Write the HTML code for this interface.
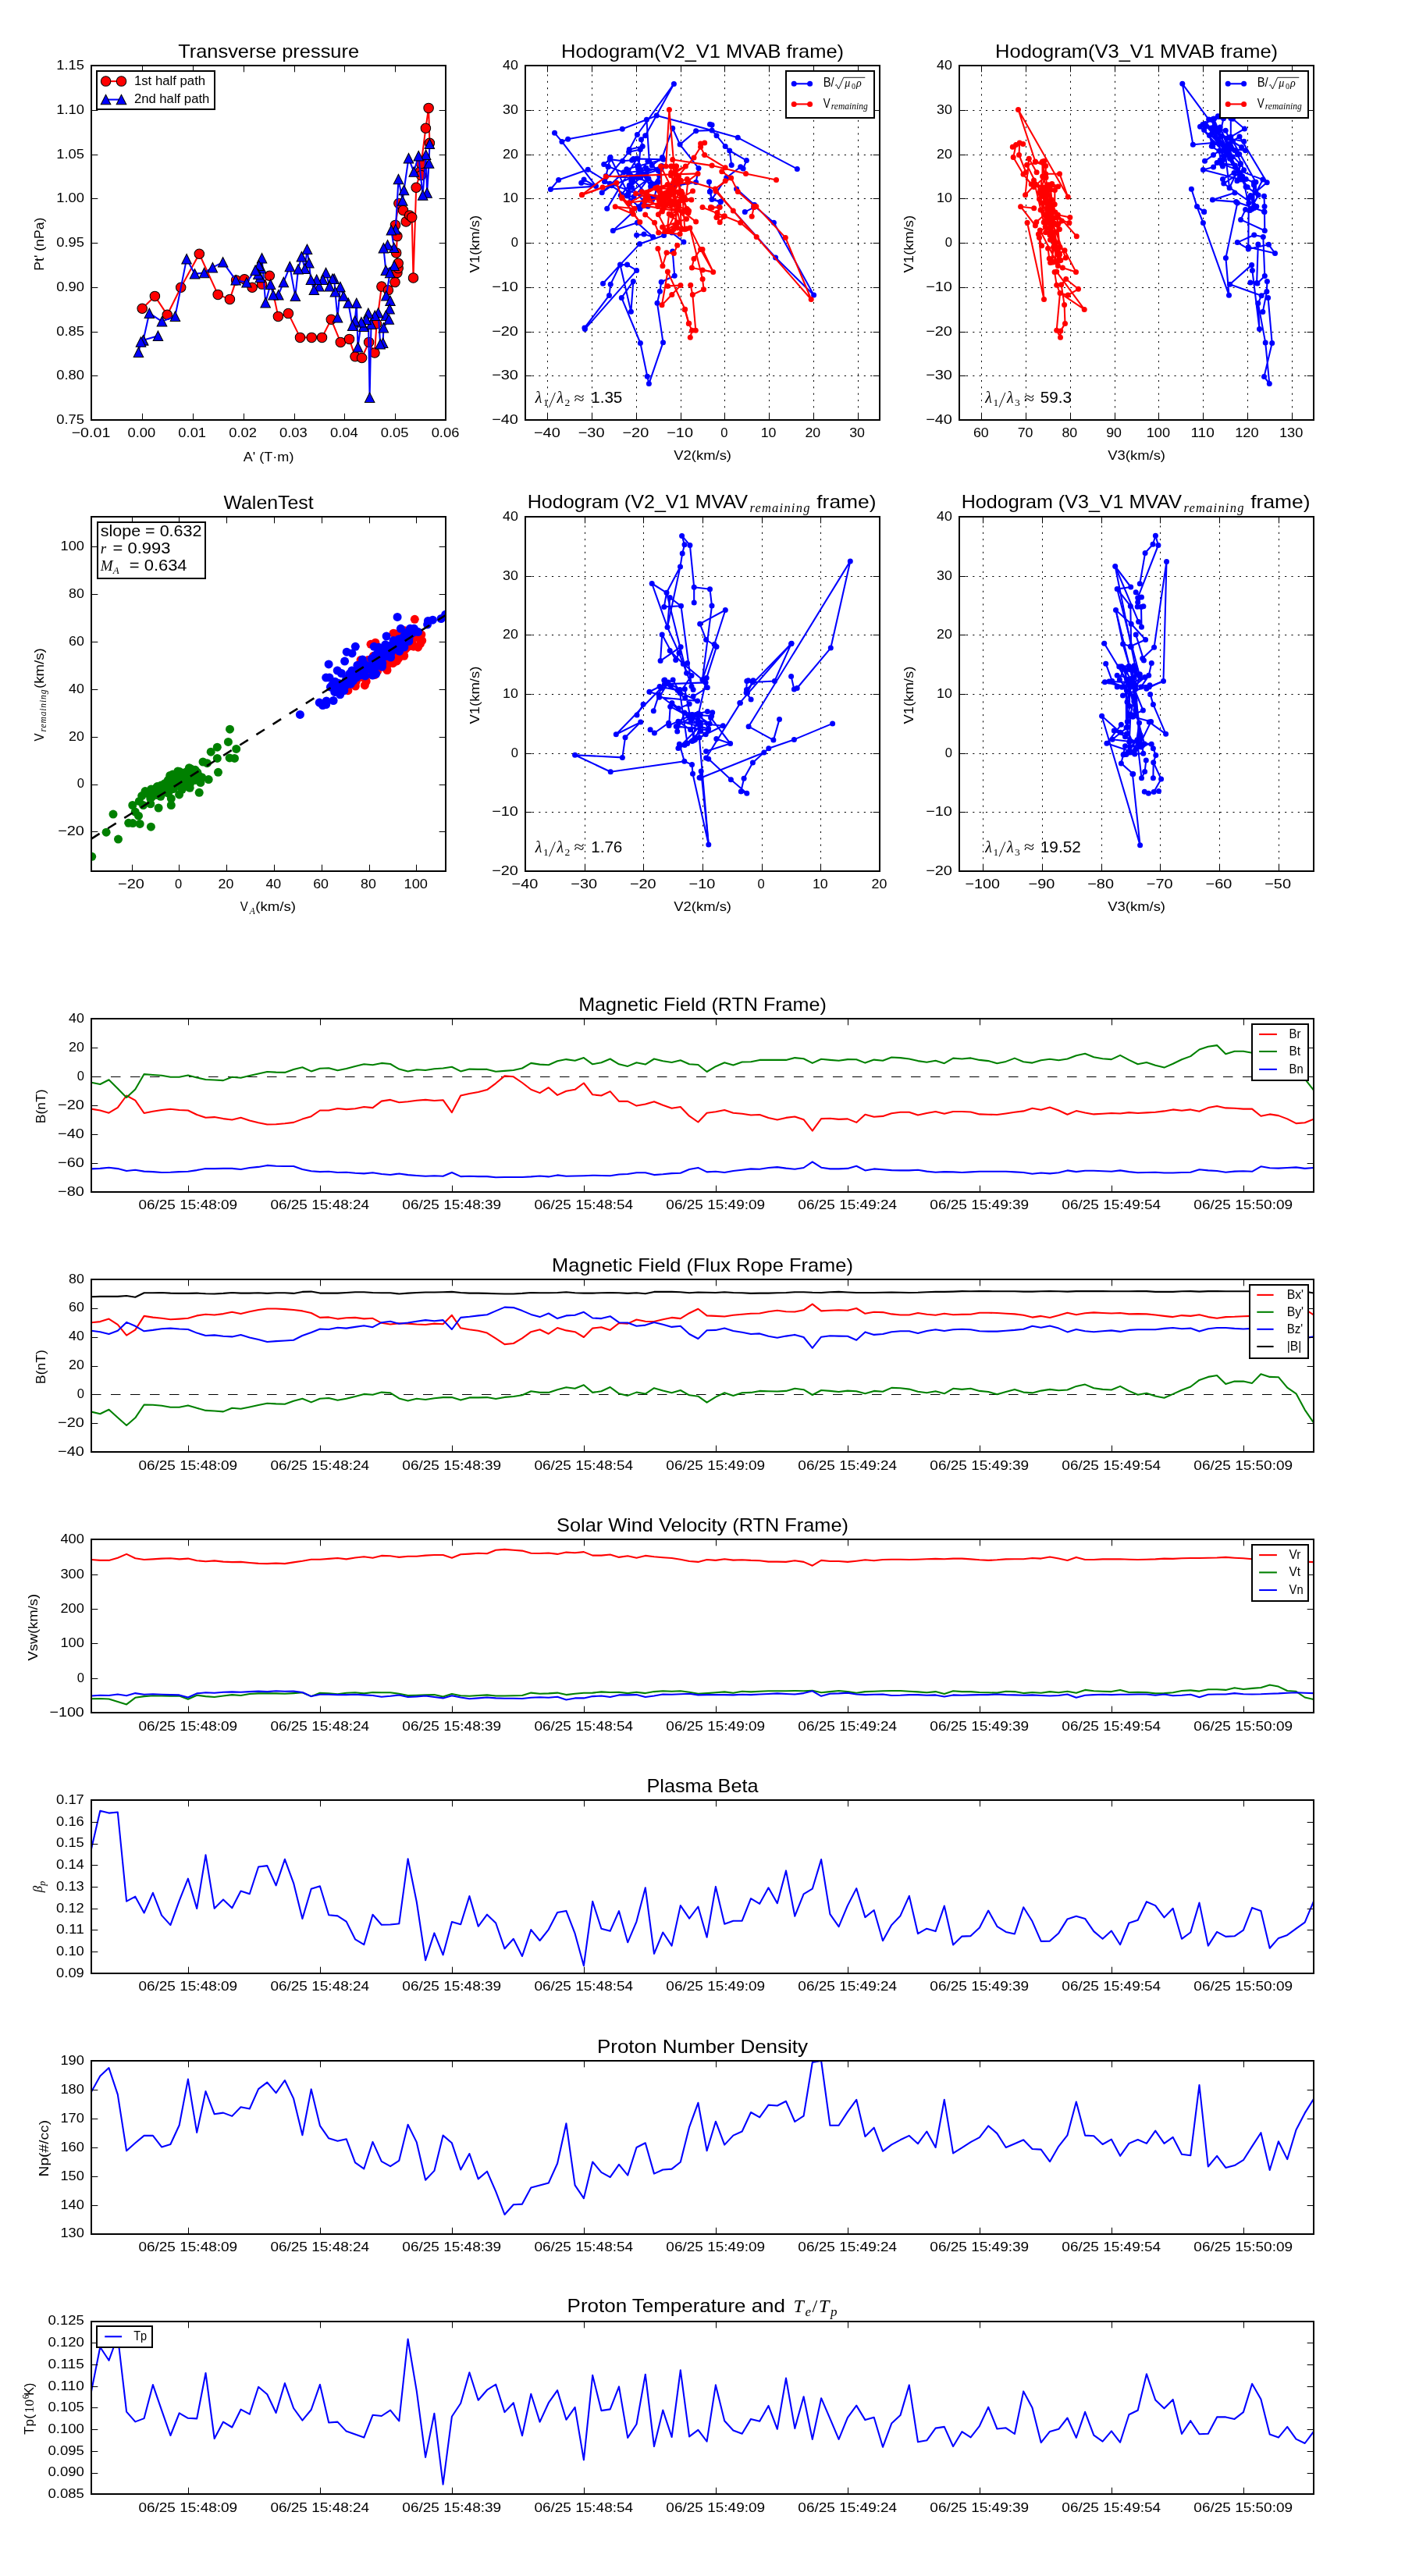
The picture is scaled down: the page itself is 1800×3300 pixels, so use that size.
<!DOCTYPE html><html><head><meta charset="utf-8"><title>Flux rope analysis</title>
<style>html,body{margin:0;padding:0;background:#fff}svg{display:block;will-change:transform}text{font-family:"Liberation Sans",sans-serif}text.m{font-family:"Liberation Serif",serif;font-style:italic}text.mr{font-family:"Liberation Serif",serif}</style></head><body>
<svg width="1800" height="3300" viewBox="0 0 1800 3300">
<rect x="0" y="0" width="1800" height="3300" fill="#fff"/>
<clipPath id="cpt"><rect x="117.10" y="84.10" width="454.00" height="454.10"/></clipPath>
<g clip-path="url(#cpt)">
<polyline fill="none" stroke="#ff0000" stroke-width="2.08" stroke-linejoin="round" points="182.2,395.3 198.4,379.4 214.3,403.3 231.7,368.3 255.3,325.3 279.2,377.4 294.4,383.4 302.6,358.9 313.2,357.7 323.1,368.3 335.6,364.1 345.3,353.3 356.4,405.4 369.4,401.6 384.5,432.4 399.2,432.4 412.5,432.4 424.3,409.3 436.3,438.4 447.5,434.4 455.0,456.8 463.6,458.5 472.6,438.4 480.0,452.0 482.5,414.8 488.9,367.1 497.4,371.7 506.0,361.5 508.9,349.5 510.2,343.6 510.2,337.2 507.7,323.9 508.9,302.6 506.5,288.4 510.9,260.5 516.5,269.4 520.2,283.9 524.7,275.9 527.7,278.4 529.5,356.0 533.2,240.3 538.6,219.6 539.6,224.6 539.6,209.6 545.4,164.3 549.1,138.4 550.4,183.2"/>
<circle cx="182.2" cy="395.3" r="6.25" fill="#ff0000" stroke="#000" stroke-width="1.04"/>
<circle cx="198.4" cy="379.4" r="6.25" fill="#ff0000" stroke="#000" stroke-width="1.04"/>
<circle cx="214.3" cy="403.3" r="6.25" fill="#ff0000" stroke="#000" stroke-width="1.04"/>
<circle cx="231.7" cy="368.3" r="6.25" fill="#ff0000" stroke="#000" stroke-width="1.04"/>
<circle cx="255.3" cy="325.3" r="6.25" fill="#ff0000" stroke="#000" stroke-width="1.04"/>
<circle cx="279.2" cy="377.4" r="6.25" fill="#ff0000" stroke="#000" stroke-width="1.04"/>
<circle cx="294.4" cy="383.4" r="6.25" fill="#ff0000" stroke="#000" stroke-width="1.04"/>
<circle cx="302.6" cy="358.9" r="6.25" fill="#ff0000" stroke="#000" stroke-width="1.04"/>
<circle cx="313.2" cy="357.7" r="6.25" fill="#ff0000" stroke="#000" stroke-width="1.04"/>
<circle cx="323.1" cy="368.3" r="6.25" fill="#ff0000" stroke="#000" stroke-width="1.04"/>
<circle cx="335.6" cy="364.1" r="6.25" fill="#ff0000" stroke="#000" stroke-width="1.04"/>
<circle cx="345.3" cy="353.3" r="6.25" fill="#ff0000" stroke="#000" stroke-width="1.04"/>
<circle cx="356.4" cy="405.4" r="6.25" fill="#ff0000" stroke="#000" stroke-width="1.04"/>
<circle cx="369.4" cy="401.6" r="6.25" fill="#ff0000" stroke="#000" stroke-width="1.04"/>
<circle cx="384.5" cy="432.4" r="6.25" fill="#ff0000" stroke="#000" stroke-width="1.04"/>
<circle cx="399.2" cy="432.4" r="6.25" fill="#ff0000" stroke="#000" stroke-width="1.04"/>
<circle cx="412.5" cy="432.4" r="6.25" fill="#ff0000" stroke="#000" stroke-width="1.04"/>
<circle cx="424.3" cy="409.3" r="6.25" fill="#ff0000" stroke="#000" stroke-width="1.04"/>
<circle cx="436.3" cy="438.4" r="6.25" fill="#ff0000" stroke="#000" stroke-width="1.04"/>
<circle cx="447.5" cy="434.4" r="6.25" fill="#ff0000" stroke="#000" stroke-width="1.04"/>
<circle cx="455.0" cy="456.8" r="6.25" fill="#ff0000" stroke="#000" stroke-width="1.04"/>
<circle cx="463.6" cy="458.5" r="6.25" fill="#ff0000" stroke="#000" stroke-width="1.04"/>
<circle cx="472.6" cy="438.4" r="6.25" fill="#ff0000" stroke="#000" stroke-width="1.04"/>
<circle cx="480.0" cy="452.0" r="6.25" fill="#ff0000" stroke="#000" stroke-width="1.04"/>
<circle cx="482.5" cy="414.8" r="6.25" fill="#ff0000" stroke="#000" stroke-width="1.04"/>
<circle cx="488.9" cy="367.1" r="6.25" fill="#ff0000" stroke="#000" stroke-width="1.04"/>
<circle cx="497.4" cy="371.7" r="6.25" fill="#ff0000" stroke="#000" stroke-width="1.04"/>
<circle cx="506.0" cy="361.5" r="6.25" fill="#ff0000" stroke="#000" stroke-width="1.04"/>
<circle cx="508.9" cy="349.5" r="6.25" fill="#ff0000" stroke="#000" stroke-width="1.04"/>
<circle cx="510.2" cy="343.6" r="6.25" fill="#ff0000" stroke="#000" stroke-width="1.04"/>
<circle cx="510.2" cy="337.2" r="6.25" fill="#ff0000" stroke="#000" stroke-width="1.04"/>
<circle cx="507.7" cy="323.9" r="6.25" fill="#ff0000" stroke="#000" stroke-width="1.04"/>
<circle cx="508.9" cy="302.6" r="6.25" fill="#ff0000" stroke="#000" stroke-width="1.04"/>
<circle cx="506.5" cy="288.4" r="6.25" fill="#ff0000" stroke="#000" stroke-width="1.04"/>
<circle cx="510.9" cy="260.5" r="6.25" fill="#ff0000" stroke="#000" stroke-width="1.04"/>
<circle cx="516.5" cy="269.4" r="6.25" fill="#ff0000" stroke="#000" stroke-width="1.04"/>
<circle cx="520.2" cy="283.9" r="6.25" fill="#ff0000" stroke="#000" stroke-width="1.04"/>
<circle cx="524.7" cy="275.9" r="6.25" fill="#ff0000" stroke="#000" stroke-width="1.04"/>
<circle cx="527.7" cy="278.4" r="6.25" fill="#ff0000" stroke="#000" stroke-width="1.04"/>
<circle cx="529.5" cy="356.0" r="6.25" fill="#ff0000" stroke="#000" stroke-width="1.04"/>
<circle cx="533.2" cy="240.3" r="6.25" fill="#ff0000" stroke="#000" stroke-width="1.04"/>
<circle cx="538.6" cy="219.6" r="6.25" fill="#ff0000" stroke="#000" stroke-width="1.04"/>
<circle cx="539.6" cy="224.6" r="6.25" fill="#ff0000" stroke="#000" stroke-width="1.04"/>
<circle cx="539.6" cy="209.6" r="6.25" fill="#ff0000" stroke="#000" stroke-width="1.04"/>
<circle cx="545.4" cy="164.3" r="6.25" fill="#ff0000" stroke="#000" stroke-width="1.04"/>
<circle cx="549.1" cy="138.4" r="6.25" fill="#ff0000" stroke="#000" stroke-width="1.04"/>
<circle cx="550.4" cy="183.2" r="6.25" fill="#ff0000" stroke="#000" stroke-width="1.04"/>
<polyline fill="none" stroke="#0000ff" stroke-width="2.08" stroke-linejoin="round" points="550.4,184.2 549.6,209.1 547.1,247.0 545.6,198.2 541.6,250.0 536.2,199.7 530.2,220.1 523.5,202.7 517.5,243.5 515.7,257.0 510.5,229.6 506.8,293.8 501.3,294.8 504.8,317.3 496.6,313.8 491.4,317.6 494.3,346.1 505.1,340.1 499.6,349.5 494.8,378.9 500.0,385.4 499.1,395.7 494.3,404.2 498.3,409.0 491.4,419.9 490.6,439.2 487.2,440.9 484.6,400.8 480.3,404.2 475.5,415.3 473.6,509.3 471.8,401.1 469.2,409.3 465.8,418.2 462.9,412.7 458.5,444.7 456.8,388.3 454.7,411.0 451.6,417.4 446.2,388.0 440.2,379.4 435.9,367.5 432.5,406.8 429.4,373.8 428.2,357.2 426.0,357.2 422.2,366.6 417.5,349.5 413.7,358.1 408.9,366.6 405.7,358.1 402.3,371.4 398.3,358.4 395.8,336.7 393.5,319.3 390.6,344.1 386.4,328.7 382.1,344.8 378.3,379.4 371.3,341.5 363.3,361.5 356.8,377.7 350.0,377.7 346.6,364.1 340.2,387.6 335.5,330.7 334.6,343.6 331.7,340.1 333.4,355.5 330.8,351.2 327.1,346.1 316.0,361.8 302.1,358.9 285.6,335.9 272.4,342.7 261.6,349.5 249.5,350.9 239.1,331.6 224.4,405.1 207.5,411.9 191.3,401.1 183.6,435.8 202.4,430.2 183.6,435.8 180.5,438.0 177.4,451.2"/>
<path d="M550.4 177.9L544.1 190.4L556.6 190.4Z" fill="#0000ff" stroke="#000" stroke-width="1.04" stroke-linejoin="miter"/>
<path d="M549.6 202.8L543.4 215.3L555.9 215.3Z" fill="#0000ff" stroke="#000" stroke-width="1.04" stroke-linejoin="miter"/>
<path d="M547.1 240.8L540.9 253.2L553.4 253.2Z" fill="#0000ff" stroke="#000" stroke-width="1.04" stroke-linejoin="miter"/>
<path d="M545.6 191.9L539.4 204.4L551.9 204.4Z" fill="#0000ff" stroke="#000" stroke-width="1.04" stroke-linejoin="miter"/>
<path d="M541.6 243.8L535.4 256.2L547.9 256.2Z" fill="#0000ff" stroke="#000" stroke-width="1.04" stroke-linejoin="miter"/>
<path d="M536.2 193.4L530.0 205.9L542.5 205.9Z" fill="#0000ff" stroke="#000" stroke-width="1.04" stroke-linejoin="miter"/>
<path d="M530.2 213.8L524.0 226.3L536.5 226.3Z" fill="#0000ff" stroke="#000" stroke-width="1.04" stroke-linejoin="miter"/>
<path d="M523.5 196.4L517.2 208.9L529.8 208.9Z" fill="#0000ff" stroke="#000" stroke-width="1.04" stroke-linejoin="miter"/>
<path d="M517.5 237.2L511.2 249.8L523.8 249.8Z" fill="#0000ff" stroke="#000" stroke-width="1.04" stroke-linejoin="miter"/>
<path d="M515.7 250.8L509.5 263.2L522.0 263.2Z" fill="#0000ff" stroke="#000" stroke-width="1.04" stroke-linejoin="miter"/>
<path d="M510.5 223.3L504.2 235.8L516.8 235.8Z" fill="#0000ff" stroke="#000" stroke-width="1.04" stroke-linejoin="miter"/>
<path d="M506.8 287.6L500.6 300.1L513.0 300.1Z" fill="#0000ff" stroke="#000" stroke-width="1.04" stroke-linejoin="miter"/>
<path d="M501.3 288.6L495.1 301.1L507.6 301.1Z" fill="#0000ff" stroke="#000" stroke-width="1.04" stroke-linejoin="miter"/>
<path d="M504.8 311.1L498.6 323.6L511.1 323.6Z" fill="#0000ff" stroke="#000" stroke-width="1.04" stroke-linejoin="miter"/>
<path d="M496.6 307.6L490.4 320.1L502.9 320.1Z" fill="#0000ff" stroke="#000" stroke-width="1.04" stroke-linejoin="miter"/>
<path d="M491.4 311.4L485.1 323.9L497.6 323.9Z" fill="#0000ff" stroke="#000" stroke-width="1.04" stroke-linejoin="miter"/>
<path d="M494.3 339.9L488.1 352.4L500.6 352.4Z" fill="#0000ff" stroke="#000" stroke-width="1.04" stroke-linejoin="miter"/>
<path d="M505.1 333.9L498.9 346.4L511.4 346.4Z" fill="#0000ff" stroke="#000" stroke-width="1.04" stroke-linejoin="miter"/>
<path d="M499.6 343.2L493.4 355.8L505.9 355.8Z" fill="#0000ff" stroke="#000" stroke-width="1.04" stroke-linejoin="miter"/>
<path d="M494.8 372.6L488.6 385.1L501.1 385.1Z" fill="#0000ff" stroke="#000" stroke-width="1.04" stroke-linejoin="miter"/>
<path d="M500.0 379.1L493.8 391.6L506.2 391.6Z" fill="#0000ff" stroke="#000" stroke-width="1.04" stroke-linejoin="miter"/>
<path d="M499.1 389.4L492.9 401.9L505.4 401.9Z" fill="#0000ff" stroke="#000" stroke-width="1.04" stroke-linejoin="miter"/>
<path d="M494.3 397.9L488.1 410.4L500.6 410.4Z" fill="#0000ff" stroke="#000" stroke-width="1.04" stroke-linejoin="miter"/>
<path d="M498.3 402.8L492.1 415.2L504.6 415.2Z" fill="#0000ff" stroke="#000" stroke-width="1.04" stroke-linejoin="miter"/>
<path d="M491.4 413.6L485.1 426.1L497.6 426.1Z" fill="#0000ff" stroke="#000" stroke-width="1.04" stroke-linejoin="miter"/>
<path d="M490.6 432.9L484.4 445.4L496.9 445.4Z" fill="#0000ff" stroke="#000" stroke-width="1.04" stroke-linejoin="miter"/>
<path d="M487.2 434.6L480.9 447.1L493.4 447.1Z" fill="#0000ff" stroke="#000" stroke-width="1.04" stroke-linejoin="miter"/>
<path d="M484.6 394.6L478.4 407.1L490.9 407.1Z" fill="#0000ff" stroke="#000" stroke-width="1.04" stroke-linejoin="miter"/>
<path d="M480.3 397.9L474.1 410.4L486.6 410.4Z" fill="#0000ff" stroke="#000" stroke-width="1.04" stroke-linejoin="miter"/>
<path d="M475.5 409.1L469.2 421.6L481.8 421.6Z" fill="#0000ff" stroke="#000" stroke-width="1.04" stroke-linejoin="miter"/>
<path d="M473.6 503.1L467.4 515.5L479.9 515.5Z" fill="#0000ff" stroke="#000" stroke-width="1.04" stroke-linejoin="miter"/>
<path d="M471.8 394.9L465.6 407.4L478.1 407.4Z" fill="#0000ff" stroke="#000" stroke-width="1.04" stroke-linejoin="miter"/>
<path d="M469.2 403.1L462.9 415.6L475.4 415.6Z" fill="#0000ff" stroke="#000" stroke-width="1.04" stroke-linejoin="miter"/>
<path d="M465.8 411.9L459.6 424.4L472.1 424.4Z" fill="#0000ff" stroke="#000" stroke-width="1.04" stroke-linejoin="miter"/>
<path d="M462.9 406.4L456.6 418.9L469.1 418.9Z" fill="#0000ff" stroke="#000" stroke-width="1.04" stroke-linejoin="miter"/>
<path d="M458.5 438.4L452.2 450.9L464.8 450.9Z" fill="#0000ff" stroke="#000" stroke-width="1.04" stroke-linejoin="miter"/>
<path d="M456.8 382.1L450.6 394.6L463.1 394.6Z" fill="#0000ff" stroke="#000" stroke-width="1.04" stroke-linejoin="miter"/>
<path d="M454.7 404.8L448.4 417.2L460.9 417.2Z" fill="#0000ff" stroke="#000" stroke-width="1.04" stroke-linejoin="miter"/>
<path d="M451.6 411.1L445.4 423.6L457.9 423.6Z" fill="#0000ff" stroke="#000" stroke-width="1.04" stroke-linejoin="miter"/>
<path d="M446.2 381.8L439.9 394.2L452.4 394.2Z" fill="#0000ff" stroke="#000" stroke-width="1.04" stroke-linejoin="miter"/>
<path d="M440.2 373.1L433.9 385.6L446.4 385.6Z" fill="#0000ff" stroke="#000" stroke-width="1.04" stroke-linejoin="miter"/>
<path d="M435.9 361.2L429.6 373.8L442.1 373.8Z" fill="#0000ff" stroke="#000" stroke-width="1.04" stroke-linejoin="miter"/>
<path d="M432.5 400.6L426.2 413.1L438.8 413.1Z" fill="#0000ff" stroke="#000" stroke-width="1.04" stroke-linejoin="miter"/>
<path d="M429.4 367.6L423.1 380.1L435.6 380.1Z" fill="#0000ff" stroke="#000" stroke-width="1.04" stroke-linejoin="miter"/>
<path d="M428.2 350.9L421.9 363.4L434.4 363.4Z" fill="#0000ff" stroke="#000" stroke-width="1.04" stroke-linejoin="miter"/>
<path d="M426.0 350.9L419.8 363.4L432.2 363.4Z" fill="#0000ff" stroke="#000" stroke-width="1.04" stroke-linejoin="miter"/>
<path d="M422.2 360.4L415.9 372.9L428.4 372.9Z" fill="#0000ff" stroke="#000" stroke-width="1.04" stroke-linejoin="miter"/>
<path d="M417.5 343.2L411.2 355.8L423.8 355.8Z" fill="#0000ff" stroke="#000" stroke-width="1.04" stroke-linejoin="miter"/>
<path d="M413.7 351.9L407.4 364.4L419.9 364.4Z" fill="#0000ff" stroke="#000" stroke-width="1.04" stroke-linejoin="miter"/>
<path d="M408.9 360.4L402.6 372.9L415.1 372.9Z" fill="#0000ff" stroke="#000" stroke-width="1.04" stroke-linejoin="miter"/>
<path d="M405.7 351.9L399.4 364.4L411.9 364.4Z" fill="#0000ff" stroke="#000" stroke-width="1.04" stroke-linejoin="miter"/>
<path d="M402.3 365.1L396.1 377.6L408.6 377.6Z" fill="#0000ff" stroke="#000" stroke-width="1.04" stroke-linejoin="miter"/>
<path d="M398.3 352.1L392.1 364.6L404.6 364.6Z" fill="#0000ff" stroke="#000" stroke-width="1.04" stroke-linejoin="miter"/>
<path d="M395.8 330.4L389.6 342.9L402.1 342.9Z" fill="#0000ff" stroke="#000" stroke-width="1.04" stroke-linejoin="miter"/>
<path d="M393.5 313.1L387.2 325.6L399.8 325.6Z" fill="#0000ff" stroke="#000" stroke-width="1.04" stroke-linejoin="miter"/>
<path d="M390.6 337.9L384.4 350.4L396.9 350.4Z" fill="#0000ff" stroke="#000" stroke-width="1.04" stroke-linejoin="miter"/>
<path d="M386.4 322.4L380.1 334.9L392.6 334.9Z" fill="#0000ff" stroke="#000" stroke-width="1.04" stroke-linejoin="miter"/>
<path d="M382.1 338.6L375.9 351.1L388.4 351.1Z" fill="#0000ff" stroke="#000" stroke-width="1.04" stroke-linejoin="miter"/>
<path d="M378.3 373.1L372.1 385.6L384.6 385.6Z" fill="#0000ff" stroke="#000" stroke-width="1.04" stroke-linejoin="miter"/>
<path d="M371.3 335.2L365.1 347.8L377.6 347.8Z" fill="#0000ff" stroke="#000" stroke-width="1.04" stroke-linejoin="miter"/>
<path d="M363.3 355.2L357.1 367.8L369.6 367.8Z" fill="#0000ff" stroke="#000" stroke-width="1.04" stroke-linejoin="miter"/>
<path d="M356.8 371.4L350.6 383.9L363.1 383.9Z" fill="#0000ff" stroke="#000" stroke-width="1.04" stroke-linejoin="miter"/>
<path d="M350.0 371.4L343.8 383.9L356.2 383.9Z" fill="#0000ff" stroke="#000" stroke-width="1.04" stroke-linejoin="miter"/>
<path d="M346.6 357.9L340.4 370.4L352.9 370.4Z" fill="#0000ff" stroke="#000" stroke-width="1.04" stroke-linejoin="miter"/>
<path d="M340.2 381.4L333.9 393.9L346.4 393.9Z" fill="#0000ff" stroke="#000" stroke-width="1.04" stroke-linejoin="miter"/>
<path d="M335.5 324.4L329.2 336.9L341.8 336.9Z" fill="#0000ff" stroke="#000" stroke-width="1.04" stroke-linejoin="miter"/>
<path d="M334.6 337.4L328.4 349.9L340.9 349.9Z" fill="#0000ff" stroke="#000" stroke-width="1.04" stroke-linejoin="miter"/>
<path d="M331.7 333.9L325.4 346.4L337.9 346.4Z" fill="#0000ff" stroke="#000" stroke-width="1.04" stroke-linejoin="miter"/>
<path d="M333.4 349.2L327.1 361.8L339.6 361.8Z" fill="#0000ff" stroke="#000" stroke-width="1.04" stroke-linejoin="miter"/>
<path d="M330.8 344.9L324.6 357.4L337.1 357.4Z" fill="#0000ff" stroke="#000" stroke-width="1.04" stroke-linejoin="miter"/>
<path d="M327.1 339.9L320.9 352.4L333.4 352.4Z" fill="#0000ff" stroke="#000" stroke-width="1.04" stroke-linejoin="miter"/>
<path d="M316.0 355.6L309.8 368.1L322.2 368.1Z" fill="#0000ff" stroke="#000" stroke-width="1.04" stroke-linejoin="miter"/>
<path d="M302.1 352.6L295.9 365.1L308.4 365.1Z" fill="#0000ff" stroke="#000" stroke-width="1.04" stroke-linejoin="miter"/>
<path d="M285.6 329.6L279.4 342.1L291.9 342.1Z" fill="#0000ff" stroke="#000" stroke-width="1.04" stroke-linejoin="miter"/>
<path d="M272.4 336.4L266.1 348.9L278.6 348.9Z" fill="#0000ff" stroke="#000" stroke-width="1.04" stroke-linejoin="miter"/>
<path d="M261.6 343.2L255.4 355.8L267.9 355.8Z" fill="#0000ff" stroke="#000" stroke-width="1.04" stroke-linejoin="miter"/>
<path d="M249.5 344.6L243.2 357.1L255.8 357.1Z" fill="#0000ff" stroke="#000" stroke-width="1.04" stroke-linejoin="miter"/>
<path d="M239.1 325.4L232.8 337.9L245.3 337.9Z" fill="#0000ff" stroke="#000" stroke-width="1.04" stroke-linejoin="miter"/>
<path d="M224.4 398.9L218.2 411.4L230.7 411.4Z" fill="#0000ff" stroke="#000" stroke-width="1.04" stroke-linejoin="miter"/>
<path d="M207.5 405.6L201.2 418.1L213.8 418.1Z" fill="#0000ff" stroke="#000" stroke-width="1.04" stroke-linejoin="miter"/>
<path d="M191.3 394.9L185.1 407.4L197.6 407.4Z" fill="#0000ff" stroke="#000" stroke-width="1.04" stroke-linejoin="miter"/>
<path d="M183.6 429.6L177.3 442.1L189.8 442.1Z" fill="#0000ff" stroke="#000" stroke-width="1.04" stroke-linejoin="miter"/>
<path d="M202.4 423.9L196.2 436.4L208.7 436.4Z" fill="#0000ff" stroke="#000" stroke-width="1.04" stroke-linejoin="miter"/>
<path d="M183.6 429.6L177.3 442.1L189.8 442.1Z" fill="#0000ff" stroke="#000" stroke-width="1.04" stroke-linejoin="miter"/>
<path d="M180.5 431.8L174.2 444.2L186.8 444.2Z" fill="#0000ff" stroke="#000" stroke-width="1.04" stroke-linejoin="miter"/>
<path d="M177.4 444.9L171.2 457.4L183.7 457.4Z" fill="#0000ff" stroke="#000" stroke-width="1.04" stroke-linejoin="miter"/>
</g>
<rect x="117" y="84" width="454" height="454" fill="none" stroke="#000" stroke-width="2"/>
<line x1="117.50" y1="538.00" x2="117.50" y2="529.67" stroke="#000" stroke-width="1.00" stroke-linecap="butt"/>
<line x1="117.50" y1="84.00" x2="117.50" y2="92.33" stroke="#000" stroke-width="1.00" stroke-linecap="butt"/>
<text x="116.50" y="559.60" font-size="17.17" text-anchor="middle" textLength="49.67" lengthAdjust="spacingAndGlyphs" fill="#000">−0.01</text>
<line x1="182.50" y1="538.00" x2="182.50" y2="529.67" stroke="#000" stroke-width="1.00" stroke-linecap="butt"/>
<line x1="182.50" y1="84.00" x2="182.50" y2="92.33" stroke="#000" stroke-width="1.00" stroke-linecap="butt"/>
<text x="181.36" y="559.60" font-size="17.17" text-anchor="middle" textLength="35.70" lengthAdjust="spacingAndGlyphs" fill="#000">0.00</text>
<line x1="247.50" y1="538.00" x2="247.50" y2="529.67" stroke="#000" stroke-width="1.00" stroke-linecap="butt"/>
<line x1="247.50" y1="84.00" x2="247.50" y2="92.33" stroke="#000" stroke-width="1.00" stroke-linecap="butt"/>
<text x="246.21" y="559.60" font-size="17.17" text-anchor="middle" textLength="35.70" lengthAdjust="spacingAndGlyphs" fill="#000">0.01</text>
<line x1="312.50" y1="538.00" x2="312.50" y2="529.67" stroke="#000" stroke-width="1.00" stroke-linecap="butt"/>
<line x1="312.50" y1="84.00" x2="312.50" y2="92.33" stroke="#000" stroke-width="1.00" stroke-linecap="butt"/>
<text x="311.07" y="559.60" font-size="17.17" text-anchor="middle" textLength="35.70" lengthAdjust="spacingAndGlyphs" fill="#000">0.02</text>
<line x1="377.50" y1="538.00" x2="377.50" y2="529.67" stroke="#000" stroke-width="1.00" stroke-linecap="butt"/>
<line x1="377.50" y1="84.00" x2="377.50" y2="92.33" stroke="#000" stroke-width="1.00" stroke-linecap="butt"/>
<text x="375.93" y="559.60" font-size="17.17" text-anchor="middle" textLength="35.70" lengthAdjust="spacingAndGlyphs" fill="#000">0.03</text>
<line x1="441.50" y1="538.00" x2="441.50" y2="529.67" stroke="#000" stroke-width="1.00" stroke-linecap="butt"/>
<line x1="441.50" y1="84.00" x2="441.50" y2="92.33" stroke="#000" stroke-width="1.00" stroke-linecap="butt"/>
<text x="440.79" y="559.60" font-size="17.17" text-anchor="middle" textLength="35.70" lengthAdjust="spacingAndGlyphs" fill="#000">0.04</text>
<line x1="506.50" y1="538.00" x2="506.50" y2="529.67" stroke="#000" stroke-width="1.00" stroke-linecap="butt"/>
<line x1="506.50" y1="84.00" x2="506.50" y2="92.33" stroke="#000" stroke-width="1.00" stroke-linecap="butt"/>
<text x="505.64" y="559.60" font-size="17.17" text-anchor="middle" textLength="35.70" lengthAdjust="spacingAndGlyphs" fill="#000">0.05</text>
<line x1="571.50" y1="538.00" x2="571.50" y2="529.67" stroke="#000" stroke-width="1.00" stroke-linecap="butt"/>
<line x1="571.50" y1="84.00" x2="571.50" y2="92.33" stroke="#000" stroke-width="1.00" stroke-linecap="butt"/>
<text x="570.50" y="559.60" font-size="17.17" text-anchor="middle" textLength="35.70" lengthAdjust="spacingAndGlyphs" fill="#000">0.06</text>
<line x1="117.00" y1="538.50" x2="125.33" y2="538.50" stroke="#000" stroke-width="1.00" stroke-linecap="butt"/>
<line x1="571.00" y1="538.50" x2="562.67" y2="538.50" stroke="#000" stroke-width="1.00" stroke-linecap="butt"/>
<text x="107.94" y="543.10" font-size="17.17" text-anchor="end" textLength="35.70" lengthAdjust="spacingAndGlyphs" fill="#000">0.75</text>
<line x1="117.00" y1="481.50" x2="125.33" y2="481.50" stroke="#000" stroke-width="1.00" stroke-linecap="butt"/>
<line x1="571.00" y1="481.50" x2="562.67" y2="481.50" stroke="#000" stroke-width="1.00" stroke-linecap="butt"/>
<text x="107.94" y="486.34" font-size="17.17" text-anchor="end" textLength="35.70" lengthAdjust="spacingAndGlyphs" fill="#000">0.80</text>
<line x1="117.00" y1="425.50" x2="125.33" y2="425.50" stroke="#000" stroke-width="1.00" stroke-linecap="butt"/>
<line x1="571.00" y1="425.50" x2="562.67" y2="425.50" stroke="#000" stroke-width="1.00" stroke-linecap="butt"/>
<text x="107.94" y="429.58" font-size="17.17" text-anchor="end" textLength="35.70" lengthAdjust="spacingAndGlyphs" fill="#000">0.85</text>
<line x1="117.00" y1="368.50" x2="125.33" y2="368.50" stroke="#000" stroke-width="1.00" stroke-linecap="butt"/>
<line x1="571.00" y1="368.50" x2="562.67" y2="368.50" stroke="#000" stroke-width="1.00" stroke-linecap="butt"/>
<text x="107.94" y="372.81" font-size="17.17" text-anchor="end" textLength="35.70" lengthAdjust="spacingAndGlyphs" fill="#000">0.90</text>
<line x1="117.00" y1="311.50" x2="125.33" y2="311.50" stroke="#000" stroke-width="1.00" stroke-linecap="butt"/>
<line x1="571.00" y1="311.50" x2="562.67" y2="311.50" stroke="#000" stroke-width="1.00" stroke-linecap="butt"/>
<text x="107.94" y="316.05" font-size="17.17" text-anchor="end" textLength="35.70" lengthAdjust="spacingAndGlyphs" fill="#000">0.95</text>
<line x1="117.00" y1="254.50" x2="125.33" y2="254.50" stroke="#000" stroke-width="1.00" stroke-linecap="butt"/>
<line x1="571.00" y1="254.50" x2="562.67" y2="254.50" stroke="#000" stroke-width="1.00" stroke-linecap="butt"/>
<text x="107.94" y="259.29" font-size="17.17" text-anchor="end" textLength="35.70" lengthAdjust="spacingAndGlyphs" fill="#000">1.00</text>
<line x1="117.00" y1="198.50" x2="125.33" y2="198.50" stroke="#000" stroke-width="1.00" stroke-linecap="butt"/>
<line x1="571.00" y1="198.50" x2="562.67" y2="198.50" stroke="#000" stroke-width="1.00" stroke-linecap="butt"/>
<text x="107.94" y="202.52" font-size="17.17" text-anchor="end" textLength="35.70" lengthAdjust="spacingAndGlyphs" fill="#000">1.05</text>
<line x1="117.00" y1="141.50" x2="125.33" y2="141.50" stroke="#000" stroke-width="1.00" stroke-linecap="butt"/>
<line x1="571.00" y1="141.50" x2="562.67" y2="141.50" stroke="#000" stroke-width="1.00" stroke-linecap="butt"/>
<text x="107.94" y="145.76" font-size="17.17" text-anchor="end" textLength="35.70" lengthAdjust="spacingAndGlyphs" fill="#000">1.10</text>
<line x1="117.00" y1="84.50" x2="125.33" y2="84.50" stroke="#000" stroke-width="1.00" stroke-linecap="butt"/>
<line x1="571.00" y1="84.50" x2="562.67" y2="84.50" stroke="#000" stroke-width="1.00" stroke-linecap="butt"/>
<text x="107.94" y="89.00" font-size="17.17" text-anchor="end" textLength="35.70" lengthAdjust="spacingAndGlyphs" fill="#000">1.15</text>
<text x="344.10" y="74.10" font-size="24.00" text-anchor="middle" textLength="231.82" lengthAdjust="spacingAndGlyphs" fill="#000">Transverse pressure</text>
<text x="344.10" y="591.20" font-size="17.17" text-anchor="middle" textLength="64.60" lengthAdjust="spacingAndGlyphs" fill="#000">A' (T·m)</text>
<text x="56.30" y="312.65" font-size="17.17" text-anchor="middle" textLength="68.15" lengthAdjust="spacingAndGlyphs" fill="#000" transform="rotate(-90 56.30 312.65)">Pt' (nPa)</text>
<rect x="124" y="91" width="151" height="49" fill="#fff" stroke="#000" stroke-width="2"/>
<line x1="135.60" y1="104.10" x2="155.50" y2="104.10" stroke="#ff0000" stroke-width="2.08" stroke-linecap="butt"/>
<circle cx="135.6" cy="104.1" r="6.25" fill="#ff0000" stroke="#000" stroke-width="1.04"/>
<circle cx="155.5" cy="104.1" r="6.25" fill="#ff0000" stroke="#000" stroke-width="1.04"/>
<line x1="135.60" y1="127.60" x2="155.50" y2="127.60" stroke="#0000ff" stroke-width="2.08" stroke-linecap="butt"/>
<path d="M135.6 121.3L129.3 133.8L141.8 133.8Z" fill="#0000ff" stroke="#000" stroke-width="1.04" stroke-linejoin="miter"/>
<path d="M155.5 121.3L149.2 133.8L161.8 133.8Z" fill="#0000ff" stroke="#000" stroke-width="1.04" stroke-linejoin="miter"/>
<text x="171.90" y="108.80" font-size="15.80" text-anchor="start" textLength="91.25" lengthAdjust="spacingAndGlyphs" fill="#000">1st half path</text>
<text x="171.90" y="132.10" font-size="15.80" text-anchor="start" textLength="96.44" lengthAdjust="spacingAndGlyphs" fill="#000">2nd half path</text>
<clipPath id="cwal"><rect x="117.10" y="662.10" width="454.00" height="454.00"/></clipPath>
<g clip-path="url(#cwal)">
<circle cx="531.3" cy="793.3" r="5.50" fill="#ff0000"/>
<circle cx="475.0" cy="825.3" r="5.50" fill="#ff0000"/>
<circle cx="480.9" cy="823.2" r="5.50" fill="#ff0000"/>
<circle cx="506.6" cy="812.1" r="5.50" fill="#ff0000"/>
<circle cx="539.9" cy="813.0" r="5.50" fill="#ff0000"/>
<circle cx="540.7" cy="820.6" r="5.50" fill="#ff0000"/>
<circle cx="535.6" cy="829.2" r="5.50" fill="#ff0000"/>
<circle cx="527.9" cy="824.1" r="5.50" fill="#ff0000"/>
<circle cx="517.7" cy="840.3" r="5.50" fill="#ff0000"/>
<circle cx="510.5" cy="843.7" r="5.50" fill="#ff0000"/>
<circle cx="496.3" cy="852.2" r="5.50" fill="#ff0000"/>
<circle cx="445.9" cy="884.7" r="5.50" fill="#ff0000"/>
<circle cx="467.3" cy="862.5" r="5.50" fill="#ff0000"/>
<circle cx="462.1" cy="845.4" r="5.50" fill="#ff0000"/>
<circle cx="471.5" cy="845.4" r="5.50" fill="#ff0000"/>
<circle cx="478.4" cy="840.3" r="5.50" fill="#ff0000"/>
<circle cx="488.6" cy="840.3" r="5.50" fill="#ff0000"/>
<circle cx="519.4" cy="831.7" r="5.50" fill="#ff0000"/>
<circle cx="512.5" cy="811.2" r="5.50" fill="#ff0000"/>
<circle cx="518.5" cy="807.8" r="5.50" fill="#ff0000"/>
<circle cx="504.0" cy="811.2" r="5.50" fill="#ff0000"/>
<circle cx="533.0" cy="816.4" r="5.50" fill="#ff0000"/>
<circle cx="503.8" cy="845.7" r="5.50" fill="#ff0000"/>
<circle cx="517.1" cy="838.4" r="5.50" fill="#ff0000"/>
<circle cx="491.1" cy="848.4" r="5.50" fill="#ff0000"/>
<circle cx="480.9" cy="855.4" r="5.50" fill="#ff0000"/>
<circle cx="503.5" cy="849.7" r="5.50" fill="#ff0000"/>
<circle cx="488.2" cy="849.3" r="5.50" fill="#ff0000"/>
<circle cx="524.1" cy="827.9" r="5.50" fill="#ff0000"/>
<circle cx="482.4" cy="856.9" r="5.50" fill="#ff0000"/>
<circle cx="483.6" cy="859.6" r="5.50" fill="#ff0000"/>
<circle cx="497.8" cy="849.7" r="5.50" fill="#ff0000"/>
<circle cx="508.9" cy="839.8" r="5.50" fill="#ff0000"/>
<circle cx="529.8" cy="828.2" r="5.50" fill="#ff0000"/>
<circle cx="466.1" cy="864.6" r="5.50" fill="#ff0000"/>
<circle cx="469.2" cy="873.0" r="5.50" fill="#ff0000"/>
<circle cx="503.8" cy="839.0" r="5.50" fill="#ff0000"/>
<circle cx="466.5" cy="865.2" r="5.50" fill="#ff0000"/>
<circle cx="461.9" cy="867.6" r="5.50" fill="#ff0000"/>
<circle cx="501.7" cy="842.8" r="5.50" fill="#ff0000"/>
<circle cx="498.6" cy="845.0" r="5.50" fill="#ff0000"/>
<circle cx="495.9" cy="841.8" r="5.50" fill="#ff0000"/>
<circle cx="469.3" cy="856.2" r="5.50" fill="#ff0000"/>
<circle cx="514.6" cy="838.5" r="5.50" fill="#ff0000"/>
<circle cx="487.6" cy="852.3" r="5.50" fill="#ff0000"/>
<circle cx="508.3" cy="832.7" r="5.50" fill="#ff0000"/>
<circle cx="482.2" cy="846.6" r="5.50" fill="#ff0000"/>
<circle cx="451.6" cy="876.2" r="5.50" fill="#ff0000"/>
<circle cx="458.3" cy="856.6" r="5.50" fill="#ff0000"/>
<circle cx="501.3" cy="846.0" r="5.50" fill="#ff0000"/>
<circle cx="522.9" cy="828.0" r="5.50" fill="#ff0000"/>
<circle cx="507.4" cy="840.3" r="5.50" fill="#ff0000"/>
<circle cx="473.3" cy="862.2" r="5.50" fill="#ff0000"/>
<circle cx="498.5" cy="844.0" r="5.50" fill="#ff0000"/>
<circle cx="455.4" cy="879.0" r="5.50" fill="#ff0000"/>
<circle cx="492.4" cy="852.6" r="5.50" fill="#ff0000"/>
<circle cx="491.1" cy="849.3" r="5.50" fill="#ff0000"/>
<circle cx="510.9" cy="837.4" r="5.50" fill="#ff0000"/>
<circle cx="488.5" cy="850.5" r="5.50" fill="#ff0000"/>
<circle cx="467.3" cy="877.9" r="5.50" fill="#ff0000"/>
<circle cx="506.5" cy="830.3" r="5.50" fill="#ff0000"/>
<circle cx="518.1" cy="826.6" r="5.50" fill="#ff0000"/>
<circle cx="497.4" cy="841.3" r="5.50" fill="#ff0000"/>
<circle cx="515.7" cy="839.4" r="5.50" fill="#ff0000"/>
<circle cx="508.4" cy="846.9" r="5.50" fill="#ff0000"/>
<circle cx="475.1" cy="864.0" r="5.50" fill="#ff0000"/>
<circle cx="470.0" cy="865.1" r="5.50" fill="#ff0000"/>
<circle cx="480.1" cy="864.6" r="5.50" fill="#ff0000"/>
<circle cx="473.3" cy="861.9" r="5.50" fill="#ff0000"/>
<circle cx="501.4" cy="843.3" r="5.50" fill="#ff0000"/>
<circle cx="538.5" cy="824.5" r="5.50" fill="#ff0000"/>
<circle cx="515.7" cy="835.4" r="5.50" fill="#ff0000"/>
<circle cx="476.6" cy="854.8" r="5.50" fill="#ff0000"/>
<circle cx="473.9" cy="858.3" r="5.50" fill="#ff0000"/>
<circle cx="496.0" cy="858.5" r="5.50" fill="#ff0000"/>
<circle cx="523.3" cy="827.9" r="5.50" fill="#ff0000"/>
<circle cx="451.1" cy="875.1" r="5.50" fill="#ff0000"/>
<circle cx="493.3" cy="855.3" r="5.50" fill="#ff0000"/>
<circle cx="527.4" cy="826.1" r="5.50" fill="#ff0000"/>
<circle cx="506.1" cy="829.3" r="5.50" fill="#ff0000"/>
<circle cx="456.2" cy="873.3" r="5.50" fill="#ff0000"/>
<circle cx="477.0" cy="864.7" r="5.50" fill="#ff0000"/>
<circle cx="384.4" cy="915.4" r="5.50" fill="#0000ff"/>
<circle cx="409.2" cy="900.1" r="5.50" fill="#0000ff"/>
<circle cx="413.5" cy="903.5" r="5.50" fill="#0000ff"/>
<circle cx="418.2" cy="898.0" r="5.50" fill="#0000ff"/>
<circle cx="417.7" cy="902.6" r="5.50" fill="#0000ff"/>
<circle cx="427.1" cy="897.5" r="5.50" fill="#0000ff"/>
<circle cx="509.1" cy="790.4" r="5.50" fill="#0000ff"/>
<circle cx="513.4" cy="805.3" r="5.50" fill="#0000ff"/>
<circle cx="495.1" cy="815.0" r="5.50" fill="#0000ff"/>
<circle cx="455.3" cy="828.3" r="5.50" fill="#0000ff"/>
<circle cx="444.2" cy="835.2" r="5.50" fill="#0000ff"/>
<circle cx="451.0" cy="836.9" r="5.50" fill="#0000ff"/>
<circle cx="441.6" cy="847.1" r="5.50" fill="#0000ff"/>
<circle cx="421.1" cy="850.9" r="5.50" fill="#0000ff"/>
<circle cx="432.2" cy="859.1" r="5.50" fill="#0000ff"/>
<circle cx="417.7" cy="868.1" r="5.50" fill="#0000ff"/>
<circle cx="422.0" cy="868.1" r="5.50" fill="#0000ff"/>
<circle cx="548.4" cy="795.4" r="5.50" fill="#0000ff"/>
<circle cx="547.6" cy="800.1" r="5.50" fill="#0000ff"/>
<circle cx="554.4" cy="794.2" r="5.50" fill="#0000ff"/>
<circle cx="565.1" cy="792.5" r="5.50" fill="#0000ff"/>
<circle cx="570.6" cy="787.3" r="5.50" fill="#0000ff"/>
<circle cx="525.3" cy="805.3" r="5.50" fill="#0000ff"/>
<circle cx="530.5" cy="805.3" r="5.50" fill="#0000ff"/>
<circle cx="535.6" cy="809.5" r="5.50" fill="#0000ff"/>
<circle cx="523.6" cy="821.5" r="5.50" fill="#0000ff"/>
<circle cx="511.7" cy="834.3" r="5.50" fill="#0000ff"/>
<circle cx="479.2" cy="828.3" r="5.50" fill="#0000ff"/>
<circle cx="485.2" cy="829.2" r="5.50" fill="#0000ff"/>
<circle cx="493.7" cy="825.8" r="5.50" fill="#0000ff"/>
<circle cx="480.9" cy="839.4" r="5.50" fill="#0000ff"/>
<circle cx="464.4" cy="844.9" r="5.50" fill="#0000ff"/>
<circle cx="457.9" cy="852.2" r="5.50" fill="#0000ff"/>
<circle cx="477.5" cy="865.1" r="5.50" fill="#0000ff"/>
<circle cx="481.8" cy="863.3" r="5.50" fill="#0000ff"/>
<circle cx="489.5" cy="854.0" r="5.50" fill="#0000ff"/>
<circle cx="500.6" cy="842.0" r="5.50" fill="#0000ff"/>
<circle cx="504.0" cy="820.6" r="5.50" fill="#0000ff"/>
<circle cx="510.8" cy="818.9" r="5.50" fill="#0000ff"/>
<circle cx="425.4" cy="877.9" r="5.50" fill="#0000ff"/>
<circle cx="428.8" cy="886.4" r="5.50" fill="#0000ff"/>
<circle cx="435.7" cy="889.8" r="5.50" fill="#0000ff"/>
<circle cx="440.8" cy="884.7" r="5.50" fill="#0000ff"/>
<circle cx="449.3" cy="876.2" r="5.50" fill="#0000ff"/>
<circle cx="449.3" cy="864.2" r="5.50" fill="#0000ff"/>
<circle cx="437.4" cy="862.5" r="5.50" fill="#0000ff"/>
<circle cx="459.6" cy="862.5" r="5.50" fill="#0000ff"/>
<circle cx="469.8" cy="857.4" r="5.50" fill="#0000ff"/>
<circle cx="492.7" cy="835.3" r="5.50" fill="#0000ff"/>
<circle cx="509.1" cy="824.0" r="5.50" fill="#0000ff"/>
<circle cx="429.3" cy="873.2" r="5.50" fill="#0000ff"/>
<circle cx="489.9" cy="833.1" r="5.50" fill="#0000ff"/>
<circle cx="523.8" cy="818.2" r="5.50" fill="#0000ff"/>
<circle cx="456.4" cy="860.9" r="5.50" fill="#0000ff"/>
<circle cx="507.5" cy="827.6" r="5.50" fill="#0000ff"/>
<circle cx="443.0" cy="872.3" r="5.50" fill="#0000ff"/>
<circle cx="494.3" cy="834.9" r="5.50" fill="#0000ff"/>
<circle cx="449.5" cy="867.9" r="5.50" fill="#0000ff"/>
<circle cx="450.9" cy="858.9" r="5.50" fill="#0000ff"/>
<circle cx="524.6" cy="814.6" r="5.50" fill="#0000ff"/>
<circle cx="499.5" cy="829.8" r="5.50" fill="#0000ff"/>
<circle cx="523.8" cy="821.1" r="5.50" fill="#0000ff"/>
<circle cx="517.9" cy="829.1" r="5.50" fill="#0000ff"/>
<circle cx="443.1" cy="877.9" r="5.50" fill="#0000ff"/>
<circle cx="512.3" cy="818.8" r="5.50" fill="#0000ff"/>
<circle cx="495.9" cy="832.4" r="5.50" fill="#0000ff"/>
<circle cx="482.9" cy="845.8" r="5.50" fill="#0000ff"/>
<circle cx="427.9" cy="874.1" r="5.50" fill="#0000ff"/>
<circle cx="524.5" cy="813.7" r="5.50" fill="#0000ff"/>
<circle cx="461.6" cy="857.3" r="5.50" fill="#0000ff"/>
<circle cx="512.6" cy="821.3" r="5.50" fill="#0000ff"/>
<circle cx="500.2" cy="838.1" r="5.50" fill="#0000ff"/>
<circle cx="521.9" cy="810.1" r="5.50" fill="#0000ff"/>
<circle cx="475.7" cy="857.3" r="5.50" fill="#0000ff"/>
<circle cx="507.7" cy="823.6" r="5.50" fill="#0000ff"/>
<circle cx="516.8" cy="826.3" r="5.50" fill="#0000ff"/>
<circle cx="455.1" cy="865.4" r="5.50" fill="#0000ff"/>
<circle cx="512.2" cy="825.0" r="5.50" fill="#0000ff"/>
<circle cx="423.4" cy="880.2" r="5.50" fill="#0000ff"/>
<circle cx="512.7" cy="823.2" r="5.50" fill="#0000ff"/>
<circle cx="454.2" cy="866.9" r="5.50" fill="#0000ff"/>
<circle cx="491.1" cy="840.2" r="5.50" fill="#0000ff"/>
<circle cx="476.0" cy="843.8" r="5.50" fill="#0000ff"/>
<circle cx="479.7" cy="850.2" r="5.50" fill="#0000ff"/>
<circle cx="449.6" cy="865.8" r="5.50" fill="#0000ff"/>
<circle cx="491.0" cy="835.7" r="5.50" fill="#0000ff"/>
<circle cx="464.5" cy="848.8" r="5.50" fill="#0000ff"/>
<circle cx="498.4" cy="834.1" r="5.50" fill="#0000ff"/>
<circle cx="454.3" cy="866.3" r="5.50" fill="#0000ff"/>
<circle cx="480.9" cy="852.2" r="5.50" fill="#0000ff"/>
<circle cx="447.7" cy="872.9" r="5.50" fill="#0000ff"/>
<circle cx="430.1" cy="885.6" r="5.50" fill="#0000ff"/>
<circle cx="499.2" cy="835.0" r="5.50" fill="#0000ff"/>
<circle cx="501.9" cy="834.6" r="5.50" fill="#0000ff"/>
<circle cx="471.7" cy="853.3" r="5.50" fill="#0000ff"/>
<circle cx="434.4" cy="875.5" r="5.50" fill="#0000ff"/>
<circle cx="464.0" cy="864.8" r="5.50" fill="#0000ff"/>
<circle cx="429.2" cy="886.0" r="5.50" fill="#0000ff"/>
<circle cx="488.2" cy="846.1" r="5.50" fill="#0000ff"/>
<circle cx="452.6" cy="872.1" r="5.50" fill="#0000ff"/>
<circle cx="438.1" cy="881.7" r="5.50" fill="#0000ff"/>
<circle cx="495.1" cy="837.4" r="5.50" fill="#0000ff"/>
<circle cx="462.9" cy="857.9" r="5.50" fill="#0000ff"/>
<circle cx="456.4" cy="864.1" r="5.50" fill="#0000ff"/>
<circle cx="493.3" cy="830.0" r="5.50" fill="#0000ff"/>
<circle cx="512.8" cy="823.9" r="5.50" fill="#0000ff"/>
<circle cx="466.5" cy="850.1" r="5.50" fill="#0000ff"/>
<circle cx="515.4" cy="821.2" r="5.50" fill="#0000ff"/>
<circle cx="494.5" cy="840.7" r="5.50" fill="#0000ff"/>
<circle cx="482.6" cy="853.7" r="5.50" fill="#0000ff"/>
<circle cx="513.6" cy="821.5" r="5.50" fill="#0000ff"/>
<circle cx="448.0" cy="863.0" r="5.50" fill="#0000ff"/>
<circle cx="485.7" cy="847.8" r="5.50" fill="#0000ff"/>
<circle cx="457.0" cy="867.9" r="5.50" fill="#0000ff"/>
<circle cx="487.8" cy="838.2" r="5.50" fill="#0000ff"/>
<circle cx="475.6" cy="854.5" r="5.50" fill="#0000ff"/>
<circle cx="498.4" cy="827.5" r="5.50" fill="#0000ff"/>
<circle cx="433.3" cy="878.1" r="5.50" fill="#0000ff"/>
<circle cx="463.1" cy="856.4" r="5.50" fill="#0000ff"/>
<circle cx="512.4" cy="824.1" r="5.50" fill="#0000ff"/>
<circle cx="518.0" cy="814.4" r="5.50" fill="#0000ff"/>
<circle cx="484.2" cy="836.2" r="5.50" fill="#0000ff"/>
<circle cx="484.7" cy="841.4" r="5.50" fill="#0000ff"/>
<circle cx="467.9" cy="865.9" r="5.50" fill="#0000ff"/>
<circle cx="489.8" cy="849.6" r="5.50" fill="#0000ff"/>
<circle cx="431.1" cy="880.0" r="5.50" fill="#0000ff"/>
<circle cx="480.4" cy="849.6" r="5.50" fill="#0000ff"/>
<circle cx="503.8" cy="832.0" r="5.50" fill="#0000ff"/>
<circle cx="494.2" cy="830.0" r="5.50" fill="#0000ff"/>
<circle cx="444.0" cy="868.9" r="5.50" fill="#0000ff"/>
<circle cx="491.0" cy="839.6" r="5.50" fill="#0000ff"/>
<circle cx="528.6" cy="810.8" r="5.50" fill="#0000ff"/>
<circle cx="470.4" cy="857.4" r="5.50" fill="#0000ff"/>
<circle cx="294.5" cy="934.2" r="5.50" fill="#008000"/>
<circle cx="292.4" cy="950.4" r="5.50" fill="#008000"/>
<circle cx="302.7" cy="959.4" r="5.50" fill="#008000"/>
<circle cx="294.1" cy="970.9" r="5.50" fill="#008000"/>
<circle cx="300.5" cy="971.4" r="5.50" fill="#008000"/>
<circle cx="278.3" cy="957.2" r="5.50" fill="#008000"/>
<circle cx="270.2" cy="963.2" r="5.50" fill="#008000"/>
<circle cx="278.3" cy="971.4" r="5.50" fill="#008000"/>
<circle cx="279.5" cy="989.3" r="5.50" fill="#008000"/>
<circle cx="267.2" cy="998.6" r="5.50" fill="#008000"/>
<circle cx="255.2" cy="1015.3" r="5.50" fill="#008000"/>
<circle cx="260.0" cy="976.0" r="5.50" fill="#008000"/>
<circle cx="265.4" cy="977.7" r="5.50" fill="#008000"/>
<circle cx="219.3" cy="1031.5" r="5.50" fill="#008000"/>
<circle cx="203.1" cy="1035.0" r="5.50" fill="#008000"/>
<circle cx="192.8" cy="1029.8" r="5.50" fill="#008000"/>
<circle cx="192.8" cy="1023.0" r="5.50" fill="#008000"/>
<circle cx="169.8" cy="1031.5" r="5.50" fill="#008000"/>
<circle cx="173.2" cy="1040.1" r="5.50" fill="#008000"/>
<circle cx="177.5" cy="1045.2" r="5.50" fill="#008000"/>
<circle cx="145.0" cy="1043.1" r="5.50" fill="#008000"/>
<circle cx="164.7" cy="1054.3" r="5.50" fill="#008000"/>
<circle cx="170.1" cy="1054.6" r="5.50" fill="#008000"/>
<circle cx="179.2" cy="1055.4" r="5.50" fill="#008000"/>
<circle cx="193.4" cy="1059.2" r="5.50" fill="#008000"/>
<circle cx="136.1" cy="1066.2" r="5.50" fill="#008000"/>
<circle cx="151.5" cy="1075.1" r="5.50" fill="#008000"/>
<circle cx="117.7" cy="1097.3" r="5.50" fill="#008000"/>
<circle cx="186.0" cy="1013.6" r="5.50" fill="#008000"/>
<circle cx="193.7" cy="1011.0" r="5.50" fill="#008000"/>
<circle cx="201.4" cy="1007.6" r="5.50" fill="#008000"/>
<circle cx="181.7" cy="1019.6" r="5.50" fill="#008000"/>
<circle cx="207.4" cy="1006.8" r="5.50" fill="#008000"/>
<circle cx="215.1" cy="999.9" r="5.50" fill="#008000"/>
<circle cx="227.9" cy="988.0" r="5.50" fill="#008000"/>
<circle cx="242.4" cy="983.7" r="5.50" fill="#008000"/>
<circle cx="250.1" cy="986.3" r="5.50" fill="#008000"/>
<circle cx="178.3" cy="1026.4" r="5.50" fill="#008000"/>
<circle cx="183.5" cy="1031.5" r="5.50" fill="#008000"/>
<circle cx="219.3" cy="1023.0" r="5.50" fill="#008000"/>
<circle cx="229.6" cy="1017.9" r="5.50" fill="#008000"/>
<circle cx="243.2" cy="1009.3" r="5.50" fill="#008000"/>
<circle cx="256.9" cy="1002.5" r="5.50" fill="#008000"/>
<circle cx="258.6" cy="995.7" r="5.50" fill="#008000"/>
<circle cx="207.6" cy="1007.0" r="5.50" fill="#008000"/>
<circle cx="228.3" cy="1001.0" r="5.50" fill="#008000"/>
<circle cx="237.3" cy="989.5" r="5.50" fill="#008000"/>
<circle cx="240.5" cy="987.7" r="5.50" fill="#008000"/>
<circle cx="230.2" cy="998.1" r="5.50" fill="#008000"/>
<circle cx="247.5" cy="989.5" r="5.50" fill="#008000"/>
<circle cx="237.9" cy="993.6" r="5.50" fill="#008000"/>
<circle cx="246.8" cy="994.7" r="5.50" fill="#008000"/>
<circle cx="214.8" cy="1010.7" r="5.50" fill="#008000"/>
<circle cx="238.0" cy="997.2" r="5.50" fill="#008000"/>
<circle cx="194.8" cy="1020.6" r="5.50" fill="#008000"/>
<circle cx="228.0" cy="999.1" r="5.50" fill="#008000"/>
<circle cx="244.1" cy="1001.9" r="5.50" fill="#008000"/>
<circle cx="236.2" cy="1001.2" r="5.50" fill="#008000"/>
<circle cx="205.8" cy="1020.3" r="5.50" fill="#008000"/>
<circle cx="209.5" cy="1013.8" r="5.50" fill="#008000"/>
<circle cx="201.5" cy="1018.6" r="5.50" fill="#008000"/>
<circle cx="216.0" cy="998.7" r="5.50" fill="#008000"/>
<circle cx="218.4" cy="1003.3" r="5.50" fill="#008000"/>
<circle cx="191.8" cy="1016.8" r="5.50" fill="#008000"/>
<circle cx="203.4" cy="1009.6" r="5.50" fill="#008000"/>
<circle cx="215.7" cy="1011.0" r="5.50" fill="#008000"/>
<circle cx="243.1" cy="1005.2" r="5.50" fill="#008000"/>
<circle cx="240.2" cy="998.2" r="5.50" fill="#008000"/>
<circle cx="199.9" cy="1009.6" r="5.50" fill="#008000"/>
<circle cx="250.0" cy="993.2" r="5.50" fill="#008000"/>
<circle cx="217.8" cy="993.4" r="5.50" fill="#008000"/>
<circle cx="229.0" cy="999.3" r="5.50" fill="#008000"/>
<circle cx="234.8" cy="1004.4" r="5.50" fill="#008000"/>
<circle cx="221.3" cy="991.9" r="5.50" fill="#008000"/>
<circle cx="218.1" cy="1010.7" r="5.50" fill="#008000"/>
<circle cx="195.5" cy="1017.9" r="5.50" fill="#008000"/>
<circle cx="222.3" cy="997.2" r="5.50" fill="#008000"/>
<circle cx="246.3" cy="986.2" r="5.50" fill="#008000"/>
<circle cx="245.5" cy="989.7" r="5.50" fill="#008000"/>
<circle cx="242.3" cy="1003.3" r="5.50" fill="#008000"/>
<circle cx="211.5" cy="1010.3" r="5.50" fill="#008000"/>
<circle cx="228.0" cy="1002.8" r="5.50" fill="#008000"/>
<circle cx="224.2" cy="1003.6" r="5.50" fill="#008000"/>
<circle cx="211.9" cy="1014.7" r="5.50" fill="#008000"/>
<circle cx="228.5" cy="995.8" r="5.50" fill="#008000"/>
<circle cx="227.3" cy="1002.4" r="5.50" fill="#008000"/>
<circle cx="194.2" cy="1016.8" r="5.50" fill="#008000"/>
<circle cx="210.9" cy="1003.8" r="5.50" fill="#008000"/>
<circle cx="212.8" cy="1010.0" r="5.50" fill="#008000"/>
<circle cx="219.0" cy="1000.5" r="5.50" fill="#008000"/>
<circle cx="221.8" cy="993.3" r="5.50" fill="#008000"/>
<circle cx="230.9" cy="1002.5" r="5.50" fill="#008000"/>
<circle cx="232.4" cy="1006.7" r="5.50" fill="#008000"/>
<circle cx="250.3" cy="995.1" r="5.50" fill="#008000"/>
<circle cx="210.2" cy="1012.7" r="5.50" fill="#008000"/>
<circle cx="241.3" cy="1008.1" r="5.50" fill="#008000"/>
<circle cx="238.9" cy="997.0" r="5.50" fill="#008000"/>
<circle cx="252.9" cy="989.7" r="5.50" fill="#008000"/>
<circle cx="251.1" cy="994.6" r="5.50" fill="#008000"/>
<circle cx="230.0" cy="988.4" r="5.50" fill="#008000"/>
<circle cx="216.7" cy="1009.0" r="5.50" fill="#008000"/>
<circle cx="202.5" cy="1010.5" r="5.50" fill="#008000"/>
<circle cx="248.3" cy="986.9" r="5.50" fill="#008000"/>
<circle cx="223.8" cy="997.4" r="5.50" fill="#008000"/>
<circle cx="219.0" cy="1006.0" r="5.50" fill="#008000"/>
<circle cx="245.6" cy="996.6" r="5.50" fill="#008000"/>
<circle cx="203.1" cy="1013.9" r="5.50" fill="#008000"/>
<circle cx="211.1" cy="1005.9" r="5.50" fill="#008000"/>
<circle cx="206.9" cy="1007.3" r="5.50" fill="#008000"/>
<circle cx="240.0" cy="1000.3" r="5.50" fill="#008000"/>
<circle cx="237.9" cy="1000.0" r="5.50" fill="#008000"/>
<circle cx="208.3" cy="1012.1" r="5.50" fill="#008000"/>
<circle cx="208.0" cy="1010.0" r="5.50" fill="#008000"/>
<circle cx="218.5" cy="1011.9" r="5.50" fill="#008000"/>
<circle cx="221.8" cy="1009.9" r="5.50" fill="#008000"/>
<circle cx="237.1" cy="998.0" r="5.50" fill="#008000"/>
<circle cx="198.5" cy="1016.8" r="5.50" fill="#008000"/>
<circle cx="211.2" cy="1010.2" r="5.50" fill="#008000"/>
<circle cx="224.3" cy="1000.5" r="5.50" fill="#008000"/>
<circle cx="253.9" cy="993.0" r="5.50" fill="#008000"/>
<circle cx="244.7" cy="985.0" r="5.50" fill="#008000"/>
<circle cx="235.1" cy="998.6" r="5.50" fill="#008000"/>
<circle cx="250.1" cy="999.4" r="5.50" fill="#008000"/>
<circle cx="222.6" cy="1010.4" r="5.50" fill="#008000"/>
<circle cx="206.5" cy="1006.0" r="5.50" fill="#008000"/>
<circle cx="251.3" cy="991.3" r="5.50" fill="#008000"/>
<circle cx="221.1" cy="1000.5" r="5.50" fill="#008000"/>
<circle cx="210.2" cy="1010.6" r="5.50" fill="#008000"/>
<circle cx="245.5" cy="993.9" r="5.50" fill="#008000"/>
<circle cx="247.6" cy="988.9" r="5.50" fill="#008000"/>
<circle cx="221.3" cy="999.7" r="5.50" fill="#008000"/>
<circle cx="252.2" cy="990.4" r="5.50" fill="#008000"/>
<circle cx="242.1" cy="998.6" r="5.50" fill="#008000"/>
<circle cx="233.3" cy="1011.3" r="5.50" fill="#008000"/>
<circle cx="247.3" cy="992.2" r="5.50" fill="#008000"/>
<circle cx="192.0" cy="1018.9" r="5.50" fill="#008000"/>
<circle cx="215.5" cy="1016.2" r="5.50" fill="#008000"/>
<circle cx="224.2" cy="1004.0" r="5.50" fill="#008000"/>
<circle cx="210.2" cy="1010.4" r="5.50" fill="#008000"/>
<line x1="117.00" y1="1074.60" x2="571.00" y2="788.00" stroke="#000" stroke-width="2.60" stroke-dasharray="12.5 12.5" stroke-linecap="butt"/>
</g>
<rect x="117" y="662" width="454" height="454" fill="none" stroke="#000" stroke-width="2"/>
<line x1="169.50" y1="1116.00" x2="169.50" y2="1107.67" stroke="#000" stroke-width="1.00" stroke-linecap="butt"/>
<line x1="169.50" y1="662.00" x2="169.50" y2="670.33" stroke="#000" stroke-width="1.00" stroke-linecap="butt"/>
<text x="167.91" y="1137.50" font-size="17.17" text-anchor="middle" textLength="33.76" lengthAdjust="spacingAndGlyphs" fill="#000">−20</text>
<line x1="229.50" y1="1116.00" x2="229.50" y2="1107.67" stroke="#000" stroke-width="1.00" stroke-linecap="butt"/>
<line x1="229.50" y1="662.00" x2="229.50" y2="670.33" stroke="#000" stroke-width="1.00" stroke-linecap="butt"/>
<text x="228.71" y="1137.50" font-size="17.17" text-anchor="middle" textLength="9.19" lengthAdjust="spacingAndGlyphs" fill="#000">0</text>
<line x1="290.50" y1="1116.00" x2="290.50" y2="1107.67" stroke="#000" stroke-width="1.00" stroke-linecap="butt"/>
<line x1="290.50" y1="662.00" x2="290.50" y2="670.33" stroke="#000" stroke-width="1.00" stroke-linecap="butt"/>
<text x="289.51" y="1137.50" font-size="17.17" text-anchor="middle" textLength="19.80" lengthAdjust="spacingAndGlyphs" fill="#000">20</text>
<line x1="351.50" y1="1116.00" x2="351.50" y2="1107.67" stroke="#000" stroke-width="1.00" stroke-linecap="butt"/>
<line x1="351.50" y1="662.00" x2="351.50" y2="670.33" stroke="#000" stroke-width="1.00" stroke-linecap="butt"/>
<text x="350.31" y="1137.50" font-size="17.17" text-anchor="middle" textLength="19.80" lengthAdjust="spacingAndGlyphs" fill="#000">40</text>
<line x1="412.50" y1="1116.00" x2="412.50" y2="1107.67" stroke="#000" stroke-width="1.00" stroke-linecap="butt"/>
<line x1="412.50" y1="662.00" x2="412.50" y2="670.33" stroke="#000" stroke-width="1.00" stroke-linecap="butt"/>
<text x="411.11" y="1137.50" font-size="17.17" text-anchor="middle" textLength="19.80" lengthAdjust="spacingAndGlyphs" fill="#000">60</text>
<line x1="473.50" y1="1116.00" x2="473.50" y2="1107.67" stroke="#000" stroke-width="1.00" stroke-linecap="butt"/>
<line x1="473.50" y1="662.00" x2="473.50" y2="670.33" stroke="#000" stroke-width="1.00" stroke-linecap="butt"/>
<text x="471.91" y="1137.50" font-size="17.17" text-anchor="middle" textLength="19.80" lengthAdjust="spacingAndGlyphs" fill="#000">80</text>
<line x1="533.50" y1="1116.00" x2="533.50" y2="1107.67" stroke="#000" stroke-width="1.00" stroke-linecap="butt"/>
<line x1="533.50" y1="662.00" x2="533.50" y2="670.33" stroke="#000" stroke-width="1.00" stroke-linecap="butt"/>
<text x="532.71" y="1137.50" font-size="17.17" text-anchor="middle" textLength="30.40" lengthAdjust="spacingAndGlyphs" fill="#000">100</text>
<line x1="117.00" y1="1065.50" x2="125.33" y2="1065.50" stroke="#000" stroke-width="1.00" stroke-linecap="butt"/>
<line x1="571.00" y1="1065.50" x2="562.67" y2="1065.50" stroke="#000" stroke-width="1.00" stroke-linecap="butt"/>
<text x="107.94" y="1070.20" font-size="17.17" text-anchor="end" textLength="33.76" lengthAdjust="spacingAndGlyphs" fill="#000">−20</text>
<line x1="117.00" y1="1005.50" x2="125.33" y2="1005.50" stroke="#000" stroke-width="1.00" stroke-linecap="butt"/>
<line x1="571.00" y1="1005.50" x2="562.67" y2="1005.50" stroke="#000" stroke-width="1.00" stroke-linecap="butt"/>
<text x="107.94" y="1009.40" font-size="17.17" text-anchor="end" textLength="9.19" lengthAdjust="spacingAndGlyphs" fill="#000">0</text>
<line x1="117.00" y1="944.50" x2="125.33" y2="944.50" stroke="#000" stroke-width="1.00" stroke-linecap="butt"/>
<line x1="571.00" y1="944.50" x2="562.67" y2="944.50" stroke="#000" stroke-width="1.00" stroke-linecap="butt"/>
<text x="107.94" y="948.60" font-size="17.17" text-anchor="end" textLength="19.80" lengthAdjust="spacingAndGlyphs" fill="#000">20</text>
<line x1="117.00" y1="883.50" x2="125.33" y2="883.50" stroke="#000" stroke-width="1.00" stroke-linecap="butt"/>
<line x1="571.00" y1="883.50" x2="562.67" y2="883.50" stroke="#000" stroke-width="1.00" stroke-linecap="butt"/>
<text x="107.94" y="887.80" font-size="17.17" text-anchor="end" textLength="19.80" lengthAdjust="spacingAndGlyphs" fill="#000">40</text>
<line x1="117.00" y1="822.50" x2="125.33" y2="822.50" stroke="#000" stroke-width="1.00" stroke-linecap="butt"/>
<line x1="571.00" y1="822.50" x2="562.67" y2="822.50" stroke="#000" stroke-width="1.00" stroke-linecap="butt"/>
<text x="107.94" y="827.00" font-size="17.17" text-anchor="end" textLength="19.80" lengthAdjust="spacingAndGlyphs" fill="#000">60</text>
<line x1="117.00" y1="761.50" x2="125.33" y2="761.50" stroke="#000" stroke-width="1.00" stroke-linecap="butt"/>
<line x1="571.00" y1="761.50" x2="562.67" y2="761.50" stroke="#000" stroke-width="1.00" stroke-linecap="butt"/>
<text x="107.94" y="766.20" font-size="17.17" text-anchor="end" textLength="19.80" lengthAdjust="spacingAndGlyphs" fill="#000">80</text>
<line x1="117.00" y1="700.50" x2="125.33" y2="700.50" stroke="#000" stroke-width="1.00" stroke-linecap="butt"/>
<line x1="571.00" y1="700.50" x2="562.67" y2="700.50" stroke="#000" stroke-width="1.00" stroke-linecap="butt"/>
<text x="107.94" y="705.40" font-size="17.17" text-anchor="end" textLength="30.40" lengthAdjust="spacingAndGlyphs" fill="#000">100</text>
<text x="344.10" y="651.50" font-size="24.00" text-anchor="middle" textLength="115.30" lengthAdjust="spacingAndGlyphs" fill="#000">WalenTest</text>
<text x="307.80" y="1167.40" font-size="17.17" text-anchor="start" textLength="9.99" lengthAdjust="spacingAndGlyphs" fill="#000">V</text>
<text x="319.70" y="1170.90" class="m" font-size="11.5" fill="#000">A</text>
<text x="327.20" y="1167.40" font-size="17.17" text-anchor="start" textLength="51.78" lengthAdjust="spacingAndGlyphs" fill="#000">(km/s)</text>
<g transform="rotate(-90 56.00 889.10)">
<text x="-4.30" y="889.10" font-size="17.17" text-anchor="start" textLength="9.99" lengthAdjust="spacingAndGlyphs" fill="#000">V</text>
<text x="7.60" y="892.60" class="m" font-size="11.5" textLength="54.0" lengthAdjust="spacing" fill="#000">remaining</text>
<text x="63.10" y="889.10" font-size="17.17" text-anchor="start" textLength="51.78" lengthAdjust="spacingAndGlyphs" fill="#000">(km/s)</text>
</g>
<rect x="125" y="669" width="138" height="72" fill="#fff" stroke="#000" stroke-width="2"/>
<text x="128.80" y="687.00" font-size="19.31" text-anchor="start" textLength="129.60" lengthAdjust="spacingAndGlyphs" fill="#000">slope = 0.632</text>
<text x="128.8" y="709.2" class="m" font-size="19" fill="#000">r</text>
<text x="144.60" y="709.20" font-size="19.31" text-anchor="start" textLength="73.75" lengthAdjust="spacingAndGlyphs" fill="#000">= 0.993</text>
<text x="128.8" y="731.4" class="m" font-size="19" fill="#000">M<tspan font-size="13" dy="4">A</tspan></text>
<text x="165.80" y="731.40" font-size="19.31" text-anchor="start" textLength="73.75" lengthAdjust="spacingAndGlyphs" fill="#000">= 0.634</text>
<line x1="701.50" y1="538.00" x2="701.50" y2="84.00" stroke="#000" stroke-width="1" stroke-dasharray="2.1 6.23" stroke-dashoffset="1.05"/>
<line x1="758.50" y1="538.00" x2="758.50" y2="84.00" stroke="#000" stroke-width="1" stroke-dasharray="2.1 6.23" stroke-dashoffset="1.05"/>
<line x1="815.50" y1="538.00" x2="815.50" y2="84.00" stroke="#000" stroke-width="1" stroke-dasharray="2.1 6.23" stroke-dashoffset="1.05"/>
<line x1="872.50" y1="538.00" x2="872.50" y2="84.00" stroke="#000" stroke-width="1" stroke-dasharray="2.1 6.23" stroke-dashoffset="1.05"/>
<line x1="928.50" y1="538.00" x2="928.50" y2="84.00" stroke="#000" stroke-width="1" stroke-dasharray="2.1 6.23" stroke-dashoffset="1.05"/>
<line x1="985.50" y1="538.00" x2="985.50" y2="84.00" stroke="#000" stroke-width="1" stroke-dasharray="2.1 6.23" stroke-dashoffset="1.05"/>
<line x1="1042.50" y1="538.00" x2="1042.50" y2="84.00" stroke="#000" stroke-width="1" stroke-dasharray="2.1 6.23" stroke-dashoffset="1.05"/>
<line x1="1099.50" y1="538.00" x2="1099.50" y2="84.00" stroke="#000" stroke-width="1" stroke-dasharray="2.1 6.23" stroke-dashoffset="1.05"/>
<line x1="673.00" y1="538.50" x2="1127.00" y2="538.50" stroke="#000" stroke-width="1" stroke-dasharray="2.1 6.23" stroke-dashoffset="7.7"/>
<line x1="673.00" y1="481.50" x2="1127.00" y2="481.50" stroke="#000" stroke-width="1" stroke-dasharray="2.1 6.23" stroke-dashoffset="7.7"/>
<line x1="673.00" y1="425.50" x2="1127.00" y2="425.50" stroke="#000" stroke-width="1" stroke-dasharray="2.1 6.23" stroke-dashoffset="7.7"/>
<line x1="673.00" y1="368.50" x2="1127.00" y2="368.50" stroke="#000" stroke-width="1" stroke-dasharray="2.1 6.23" stroke-dashoffset="7.7"/>
<line x1="673.00" y1="311.50" x2="1127.00" y2="311.50" stroke="#000" stroke-width="1" stroke-dasharray="2.1 6.23" stroke-dashoffset="7.7"/>
<line x1="673.00" y1="254.50" x2="1127.00" y2="254.50" stroke="#000" stroke-width="1" stroke-dasharray="2.1 6.23" stroke-dashoffset="7.7"/>
<line x1="673.00" y1="198.50" x2="1127.00" y2="198.50" stroke="#000" stroke-width="1" stroke-dasharray="2.1 6.23" stroke-dashoffset="7.7"/>
<line x1="673.00" y1="141.50" x2="1127.00" y2="141.50" stroke="#000" stroke-width="1" stroke-dasharray="2.1 6.23" stroke-dashoffset="7.7"/>
<line x1="673.00" y1="84.50" x2="1127.00" y2="84.50" stroke="#000" stroke-width="1" stroke-dasharray="2.1 6.23" stroke-dashoffset="7.7"/>
<clipPath id="ch1"><rect x="673.10" y="84.10" width="454.00" height="454.10"/></clipPath>
<g clip-path="url(#ch1)">
<polyline fill="none" stroke="#0000ff" stroke-width="2.08" stroke-linejoin="round" points="863.4,107.4 816.4,172.5 806.2,191.6 823.2,187.4 821.5,178.8 826.7,173.7 863.4,107.4"/>
<polyline fill="none" stroke="#0000ff" stroke-width="2.08" stroke-linejoin="round" points="710.5,170.3 719.9,181.4 727.6,178.3 797.3,165.2 828.4,153.2 841.2,148.1 912.1,166.9 891.6,167.7 871.1,185.1 861.7,164.3 848.5,201.5 835.2,212.1"/>
<polyline fill="none" stroke="#0000ff" stroke-width="2.08" stroke-linejoin="round" points="719.9,181.4 763.5,238.6 748.1,230.1 744.7,234.3 763.5,238.6 705.4,242.5 715.6,230.4 753.2,217.3 781.4,235.2"/>
<polyline fill="none" stroke="#0000ff" stroke-width="2.08" stroke-linejoin="round" points="828.4,153.2 831.8,206.2"/>
<polyline fill="none" stroke="#0000ff" stroke-width="2.08" stroke-linejoin="round" points="909.5,159.2 912.1,160.0 912.1,166.9 918.0,173.7 929.2,187.4 934.7,193.0 937.2,211.6"/>
<polyline fill="none" stroke="#0000ff" stroke-width="2.08" stroke-linejoin="round" points="912.3,166.9 945.3,176.3 1021.3,216.4"/>
<polyline fill="none" stroke="#0000ff" stroke-width="2.08" stroke-linejoin="round" points="934.7,193.0 956.4,205.6 952.1,215.9 948.7,213.8 930.7,227.5 912.0,255.4 909.4,245.4 908.5,233.1"/>
<polyline fill="none" stroke="#0000ff" stroke-width="2.08" stroke-linejoin="round" points="912.0,255.4 923.1,258.8 921.4,265.1"/>
<polyline fill="none" stroke="#0000ff" stroke-width="2.08" stroke-linejoin="round" points="943.6,242.0 966.6,262.5 965.8,263.1 991.4,285.3 1042.6,378.0 993.6,330.0 917.1,245.1"/>
<polyline fill="none" stroke="#0000ff" stroke-width="2.08" stroke-linejoin="round" points="954.3,271.6 965.8,265.6"/>
<polyline fill="none" stroke="#0000ff" stroke-width="2.08" stroke-linejoin="round" points="871.1,185.1 895.0,215.6 891.6,233.5 860.8,238.6"/>
<polyline fill="none" stroke="#0000ff" stroke-width="2.08" stroke-linejoin="round" points="908.7,232.6 909.5,245.4 912.1,254.8 923.2,258.3"/>
<polyline fill="none" stroke="#0000ff" stroke-width="2.08" stroke-linejoin="round" points="826.7,257.1 785.3,295.5 816.4,285.3 836.6,303.5 825.0,300.1 815.6,301.2"/>
<polyline fill="none" stroke="#0000ff" stroke-width="2.08" stroke-linejoin="round" points="850.6,301.5 819.5,312.6 794.5,339.1 772.5,363.3 794.5,339.1 782.2,364.2 780.5,378.4 748.9,420.0 749.4,421.6 815.6,346.4 803.6,339.1 794.5,339.1 808.4,399.2 811.3,360.4 796.3,381.4 820.4,439.5 829.3,482.2 831.4,491.6 849.5,438.7 842.0,388.3 845.4,373.2 847.2,361.3 864.2,353.3 861.7,322.0"/>
<polyline fill="none" stroke="#0000ff" stroke-width="2.08" stroke-linejoin="round" points="875.9,310.0 860.8,298.1"/>
<polyline fill="none" stroke="#0000ff" stroke-width="2.08" stroke-linejoin="round" points="773.7,210.4 781.4,204.1 797.6,206.2 809.6,205.3"/>
<polyline fill="none" stroke="#0000ff" stroke-width="2.08" stroke-linejoin="round" points="819.8,267.7 830.1,264.2 809.6,240.3"/>
<polyline fill="none" stroke="#0000ff" stroke-width="2.08" stroke-linejoin="round" points="781.7,202.5 779.1,213.7 779.2,213.2 837.8,236.0 844.8,225.4 843.2,232.2 842.9,233.5 843.0,233.1 847.2,215.3 805.5,221.0 777.7,267.2 816.0,203.1 834.2,240.4 817.9,211.9 841.5,239.7 818.8,218.0 817.7,215.8 833.6,238.4 818.3,264.7 802.7,250.6 774.6,232.4 835.9,255.6 833.7,254.2 809.3,227.7 776.3,225.4 782.0,201.5 804.8,248.6 808.8,231.8 827.9,222.6 846.9,216.7 843.2,232.6 838.4,252.8 847.9,212.5 783.8,237.8 771.2,246.7 799.0,220.7 813.5,226.5 802.7,216.8 849.9,204.2 811.5,203.4 817.5,223.8 820.3,191.5 805.6,194.8 774.6,232.5"/>
<polyline fill="none" stroke="#0000ff" stroke-width="2.08" stroke-linejoin="round" points="812.0,251.9 795.2,250.2 806.3,237.3 806.3,260.4 830.9,228.8 803.1,250.2 803.9,251.0 795.3,250.3 814.5,226.5 827.9,215.3 843.6,219.1 829.9,206.6 806.5,240.3 820.7,227.4"/>
<circle cx="863.4" cy="107.4" r="3.50" fill="#0000ff"/>
<circle cx="816.4" cy="172.5" r="3.50" fill="#0000ff"/>
<circle cx="806.2" cy="191.6" r="3.50" fill="#0000ff"/>
<circle cx="823.2" cy="187.4" r="3.50" fill="#0000ff"/>
<circle cx="821.5" cy="178.8" r="3.50" fill="#0000ff"/>
<circle cx="826.7" cy="173.7" r="3.50" fill="#0000ff"/>
<circle cx="710.5" cy="170.3" r="3.50" fill="#0000ff"/>
<circle cx="719.9" cy="181.4" r="3.50" fill="#0000ff"/>
<circle cx="727.6" cy="178.3" r="3.50" fill="#0000ff"/>
<circle cx="797.3" cy="165.2" r="3.50" fill="#0000ff"/>
<circle cx="828.4" cy="153.2" r="3.50" fill="#0000ff"/>
<circle cx="841.2" cy="148.1" r="3.50" fill="#0000ff"/>
<circle cx="912.1" cy="166.9" r="3.50" fill="#0000ff"/>
<circle cx="891.6" cy="167.7" r="3.50" fill="#0000ff"/>
<circle cx="871.1" cy="185.1" r="3.50" fill="#0000ff"/>
<circle cx="861.7" cy="164.3" r="3.50" fill="#0000ff"/>
<circle cx="848.5" cy="201.5" r="3.50" fill="#0000ff"/>
<circle cx="835.2" cy="212.1" r="3.50" fill="#0000ff"/>
<circle cx="763.5" cy="238.6" r="3.50" fill="#0000ff"/>
<circle cx="748.1" cy="230.1" r="3.50" fill="#0000ff"/>
<circle cx="744.7" cy="234.3" r="3.50" fill="#0000ff"/>
<circle cx="705.4" cy="242.5" r="3.50" fill="#0000ff"/>
<circle cx="715.6" cy="230.4" r="3.50" fill="#0000ff"/>
<circle cx="753.2" cy="217.3" r="3.50" fill="#0000ff"/>
<circle cx="781.4" cy="235.2" r="3.50" fill="#0000ff"/>
<circle cx="831.8" cy="206.2" r="3.50" fill="#0000ff"/>
<circle cx="909.5" cy="159.2" r="3.50" fill="#0000ff"/>
<circle cx="912.1" cy="160.0" r="3.50" fill="#0000ff"/>
<circle cx="918.0" cy="173.7" r="3.50" fill="#0000ff"/>
<circle cx="929.2" cy="187.4" r="3.50" fill="#0000ff"/>
<circle cx="934.7" cy="193.0" r="3.50" fill="#0000ff"/>
<circle cx="937.2" cy="211.6" r="3.50" fill="#0000ff"/>
<circle cx="945.3" cy="176.3" r="3.50" fill="#0000ff"/>
<circle cx="1021.3" cy="216.4" r="3.50" fill="#0000ff"/>
<circle cx="956.4" cy="205.6" r="3.50" fill="#0000ff"/>
<circle cx="952.1" cy="215.9" r="3.50" fill="#0000ff"/>
<circle cx="948.7" cy="213.8" r="3.50" fill="#0000ff"/>
<circle cx="930.7" cy="227.5" r="3.50" fill="#0000ff"/>
<circle cx="912.0" cy="255.4" r="3.50" fill="#0000ff"/>
<circle cx="909.4" cy="245.4" r="3.50" fill="#0000ff"/>
<circle cx="908.5" cy="233.1" r="3.50" fill="#0000ff"/>
<circle cx="923.1" cy="258.8" r="3.50" fill="#0000ff"/>
<circle cx="921.4" cy="265.1" r="3.50" fill="#0000ff"/>
<circle cx="943.6" cy="242.0" r="3.50" fill="#0000ff"/>
<circle cx="966.6" cy="262.5" r="3.50" fill="#0000ff"/>
<circle cx="965.8" cy="263.1" r="3.50" fill="#0000ff"/>
<circle cx="991.4" cy="285.3" r="3.50" fill="#0000ff"/>
<circle cx="1042.6" cy="378.0" r="3.50" fill="#0000ff"/>
<circle cx="993.6" cy="330.0" r="3.50" fill="#0000ff"/>
<circle cx="917.1" cy="245.1" r="3.50" fill="#0000ff"/>
<circle cx="954.3" cy="271.6" r="3.50" fill="#0000ff"/>
<circle cx="965.8" cy="265.6" r="3.50" fill="#0000ff"/>
<circle cx="895.0" cy="215.6" r="3.50" fill="#0000ff"/>
<circle cx="891.6" cy="233.5" r="3.50" fill="#0000ff"/>
<circle cx="860.8" cy="238.6" r="3.50" fill="#0000ff"/>
<circle cx="909.5" cy="245.4" r="3.50" fill="#0000ff"/>
<circle cx="923.2" cy="258.3" r="3.50" fill="#0000ff"/>
<circle cx="826.7" cy="257.1" r="3.50" fill="#0000ff"/>
<circle cx="785.3" cy="295.5" r="3.50" fill="#0000ff"/>
<circle cx="816.4" cy="285.3" r="3.50" fill="#0000ff"/>
<circle cx="836.6" cy="303.5" r="3.50" fill="#0000ff"/>
<circle cx="825.0" cy="300.1" r="3.50" fill="#0000ff"/>
<circle cx="815.6" cy="301.2" r="3.50" fill="#0000ff"/>
<circle cx="850.6" cy="301.5" r="3.50" fill="#0000ff"/>
<circle cx="819.5" cy="312.6" r="3.50" fill="#0000ff"/>
<circle cx="794.5" cy="339.1" r="3.50" fill="#0000ff"/>
<circle cx="772.5" cy="363.3" r="3.50" fill="#0000ff"/>
<circle cx="782.2" cy="364.2" r="3.50" fill="#0000ff"/>
<circle cx="780.5" cy="378.4" r="3.50" fill="#0000ff"/>
<circle cx="748.9" cy="420.0" r="3.50" fill="#0000ff"/>
<circle cx="749.4" cy="421.6" r="3.50" fill="#0000ff"/>
<circle cx="815.6" cy="346.4" r="3.50" fill="#0000ff"/>
<circle cx="803.6" cy="339.1" r="3.50" fill="#0000ff"/>
<circle cx="808.4" cy="399.2" r="3.50" fill="#0000ff"/>
<circle cx="811.3" cy="360.4" r="3.50" fill="#0000ff"/>
<circle cx="796.3" cy="381.4" r="3.50" fill="#0000ff"/>
<circle cx="820.4" cy="439.5" r="3.50" fill="#0000ff"/>
<circle cx="829.3" cy="482.2" r="3.50" fill="#0000ff"/>
<circle cx="831.4" cy="491.6" r="3.50" fill="#0000ff"/>
<circle cx="849.5" cy="438.7" r="3.50" fill="#0000ff"/>
<circle cx="842.0" cy="388.3" r="3.50" fill="#0000ff"/>
<circle cx="845.4" cy="373.2" r="3.50" fill="#0000ff"/>
<circle cx="847.2" cy="361.3" r="3.50" fill="#0000ff"/>
<circle cx="864.2" cy="353.3" r="3.50" fill="#0000ff"/>
<circle cx="861.7" cy="322.0" r="3.50" fill="#0000ff"/>
<circle cx="875.9" cy="310.0" r="3.50" fill="#0000ff"/>
<circle cx="860.8" cy="298.1" r="3.50" fill="#0000ff"/>
<circle cx="773.7" cy="210.4" r="3.50" fill="#0000ff"/>
<circle cx="781.4" cy="204.1" r="3.50" fill="#0000ff"/>
<circle cx="797.6" cy="206.2" r="3.50" fill="#0000ff"/>
<circle cx="809.6" cy="205.3" r="3.50" fill="#0000ff"/>
<circle cx="819.8" cy="267.7" r="3.50" fill="#0000ff"/>
<circle cx="830.1" cy="264.2" r="3.50" fill="#0000ff"/>
<circle cx="809.6" cy="240.3" r="3.50" fill="#0000ff"/>
<circle cx="781.7" cy="202.5" r="3.50" fill="#0000ff"/>
<circle cx="779.1" cy="213.7" r="3.50" fill="#0000ff"/>
<circle cx="779.2" cy="213.2" r="3.50" fill="#0000ff"/>
<circle cx="837.8" cy="236.0" r="3.50" fill="#0000ff"/>
<circle cx="844.8" cy="225.4" r="3.50" fill="#0000ff"/>
<circle cx="843.2" cy="232.2" r="3.50" fill="#0000ff"/>
<circle cx="842.9" cy="233.5" r="3.50" fill="#0000ff"/>
<circle cx="843.0" cy="233.1" r="3.50" fill="#0000ff"/>
<circle cx="847.2" cy="215.3" r="3.50" fill="#0000ff"/>
<circle cx="805.5" cy="221.0" r="3.50" fill="#0000ff"/>
<circle cx="777.7" cy="267.2" r="3.50" fill="#0000ff"/>
<circle cx="816.0" cy="203.1" r="3.50" fill="#0000ff"/>
<circle cx="834.2" cy="240.4" r="3.50" fill="#0000ff"/>
<circle cx="817.9" cy="211.9" r="3.50" fill="#0000ff"/>
<circle cx="841.5" cy="239.7" r="3.50" fill="#0000ff"/>
<circle cx="818.8" cy="218.0" r="3.50" fill="#0000ff"/>
<circle cx="817.7" cy="215.8" r="3.50" fill="#0000ff"/>
<circle cx="833.6" cy="238.4" r="3.50" fill="#0000ff"/>
<circle cx="818.3" cy="264.7" r="3.50" fill="#0000ff"/>
<circle cx="802.7" cy="250.6" r="3.50" fill="#0000ff"/>
<circle cx="774.6" cy="232.4" r="3.50" fill="#0000ff"/>
<circle cx="835.9" cy="255.6" r="3.50" fill="#0000ff"/>
<circle cx="833.7" cy="254.2" r="3.50" fill="#0000ff"/>
<circle cx="809.3" cy="227.7" r="3.50" fill="#0000ff"/>
<circle cx="776.3" cy="225.4" r="3.50" fill="#0000ff"/>
<circle cx="782.0" cy="201.5" r="3.50" fill="#0000ff"/>
<circle cx="804.8" cy="248.6" r="3.50" fill="#0000ff"/>
<circle cx="808.8" cy="231.8" r="3.50" fill="#0000ff"/>
<circle cx="827.9" cy="222.6" r="3.50" fill="#0000ff"/>
<circle cx="846.9" cy="216.7" r="3.50" fill="#0000ff"/>
<circle cx="838.4" cy="252.8" r="3.50" fill="#0000ff"/>
<circle cx="847.9" cy="212.5" r="3.50" fill="#0000ff"/>
<circle cx="783.8" cy="237.8" r="3.50" fill="#0000ff"/>
<circle cx="771.2" cy="246.7" r="3.50" fill="#0000ff"/>
<circle cx="799.0" cy="220.7" r="3.50" fill="#0000ff"/>
<circle cx="813.5" cy="226.5" r="3.50" fill="#0000ff"/>
<circle cx="802.7" cy="216.8" r="3.50" fill="#0000ff"/>
<circle cx="849.9" cy="204.2" r="3.50" fill="#0000ff"/>
<circle cx="811.5" cy="203.4" r="3.50" fill="#0000ff"/>
<circle cx="817.5" cy="223.8" r="3.50" fill="#0000ff"/>
<circle cx="820.3" cy="191.5" r="3.50" fill="#0000ff"/>
<circle cx="805.6" cy="194.8" r="3.50" fill="#0000ff"/>
<circle cx="774.6" cy="232.5" r="3.50" fill="#0000ff"/>
<circle cx="812.0" cy="251.9" r="3.50" fill="#0000ff"/>
<circle cx="795.2" cy="250.2" r="3.50" fill="#0000ff"/>
<circle cx="806.3" cy="237.3" r="3.50" fill="#0000ff"/>
<circle cx="806.3" cy="260.4" r="3.50" fill="#0000ff"/>
<circle cx="830.9" cy="228.8" r="3.50" fill="#0000ff"/>
<circle cx="803.1" cy="250.2" r="3.50" fill="#0000ff"/>
<circle cx="803.9" cy="251.0" r="3.50" fill="#0000ff"/>
<circle cx="814.5" cy="226.5" r="3.50" fill="#0000ff"/>
<circle cx="827.9" cy="215.3" r="3.50" fill="#0000ff"/>
<circle cx="843.6" cy="219.1" r="3.50" fill="#0000ff"/>
<circle cx="829.9" cy="206.6" r="3.50" fill="#0000ff"/>
<circle cx="806.5" cy="240.3" r="3.50" fill="#0000ff"/>
<circle cx="820.7" cy="227.4" r="3.50" fill="#0000ff"/>
<polyline fill="none" stroke="#ff0000" stroke-width="2.08" stroke-linejoin="round" points="853.1,213.0 857.4,140.4 865.1,231.8"/>
<polyline fill="none" stroke="#ff0000" stroke-width="2.08" stroke-linejoin="round" points="745.5,249.7 776.3,226.3 894.1,222.4 881.3,231.8 916.3,242.0 929.2,231.8"/>
<polyline fill="none" stroke="#ff0000" stroke-width="2.08" stroke-linejoin="round" points="745.5,249.7 789.9,234.3 796.8,254.0 809.6,270.0"/>
<polyline fill="none" stroke="#ff0000" stroke-width="2.08" stroke-linejoin="round" points="897.6,184.0 902.7,183.1 897.6,188.2 889.0,201.9 869.4,225.0"/>
<polyline fill="none" stroke="#ff0000" stroke-width="2.08" stroke-linejoin="round" points="897.6,188.2 902.7,198.5 929.2,214.7 924.8,219.8 936.7,228.0 916.2,242.0 939.3,270.0"/>
<polyline fill="none" stroke="#ff0000" stroke-width="2.08" stroke-linejoin="round" points="861.7,204.5 912.1,212.1 955.5,222.4 994.5,230.4"/>
<polyline fill="none" stroke="#ff0000" stroke-width="2.08" stroke-linejoin="round" points="936.7,228.0 945.3,245.4 966.6,264.2 968.8,264.4 1006.3,304.4 1039.2,383.5 969.2,303.5 917.1,245.1"/>
<polyline fill="none" stroke="#ff0000" stroke-width="2.08" stroke-linejoin="round" points="965.8,265.6 963.2,277.2"/>
<polyline fill="none" stroke="#ff0000" stroke-width="2.08" stroke-linejoin="round" points="900.0,265.6 948.7,285.3 969.2,303.5"/>
<polyline fill="none" stroke="#ff0000" stroke-width="2.08" stroke-linejoin="round" points="912.0,266.1 922.2,265.6 918.8,272.5 917.9,278.4 927.3,277.2 922.2,284.8"/>
<polyline fill="none" stroke="#ff0000" stroke-width="2.08" stroke-linejoin="round" points="900.0,319.4 913.7,348.5 900.0,345.9"/>
<polyline fill="none" stroke="#ff0000" stroke-width="2.08" stroke-linejoin="round" points="879.6,293.0 883.9,292.1 897.6,319.4 913.8,348.5 886.4,343.0 889.0,331.4 897.6,319.4"/>
<polyline fill="none" stroke="#ff0000" stroke-width="2.08" stroke-linejoin="round" points="883.9,292.1 900.1,357.5 901.5,370.7 887.3,377.5 884.7,365.2"/>
<polyline fill="none" stroke="#ff0000" stroke-width="2.08" stroke-linejoin="round" points="887.3,377.5 891.3,423.3 886.6,423.3 884.3,432.2"/>
<polyline fill="none" stroke="#ff0000" stroke-width="2.08" stroke-linejoin="round" points="877.2,396.5 882.3,414.4 886.6,423.3"/>
<polyline fill="none" stroke="#ff0000" stroke-width="2.08" stroke-linejoin="round" points="855.4,366.4 871.9,365.6 860.8,377.5 848.0,390.7 855.4,348.1 877.6,396.3 882.7,414.2"/>
<polyline fill="none" stroke="#ff0000" stroke-width="2.08" stroke-linejoin="round" points="842.9,318.6 848.9,340.8 854.0,323.7"/>
<polyline fill="none" stroke="#ff0000" stroke-width="2.08" stroke-linejoin="round" points="854.0,323.7 863.4,324.6 867.7,314.3"/>
<polyline fill="none" stroke="#ff0000" stroke-width="2.08" stroke-linejoin="round" points="745.5,249.4 772.0,240.0"/>
<polyline fill="none" stroke="#ff0000" stroke-width="2.08" stroke-linejoin="round" points="788.2,264.8 813.0,267.3 796.8,252.8 819.8,284.4 811.3,274.2 788.2,264.8"/>
<polyline fill="none" stroke="#ff0000" stroke-width="2.08" stroke-linejoin="round" points="826.7,275.0 838.6,285.3 843.7,298.1 871.1,299.8"/>
<polyline fill="none" stroke="#ff0000" stroke-width="2.08" stroke-linejoin="round" points="910.4,265.6 922.3,265.6 918.9,277.6 922.3,284.8 928.3,276.7"/>
<polyline fill="none" stroke="#ff0000" stroke-width="2.08" stroke-linejoin="round" points="891.6,284.1 874.5,270.7"/>
<polyline fill="none" stroke="#ff0000" stroke-width="2.08" stroke-linejoin="round" points="852.1,247.4 865.7,223.4 879.9,267.4 857.2,273.9 854.6,296.4 843.4,274.8 853.3,254.6 879.5,280.6 848.6,291.0 857.6,296.4 851.8,296.4 868.6,284.9 867.3,286.0 860.4,296.4 862.9,293.7 872.3,248.6 866.0,213.0 861.7,243.6 844.4,256.6 869.4,227.4 873.1,293.7 861.9,243.4 867.8,291.9 853.4,296.4 868.6,267.8 859.8,221.2 878.4,213.0 859.5,224.7 859.5,213.0 866.6,213.0 861.1,213.0 874.2,248.3 877.3,293.7 860.9,276.2 858.5,246.9 861.4,243.0 846.6,213.0 848.1,260.7 872.1,231.2 848.4,271.1"/>
<polyline fill="none" stroke="#ff0000" stroke-width="2.08" stroke-linejoin="round" points="844.7,244.2 848.2,248.0 867.5,233.1 872.4,231.7 880.3,229.5 842.5,240.1 805.7,259.8 850.1,253.8 851.5,253.1 849.5,267.4 887.5,244.8 850.2,266.9 856.7,245.1 855.2,252.6 850.2,257.6 857.6,242.0 839.6,240.9 852.5,263.5 875.2,256.2 844.8,261.6 868.0,245.9 855.1,236.6 822.2,245.8 881.2,233.5 878.7,255.7 885.8,256.1 866.5,260.7 860.2,260.6 873.0,245.2 869.6,264.4 875.7,253.5 814.6,248.0"/>
<polyline fill="none" stroke="#ff0000" stroke-width="2.08" stroke-linejoin="round" points="870.0,247.5 880.4,268.0 882.5,269.9 858.0,259.8 828.3,247.4 830.4,253.9 830.7,254.4 842.8,264.6 860.1,262.7 845.2,252.8 860.4,257.5 825.0,263.4 881.9,272.8 881.8,273.0 826.2,257.6 827.1,253.4"/>
<circle cx="853.1" cy="213.0" r="3.50" fill="#ff0000"/>
<circle cx="857.4" cy="140.4" r="3.50" fill="#ff0000"/>
<circle cx="865.1" cy="231.8" r="3.50" fill="#ff0000"/>
<circle cx="745.5" cy="249.7" r="3.50" fill="#ff0000"/>
<circle cx="776.3" cy="226.3" r="3.50" fill="#ff0000"/>
<circle cx="894.1" cy="222.4" r="3.50" fill="#ff0000"/>
<circle cx="881.3" cy="231.8" r="3.50" fill="#ff0000"/>
<circle cx="916.3" cy="242.0" r="3.50" fill="#ff0000"/>
<circle cx="929.2" cy="231.8" r="3.50" fill="#ff0000"/>
<circle cx="789.9" cy="234.3" r="3.50" fill="#ff0000"/>
<circle cx="796.8" cy="254.0" r="3.50" fill="#ff0000"/>
<circle cx="809.6" cy="270.0" r="3.50" fill="#ff0000"/>
<circle cx="897.6" cy="184.0" r="3.50" fill="#ff0000"/>
<circle cx="902.7" cy="183.1" r="3.50" fill="#ff0000"/>
<circle cx="897.6" cy="188.2" r="3.50" fill="#ff0000"/>
<circle cx="889.0" cy="201.9" r="3.50" fill="#ff0000"/>
<circle cx="869.4" cy="225.0" r="3.50" fill="#ff0000"/>
<circle cx="902.7" cy="198.5" r="3.50" fill="#ff0000"/>
<circle cx="929.2" cy="214.7" r="3.50" fill="#ff0000"/>
<circle cx="924.8" cy="219.8" r="3.50" fill="#ff0000"/>
<circle cx="936.7" cy="228.0" r="3.50" fill="#ff0000"/>
<circle cx="939.3" cy="270.0" r="3.50" fill="#ff0000"/>
<circle cx="861.7" cy="204.5" r="3.50" fill="#ff0000"/>
<circle cx="912.1" cy="212.1" r="3.50" fill="#ff0000"/>
<circle cx="955.5" cy="222.4" r="3.50" fill="#ff0000"/>
<circle cx="994.5" cy="230.4" r="3.50" fill="#ff0000"/>
<circle cx="945.3" cy="245.4" r="3.50" fill="#ff0000"/>
<circle cx="966.6" cy="264.2" r="3.50" fill="#ff0000"/>
<circle cx="968.8" cy="264.4" r="3.50" fill="#ff0000"/>
<circle cx="1006.3" cy="304.4" r="3.50" fill="#ff0000"/>
<circle cx="1039.2" cy="383.5" r="3.50" fill="#ff0000"/>
<circle cx="969.2" cy="303.5" r="3.50" fill="#ff0000"/>
<circle cx="917.1" cy="245.1" r="3.50" fill="#ff0000"/>
<circle cx="965.8" cy="265.6" r="3.50" fill="#ff0000"/>
<circle cx="963.2" cy="277.2" r="3.50" fill="#ff0000"/>
<circle cx="900.0" cy="265.6" r="3.50" fill="#ff0000"/>
<circle cx="948.7" cy="285.3" r="3.50" fill="#ff0000"/>
<circle cx="912.0" cy="266.1" r="3.50" fill="#ff0000"/>
<circle cx="922.2" cy="265.6" r="3.50" fill="#ff0000"/>
<circle cx="918.8" cy="272.5" r="3.50" fill="#ff0000"/>
<circle cx="917.9" cy="278.4" r="3.50" fill="#ff0000"/>
<circle cx="927.3" cy="277.2" r="3.50" fill="#ff0000"/>
<circle cx="922.2" cy="284.8" r="3.50" fill="#ff0000"/>
<circle cx="900.0" cy="319.4" r="3.50" fill="#ff0000"/>
<circle cx="913.7" cy="348.5" r="3.50" fill="#ff0000"/>
<circle cx="900.0" cy="345.9" r="3.50" fill="#ff0000"/>
<circle cx="879.6" cy="293.0" r="3.50" fill="#ff0000"/>
<circle cx="883.9" cy="292.1" r="3.50" fill="#ff0000"/>
<circle cx="897.6" cy="319.4" r="3.50" fill="#ff0000"/>
<circle cx="886.4" cy="343.0" r="3.50" fill="#ff0000"/>
<circle cx="889.0" cy="331.4" r="3.50" fill="#ff0000"/>
<circle cx="900.1" cy="357.5" r="3.50" fill="#ff0000"/>
<circle cx="901.5" cy="370.7" r="3.50" fill="#ff0000"/>
<circle cx="887.3" cy="377.5" r="3.50" fill="#ff0000"/>
<circle cx="884.7" cy="365.2" r="3.50" fill="#ff0000"/>
<circle cx="891.3" cy="423.3" r="3.50" fill="#ff0000"/>
<circle cx="886.6" cy="423.3" r="3.50" fill="#ff0000"/>
<circle cx="884.3" cy="432.2" r="3.50" fill="#ff0000"/>
<circle cx="877.2" cy="396.5" r="3.50" fill="#ff0000"/>
<circle cx="882.3" cy="414.4" r="3.50" fill="#ff0000"/>
<circle cx="855.4" cy="366.4" r="3.50" fill="#ff0000"/>
<circle cx="871.9" cy="365.6" r="3.50" fill="#ff0000"/>
<circle cx="860.8" cy="377.5" r="3.50" fill="#ff0000"/>
<circle cx="848.0" cy="390.7" r="3.50" fill="#ff0000"/>
<circle cx="855.4" cy="348.1" r="3.50" fill="#ff0000"/>
<circle cx="877.6" cy="396.3" r="3.50" fill="#ff0000"/>
<circle cx="882.7" cy="414.2" r="3.50" fill="#ff0000"/>
<circle cx="842.9" cy="318.6" r="3.50" fill="#ff0000"/>
<circle cx="848.9" cy="340.8" r="3.50" fill="#ff0000"/>
<circle cx="854.0" cy="323.7" r="3.50" fill="#ff0000"/>
<circle cx="863.4" cy="324.6" r="3.50" fill="#ff0000"/>
<circle cx="867.7" cy="314.3" r="3.50" fill="#ff0000"/>
<circle cx="745.5" cy="249.4" r="3.50" fill="#ff0000"/>
<circle cx="772.0" cy="240.0" r="3.50" fill="#ff0000"/>
<circle cx="788.2" cy="264.8" r="3.50" fill="#ff0000"/>
<circle cx="813.0" cy="267.3" r="3.50" fill="#ff0000"/>
<circle cx="796.8" cy="252.8" r="3.50" fill="#ff0000"/>
<circle cx="819.8" cy="284.4" r="3.50" fill="#ff0000"/>
<circle cx="811.3" cy="274.2" r="3.50" fill="#ff0000"/>
<circle cx="826.7" cy="275.0" r="3.50" fill="#ff0000"/>
<circle cx="838.6" cy="285.3" r="3.50" fill="#ff0000"/>
<circle cx="843.7" cy="298.1" r="3.50" fill="#ff0000"/>
<circle cx="871.1" cy="299.8" r="3.50" fill="#ff0000"/>
<circle cx="910.4" cy="265.6" r="3.50" fill="#ff0000"/>
<circle cx="918.9" cy="277.6" r="3.50" fill="#ff0000"/>
<circle cx="928.3" cy="276.7" r="3.50" fill="#ff0000"/>
<circle cx="891.6" cy="284.1" r="3.50" fill="#ff0000"/>
<circle cx="874.5" cy="270.7" r="3.50" fill="#ff0000"/>
<circle cx="852.1" cy="247.4" r="3.50" fill="#ff0000"/>
<circle cx="865.7" cy="223.4" r="3.50" fill="#ff0000"/>
<circle cx="879.9" cy="267.4" r="3.50" fill="#ff0000"/>
<circle cx="857.2" cy="273.9" r="3.50" fill="#ff0000"/>
<circle cx="854.6" cy="296.4" r="3.50" fill="#ff0000"/>
<circle cx="843.4" cy="274.8" r="3.50" fill="#ff0000"/>
<circle cx="853.3" cy="254.6" r="3.50" fill="#ff0000"/>
<circle cx="879.5" cy="280.6" r="3.50" fill="#ff0000"/>
<circle cx="848.6" cy="291.0" r="3.50" fill="#ff0000"/>
<circle cx="857.6" cy="296.4" r="3.50" fill="#ff0000"/>
<circle cx="851.8" cy="296.4" r="3.50" fill="#ff0000"/>
<circle cx="868.6" cy="284.9" r="3.50" fill="#ff0000"/>
<circle cx="867.3" cy="286.0" r="3.50" fill="#ff0000"/>
<circle cx="860.4" cy="296.4" r="3.50" fill="#ff0000"/>
<circle cx="862.9" cy="293.7" r="3.50" fill="#ff0000"/>
<circle cx="872.3" cy="248.6" r="3.50" fill="#ff0000"/>
<circle cx="866.0" cy="213.0" r="3.50" fill="#ff0000"/>
<circle cx="861.7" cy="243.6" r="3.50" fill="#ff0000"/>
<circle cx="844.4" cy="256.6" r="3.50" fill="#ff0000"/>
<circle cx="869.4" cy="227.4" r="3.50" fill="#ff0000"/>
<circle cx="873.1" cy="293.7" r="3.50" fill="#ff0000"/>
<circle cx="861.9" cy="243.4" r="3.50" fill="#ff0000"/>
<circle cx="867.8" cy="291.9" r="3.50" fill="#ff0000"/>
<circle cx="853.4" cy="296.4" r="3.50" fill="#ff0000"/>
<circle cx="868.6" cy="267.8" r="3.50" fill="#ff0000"/>
<circle cx="859.8" cy="221.2" r="3.50" fill="#ff0000"/>
<circle cx="878.4" cy="213.0" r="3.50" fill="#ff0000"/>
<circle cx="859.5" cy="224.7" r="3.50" fill="#ff0000"/>
<circle cx="859.5" cy="213.0" r="3.50" fill="#ff0000"/>
<circle cx="866.6" cy="213.0" r="3.50" fill="#ff0000"/>
<circle cx="861.1" cy="213.0" r="3.50" fill="#ff0000"/>
<circle cx="874.2" cy="248.3" r="3.50" fill="#ff0000"/>
<circle cx="877.3" cy="293.7" r="3.50" fill="#ff0000"/>
<circle cx="860.9" cy="276.2" r="3.50" fill="#ff0000"/>
<circle cx="858.5" cy="246.9" r="3.50" fill="#ff0000"/>
<circle cx="861.4" cy="243.0" r="3.50" fill="#ff0000"/>
<circle cx="846.6" cy="213.0" r="3.50" fill="#ff0000"/>
<circle cx="848.1" cy="260.7" r="3.50" fill="#ff0000"/>
<circle cx="872.1" cy="231.2" r="3.50" fill="#ff0000"/>
<circle cx="848.4" cy="271.1" r="3.50" fill="#ff0000"/>
<circle cx="844.7" cy="244.2" r="3.50" fill="#ff0000"/>
<circle cx="848.2" cy="248.0" r="3.50" fill="#ff0000"/>
<circle cx="867.5" cy="233.1" r="3.50" fill="#ff0000"/>
<circle cx="872.4" cy="231.7" r="3.50" fill="#ff0000"/>
<circle cx="880.3" cy="229.5" r="3.50" fill="#ff0000"/>
<circle cx="842.5" cy="240.1" r="3.50" fill="#ff0000"/>
<circle cx="805.7" cy="259.8" r="3.50" fill="#ff0000"/>
<circle cx="850.1" cy="253.8" r="3.50" fill="#ff0000"/>
<circle cx="851.5" cy="253.1" r="3.50" fill="#ff0000"/>
<circle cx="849.5" cy="267.4" r="3.50" fill="#ff0000"/>
<circle cx="887.5" cy="244.8" r="3.50" fill="#ff0000"/>
<circle cx="856.7" cy="245.1" r="3.50" fill="#ff0000"/>
<circle cx="855.2" cy="252.6" r="3.50" fill="#ff0000"/>
<circle cx="850.2" cy="257.6" r="3.50" fill="#ff0000"/>
<circle cx="857.6" cy="242.0" r="3.50" fill="#ff0000"/>
<circle cx="839.6" cy="240.9" r="3.50" fill="#ff0000"/>
<circle cx="852.5" cy="263.5" r="3.50" fill="#ff0000"/>
<circle cx="875.2" cy="256.2" r="3.50" fill="#ff0000"/>
<circle cx="844.8" cy="261.6" r="3.50" fill="#ff0000"/>
<circle cx="868.0" cy="245.9" r="3.50" fill="#ff0000"/>
<circle cx="855.1" cy="236.6" r="3.50" fill="#ff0000"/>
<circle cx="822.2" cy="245.8" r="3.50" fill="#ff0000"/>
<circle cx="881.2" cy="233.5" r="3.50" fill="#ff0000"/>
<circle cx="878.7" cy="255.7" r="3.50" fill="#ff0000"/>
<circle cx="885.8" cy="256.1" r="3.50" fill="#ff0000"/>
<circle cx="866.5" cy="260.7" r="3.50" fill="#ff0000"/>
<circle cx="860.2" cy="260.6" r="3.50" fill="#ff0000"/>
<circle cx="873.0" cy="245.2" r="3.50" fill="#ff0000"/>
<circle cx="869.6" cy="264.4" r="3.50" fill="#ff0000"/>
<circle cx="875.7" cy="253.5" r="3.50" fill="#ff0000"/>
<circle cx="814.6" cy="248.0" r="3.50" fill="#ff0000"/>
<circle cx="870.0" cy="247.5" r="3.50" fill="#ff0000"/>
<circle cx="880.4" cy="268.0" r="3.50" fill="#ff0000"/>
<circle cx="882.5" cy="269.9" r="3.50" fill="#ff0000"/>
<circle cx="858.0" cy="259.8" r="3.50" fill="#ff0000"/>
<circle cx="828.3" cy="247.4" r="3.50" fill="#ff0000"/>
<circle cx="830.4" cy="253.9" r="3.50" fill="#ff0000"/>
<circle cx="830.7" cy="254.4" r="3.50" fill="#ff0000"/>
<circle cx="842.8" cy="264.6" r="3.50" fill="#ff0000"/>
<circle cx="860.1" cy="262.7" r="3.50" fill="#ff0000"/>
<circle cx="845.2" cy="252.8" r="3.50" fill="#ff0000"/>
<circle cx="860.4" cy="257.5" r="3.50" fill="#ff0000"/>
<circle cx="825.0" cy="263.4" r="3.50" fill="#ff0000"/>
<circle cx="881.9" cy="272.8" r="3.50" fill="#ff0000"/>
<circle cx="826.2" cy="257.6" r="3.50" fill="#ff0000"/>
<circle cx="827.1" cy="253.4" r="3.50" fill="#ff0000"/>
</g>
<rect x="673" y="84" width="454" height="454" fill="none" stroke="#000" stroke-width="2"/>
<line x1="701.50" y1="538.00" x2="701.50" y2="529.67" stroke="#000" stroke-width="1.00" stroke-linecap="butt"/>
<line x1="701.50" y1="84.00" x2="701.50" y2="92.33" stroke="#000" stroke-width="1.00" stroke-linecap="butt"/>
<text x="700.88" y="559.60" font-size="17.17" text-anchor="middle" textLength="33.76" lengthAdjust="spacingAndGlyphs" fill="#000">−40</text>
<line x1="758.50" y1="538.00" x2="758.50" y2="529.67" stroke="#000" stroke-width="1.00" stroke-linecap="butt"/>
<line x1="758.50" y1="84.00" x2="758.50" y2="92.33" stroke="#000" stroke-width="1.00" stroke-linecap="butt"/>
<text x="757.62" y="559.60" font-size="17.17" text-anchor="middle" textLength="33.76" lengthAdjust="spacingAndGlyphs" fill="#000">−30</text>
<line x1="815.50" y1="538.00" x2="815.50" y2="529.67" stroke="#000" stroke-width="1.00" stroke-linecap="butt"/>
<line x1="815.50" y1="84.00" x2="815.50" y2="92.33" stroke="#000" stroke-width="1.00" stroke-linecap="butt"/>
<text x="814.38" y="559.60" font-size="17.17" text-anchor="middle" textLength="33.76" lengthAdjust="spacingAndGlyphs" fill="#000">−20</text>
<line x1="872.50" y1="538.00" x2="872.50" y2="529.67" stroke="#000" stroke-width="1.00" stroke-linecap="butt"/>
<line x1="872.50" y1="84.00" x2="872.50" y2="92.33" stroke="#000" stroke-width="1.00" stroke-linecap="butt"/>
<text x="871.12" y="559.60" font-size="17.17" text-anchor="middle" textLength="33.76" lengthAdjust="spacingAndGlyphs" fill="#000">−10</text>
<line x1="928.50" y1="538.00" x2="928.50" y2="529.67" stroke="#000" stroke-width="1.00" stroke-linecap="butt"/>
<line x1="928.50" y1="84.00" x2="928.50" y2="92.33" stroke="#000" stroke-width="1.00" stroke-linecap="butt"/>
<text x="927.87" y="559.60" font-size="17.17" text-anchor="middle" textLength="9.19" lengthAdjust="spacingAndGlyphs" fill="#000">0</text>
<line x1="985.50" y1="538.00" x2="985.50" y2="529.67" stroke="#000" stroke-width="1.00" stroke-linecap="butt"/>
<line x1="985.50" y1="84.00" x2="985.50" y2="92.33" stroke="#000" stroke-width="1.00" stroke-linecap="butt"/>
<text x="984.62" y="559.60" font-size="17.17" text-anchor="middle" textLength="19.80" lengthAdjust="spacingAndGlyphs" fill="#000">10</text>
<line x1="1042.50" y1="538.00" x2="1042.50" y2="529.67" stroke="#000" stroke-width="1.00" stroke-linecap="butt"/>
<line x1="1042.50" y1="84.00" x2="1042.50" y2="92.33" stroke="#000" stroke-width="1.00" stroke-linecap="butt"/>
<text x="1041.38" y="559.60" font-size="17.17" text-anchor="middle" textLength="19.80" lengthAdjust="spacingAndGlyphs" fill="#000">20</text>
<line x1="1099.50" y1="538.00" x2="1099.50" y2="529.67" stroke="#000" stroke-width="1.00" stroke-linecap="butt"/>
<line x1="1099.50" y1="84.00" x2="1099.50" y2="92.33" stroke="#000" stroke-width="1.00" stroke-linecap="butt"/>
<text x="1098.12" y="559.60" font-size="17.17" text-anchor="middle" textLength="19.80" lengthAdjust="spacingAndGlyphs" fill="#000">30</text>
<line x1="673.00" y1="538.50" x2="681.33" y2="538.50" stroke="#000" stroke-width="1.00" stroke-linecap="butt"/>
<line x1="1127.00" y1="538.50" x2="1118.67" y2="538.50" stroke="#000" stroke-width="1.00" stroke-linecap="butt"/>
<text x="663.94" y="543.10" font-size="17.17" text-anchor="end" textLength="33.76" lengthAdjust="spacingAndGlyphs" fill="#000">−40</text>
<line x1="673.00" y1="481.50" x2="681.33" y2="481.50" stroke="#000" stroke-width="1.00" stroke-linecap="butt"/>
<line x1="1127.00" y1="481.50" x2="1118.67" y2="481.50" stroke="#000" stroke-width="1.00" stroke-linecap="butt"/>
<text x="663.94" y="486.34" font-size="17.17" text-anchor="end" textLength="33.76" lengthAdjust="spacingAndGlyphs" fill="#000">−30</text>
<line x1="673.00" y1="425.50" x2="681.33" y2="425.50" stroke="#000" stroke-width="1.00" stroke-linecap="butt"/>
<line x1="1127.00" y1="425.50" x2="1118.67" y2="425.50" stroke="#000" stroke-width="1.00" stroke-linecap="butt"/>
<text x="663.94" y="429.58" font-size="17.17" text-anchor="end" textLength="33.76" lengthAdjust="spacingAndGlyphs" fill="#000">−20</text>
<line x1="673.00" y1="368.50" x2="681.33" y2="368.50" stroke="#000" stroke-width="1.00" stroke-linecap="butt"/>
<line x1="1127.00" y1="368.50" x2="1118.67" y2="368.50" stroke="#000" stroke-width="1.00" stroke-linecap="butt"/>
<text x="663.94" y="372.81" font-size="17.17" text-anchor="end" textLength="33.76" lengthAdjust="spacingAndGlyphs" fill="#000">−10</text>
<line x1="673.00" y1="311.50" x2="681.33" y2="311.50" stroke="#000" stroke-width="1.00" stroke-linecap="butt"/>
<line x1="1127.00" y1="311.50" x2="1118.67" y2="311.50" stroke="#000" stroke-width="1.00" stroke-linecap="butt"/>
<text x="663.94" y="316.05" font-size="17.17" text-anchor="end" textLength="9.19" lengthAdjust="spacingAndGlyphs" fill="#000">0</text>
<line x1="673.00" y1="254.50" x2="681.33" y2="254.50" stroke="#000" stroke-width="1.00" stroke-linecap="butt"/>
<line x1="1127.00" y1="254.50" x2="1118.67" y2="254.50" stroke="#000" stroke-width="1.00" stroke-linecap="butt"/>
<text x="663.94" y="259.29" font-size="17.17" text-anchor="end" textLength="19.80" lengthAdjust="spacingAndGlyphs" fill="#000">10</text>
<line x1="673.00" y1="198.50" x2="681.33" y2="198.50" stroke="#000" stroke-width="1.00" stroke-linecap="butt"/>
<line x1="1127.00" y1="198.50" x2="1118.67" y2="198.50" stroke="#000" stroke-width="1.00" stroke-linecap="butt"/>
<text x="663.94" y="202.53" font-size="17.17" text-anchor="end" textLength="19.80" lengthAdjust="spacingAndGlyphs" fill="#000">20</text>
<line x1="673.00" y1="141.50" x2="681.33" y2="141.50" stroke="#000" stroke-width="1.00" stroke-linecap="butt"/>
<line x1="1127.00" y1="141.50" x2="1118.67" y2="141.50" stroke="#000" stroke-width="1.00" stroke-linecap="butt"/>
<text x="663.94" y="145.76" font-size="17.17" text-anchor="end" textLength="19.80" lengthAdjust="spacingAndGlyphs" fill="#000">30</text>
<line x1="673.00" y1="84.50" x2="681.33" y2="84.50" stroke="#000" stroke-width="1.00" stroke-linecap="butt"/>
<line x1="1127.00" y1="84.50" x2="1118.67" y2="84.50" stroke="#000" stroke-width="1.00" stroke-linecap="butt"/>
<text x="663.94" y="89.00" font-size="17.17" text-anchor="end" textLength="19.80" lengthAdjust="spacingAndGlyphs" fill="#000">40</text>
<text x="900.10" y="74.10" font-size="24.00" text-anchor="middle" textLength="361.92" lengthAdjust="spacingAndGlyphs" fill="#000">Hodogram(V2_V1 MVAB frame)</text>
<text x="900.10" y="588.80" font-size="17.17" text-anchor="middle" textLength="73.79" lengthAdjust="spacingAndGlyphs" fill="#000">V2(km/s)</text>
<text x="614.30" y="312.65" font-size="17.17" text-anchor="middle" textLength="73.79" lengthAdjust="spacingAndGlyphs" fill="#000" transform="rotate(-90 614.30 312.65)">V1(km/s)</text>
<text x="685.70" y="516.20" class="m" font-size="20.0" fill="#000">λ</text>
<text x="696.00" y="520.40" class="mr" font-size="13.5" fill="#000">1</text>
<line x1="703.60" y1="521.80" x2="711.40" y2="502.90" stroke="#000" stroke-width="0.95" stroke-linecap="butt"/>
<text x="713.60" y="516.20" class="m" font-size="20.0" fill="#000">λ</text>
<text x="723.40" y="520.40" class="mr" font-size="13.5" fill="#000">2</text>
<text x="735.60" y="516.70" class="mr" font-size="21.0" fill="#000" textLength="13.2" lengthAdjust="spacingAndGlyphs">≈</text>
<text x="757.20" y="516.20" font-size="19.31" text-anchor="start" textLength="40.15" lengthAdjust="spacingAndGlyphs" fill="#000">1.35</text>
<rect x="1007" y="91" width="113" height="60" fill="#fff" stroke="#000" stroke-width="2"/>
<line x1="1017.20" y1="107.30" x2="1037.60" y2="107.30" stroke="#0000ff" stroke-width="2.08" stroke-linecap="butt"/>
<circle cx="1017.2" cy="107.3" r="3.50" fill="#0000ff"/>
<circle cx="1037.6" cy="107.3" r="3.50" fill="#0000ff"/>
<line x1="1017.20" y1="133.40" x2="1037.60" y2="133.40" stroke="#ff0000" stroke-width="2.08" stroke-linecap="butt"/>
<circle cx="1017.2" cy="133.4" r="3.50" fill="#ff0000"/>
<circle cx="1037.6" cy="133.4" r="3.50" fill="#ff0000"/>
<text x="1054.70" y="110.90" font-size="15.80" text-anchor="start" textLength="13.98" lengthAdjust="spacingAndGlyphs" fill="#000">B/</text>
<path d="M1070.1 109.5l1.5 -1.1l2.8 5.6l6.3 -14.7h27.6" fill="none" stroke="#000" stroke-width="0.9"/>
<text x="1082.30" y="111.3" class="m" font-size="14" fill="#000">μ</text>
<text x="1091.10" y="113.8" class="mr" font-size="10" fill="#000">0</text>
<text x="1097.10" y="111.3" class="m" font-size="14" fill="#000">ρ</text>
<text x="1054.70" y="137.70" font-size="15.80" text-anchor="start" textLength="8.93" lengthAdjust="spacingAndGlyphs" fill="#000">V</text>
<text x="1064.70" y="139.8" class="m" font-size="11.5" textLength="47" lengthAdjust="spacing" fill="#000">remaining</text>
<line x1="1257.50" y1="538.00" x2="1257.50" y2="84.00" stroke="#000" stroke-width="1" stroke-dasharray="2.1 6.23" stroke-dashoffset="1.05"/>
<line x1="1314.50" y1="538.00" x2="1314.50" y2="84.00" stroke="#000" stroke-width="1" stroke-dasharray="2.1 6.23" stroke-dashoffset="1.05"/>
<line x1="1371.50" y1="538.00" x2="1371.50" y2="84.00" stroke="#000" stroke-width="1" stroke-dasharray="2.1 6.23" stroke-dashoffset="1.05"/>
<line x1="1428.50" y1="538.00" x2="1428.50" y2="84.00" stroke="#000" stroke-width="1" stroke-dasharray="2.1 6.23" stroke-dashoffset="1.05"/>
<line x1="1484.50" y1="538.00" x2="1484.50" y2="84.00" stroke="#000" stroke-width="1" stroke-dasharray="2.1 6.23" stroke-dashoffset="1.05"/>
<line x1="1541.50" y1="538.00" x2="1541.50" y2="84.00" stroke="#000" stroke-width="1" stroke-dasharray="2.1 6.23" stroke-dashoffset="1.05"/>
<line x1="1598.50" y1="538.00" x2="1598.50" y2="84.00" stroke="#000" stroke-width="1" stroke-dasharray="2.1 6.23" stroke-dashoffset="1.05"/>
<line x1="1655.50" y1="538.00" x2="1655.50" y2="84.00" stroke="#000" stroke-width="1" stroke-dasharray="2.1 6.23" stroke-dashoffset="1.05"/>
<line x1="1229.00" y1="538.50" x2="1683.00" y2="538.50" stroke="#000" stroke-width="1" stroke-dasharray="2.1 6.23" stroke-dashoffset="7.7"/>
<line x1="1229.00" y1="481.50" x2="1683.00" y2="481.50" stroke="#000" stroke-width="1" stroke-dasharray="2.1 6.23" stroke-dashoffset="7.7"/>
<line x1="1229.00" y1="425.50" x2="1683.00" y2="425.50" stroke="#000" stroke-width="1" stroke-dasharray="2.1 6.23" stroke-dashoffset="7.7"/>
<line x1="1229.00" y1="368.50" x2="1683.00" y2="368.50" stroke="#000" stroke-width="1" stroke-dasharray="2.1 6.23" stroke-dashoffset="7.7"/>
<line x1="1229.00" y1="311.50" x2="1683.00" y2="311.50" stroke="#000" stroke-width="1" stroke-dasharray="2.1 6.23" stroke-dashoffset="7.7"/>
<line x1="1229.00" y1="254.50" x2="1683.00" y2="254.50" stroke="#000" stroke-width="1" stroke-dasharray="2.1 6.23" stroke-dashoffset="7.7"/>
<line x1="1229.00" y1="198.50" x2="1683.00" y2="198.50" stroke="#000" stroke-width="1" stroke-dasharray="2.1 6.23" stroke-dashoffset="7.7"/>
<line x1="1229.00" y1="141.50" x2="1683.00" y2="141.50" stroke="#000" stroke-width="1" stroke-dasharray="2.1 6.23" stroke-dashoffset="7.7"/>
<line x1="1229.00" y1="84.50" x2="1683.00" y2="84.50" stroke="#000" stroke-width="1" stroke-dasharray="2.1 6.23" stroke-dashoffset="7.7"/>
<clipPath id="ch2"><rect x="1229.10" y="84.10" width="454.00" height="454.10"/></clipPath>
<g clip-path="url(#ch2)">
<polyline fill="none" stroke="#0000ff" stroke-width="2.08" stroke-linejoin="round" points="1548.6,153.1 1514.8,107.3 1528.4,185.2 1553.7,183.0"/>
<polyline fill="none" stroke="#0000ff" stroke-width="2.08" stroke-linejoin="round" points="1540.9,159.6 1542.6,166.4 1549.4,173.6 1553.7,187.2"/>
<polyline fill="none" stroke="#0000ff" stroke-width="2.08" stroke-linejoin="round" points="1576.8,151.4 1576.8,175.3 1594.4,165.0 1579.3,152.2"/>
<polyline fill="none" stroke="#0000ff" stroke-width="2.08" stroke-linejoin="round" points="1593.8,181.3 1572.5,177.0"/>
<polyline fill="none" stroke="#0000ff" stroke-width="2.08" stroke-linejoin="round" points="1595.6,192.7 1575.9,190.7"/>
<polyline fill="none" stroke="#0000ff" stroke-width="2.08" stroke-linejoin="round" points="1563.1,205.2 1554.6,214.1 1541.4,217.5 1589.6,230.0"/>
<polyline fill="none" stroke="#0000ff" stroke-width="2.08" stroke-linejoin="round" points="1566.5,229.4 1581.0,221.4"/>
<polyline fill="none" stroke="#0000ff" stroke-width="2.08" stroke-linejoin="round" points="1581.9,247.0 1553.4,256.1 1583.6,258.6 1619.5,270.9 1620.0,264.6 1619.5,251.3"/>
<polyline fill="none" stroke="#0000ff" stroke-width="2.08" stroke-linejoin="round" points="1526.4,242.2 1533.5,264.6 1542.6,270.9"/>
<polyline fill="none" stroke="#0000ff" stroke-width="2.08" stroke-linejoin="round" points="1542.6,271.6 1533.5,264.8 1541.4,285.6 1574.5,378.2 1570.4,330.4 1585.3,260.0"/>
<polyline fill="none" stroke="#0000ff" stroke-width="2.08" stroke-linejoin="round" points="1575.6,364.2 1603.6,339.4 1604.4,346.6 1613.5,421.4 1611.8,388.5 1616.1,378.7 1575.6,364.2"/>
<polyline fill="none" stroke="#0000ff" stroke-width="2.08" stroke-linejoin="round" points="1595.6,268.5 1589.6,281.4 1620.3,295.5 1620.0,271.6"/>
<polyline fill="none" stroke="#0000ff" stroke-width="2.08" stroke-linejoin="round" points="1606.7,301.0 1585.3,310.6 1599.3,318.9 1625.4,313.3 1633.5,324.6 1599.3,316.4 1599.8,260.0"/>
<polyline fill="none" stroke="#0000ff" stroke-width="2.08" stroke-linejoin="round" points="1611.8,313.0 1610.1,362.5"/>
<polyline fill="none" stroke="#0000ff" stroke-width="2.08" stroke-linejoin="round" points="1606.7,301.0 1618.3,303.6 1620.3,353.4 1610.9,363.0 1601.9,362.0"/>
<polyline fill="none" stroke="#0000ff" stroke-width="2.08" stroke-linejoin="round" points="1616.1,378.7 1622.9,373.6 1623.4,360.4"/>
<polyline fill="none" stroke="#0000ff" stroke-width="2.08" stroke-linejoin="round" points="1617.8,399.6 1622.9,373.6"/>
<polyline fill="none" stroke="#0000ff" stroke-width="2.08" stroke-linejoin="round" points="1624.6,381.6 1629.7,439.4 1619.5,482.6 1626.3,491.5 1621.2,438.9 1611.8,388.5"/>
<polyline fill="none" stroke="#0000ff" stroke-width="2.08" stroke-linejoin="round" points="1589.4,209.4 1584.9,231.7 1589.0,221.8 1582.6,214.5 1563.2,163.0 1579.2,200.9 1550.8,172.7 1551.6,163.9 1560.4,148.8 1554.1,152.5 1537.5,162.3 1575.6,203.3 1552.3,187.3 1560.8,181.1 1567.5,151.8 1555.2,151.9 1564.5,175.3 1596.1,239.2 1557.3,174.9 1559.5,178.6 1567.9,204.3 1567.9,203.4 1554.5,167.6 1590.5,188.4 1544.1,158.4 1554.7,152.2 1543.1,159.0 1589.1,210.6 1575.1,240.8 1568.9,190.1 1591.8,225.9 1601.4,269.5 1612.1,250.1 1598.2,239.8 1564.7,182.7 1553.5,152.9 1559.8,166.5 1581.7,192.5 1570.2,167.3 1545.7,161.8 1573.5,190.3 1543.4,158.9 1552.3,153.6 1560.5,178.8 1585.5,197.9 1593.6,217.8 1567.8,235.1 1609.8,264.6 1602.1,250.6 1606.7,266.4 1606.4,237.0 1603.8,268.1"/>
<polyline fill="none" stroke="#0000ff" stroke-width="2.08" stroke-linejoin="round" points="1573.2,186.2 1573.6,185.1 1567.8,200.6 1566.4,212.9 1573.9,184.8 1562.0,193.2 1588.0,174.9 1623.2,233.7 1599.7,253.7 1609.1,247.0 1617.9,230.1 1564.5,209.6 1561.9,193.3 1575.0,184.1 1587.7,197.4 1568.8,188.5 1579.5,180.9 1608.9,233.2 1609.2,246.9 1606.3,233.7 1596.2,229.4 1582.3,211.9 1559.1,208.4 1573.1,185.4 1543.5,206.3 1554.5,198.5"/>
<circle cx="1548.6" cy="153.1" r="3.50" fill="#0000ff"/>
<circle cx="1514.8" cy="107.3" r="3.50" fill="#0000ff"/>
<circle cx="1528.4" cy="185.2" r="3.50" fill="#0000ff"/>
<circle cx="1553.7" cy="183.0" r="3.50" fill="#0000ff"/>
<circle cx="1540.9" cy="159.6" r="3.50" fill="#0000ff"/>
<circle cx="1542.6" cy="166.4" r="3.50" fill="#0000ff"/>
<circle cx="1549.4" cy="173.6" r="3.50" fill="#0000ff"/>
<circle cx="1553.7" cy="187.2" r="3.50" fill="#0000ff"/>
<circle cx="1576.8" cy="151.4" r="3.50" fill="#0000ff"/>
<circle cx="1576.8" cy="175.3" r="3.50" fill="#0000ff"/>
<circle cx="1594.4" cy="165.0" r="3.50" fill="#0000ff"/>
<circle cx="1579.3" cy="152.2" r="3.50" fill="#0000ff"/>
<circle cx="1593.8" cy="181.3" r="3.50" fill="#0000ff"/>
<circle cx="1572.5" cy="177.0" r="3.50" fill="#0000ff"/>
<circle cx="1595.6" cy="192.7" r="3.50" fill="#0000ff"/>
<circle cx="1575.9" cy="190.7" r="3.50" fill="#0000ff"/>
<circle cx="1563.1" cy="205.2" r="3.50" fill="#0000ff"/>
<circle cx="1554.6" cy="214.1" r="3.50" fill="#0000ff"/>
<circle cx="1541.4" cy="217.5" r="3.50" fill="#0000ff"/>
<circle cx="1589.6" cy="230.0" r="3.50" fill="#0000ff"/>
<circle cx="1566.5" cy="229.4" r="3.50" fill="#0000ff"/>
<circle cx="1581.0" cy="221.4" r="3.50" fill="#0000ff"/>
<circle cx="1581.9" cy="247.0" r="3.50" fill="#0000ff"/>
<circle cx="1553.4" cy="256.1" r="3.50" fill="#0000ff"/>
<circle cx="1583.6" cy="258.6" r="3.50" fill="#0000ff"/>
<circle cx="1619.5" cy="270.9" r="3.50" fill="#0000ff"/>
<circle cx="1620.0" cy="264.6" r="3.50" fill="#0000ff"/>
<circle cx="1619.5" cy="251.3" r="3.50" fill="#0000ff"/>
<circle cx="1526.4" cy="242.2" r="3.50" fill="#0000ff"/>
<circle cx="1533.5" cy="264.6" r="3.50" fill="#0000ff"/>
<circle cx="1542.6" cy="270.9" r="3.50" fill="#0000ff"/>
<circle cx="1542.6" cy="271.6" r="3.50" fill="#0000ff"/>
<circle cx="1541.4" cy="285.6" r="3.50" fill="#0000ff"/>
<circle cx="1574.5" cy="378.2" r="3.50" fill="#0000ff"/>
<circle cx="1570.4" cy="330.4" r="3.50" fill="#0000ff"/>
<circle cx="1585.3" cy="260.0" r="3.50" fill="#0000ff"/>
<circle cx="1575.6" cy="364.2" r="3.50" fill="#0000ff"/>
<circle cx="1603.6" cy="339.4" r="3.50" fill="#0000ff"/>
<circle cx="1604.4" cy="346.6" r="3.50" fill="#0000ff"/>
<circle cx="1613.5" cy="421.4" r="3.50" fill="#0000ff"/>
<circle cx="1611.8" cy="388.5" r="3.50" fill="#0000ff"/>
<circle cx="1616.1" cy="378.7" r="3.50" fill="#0000ff"/>
<circle cx="1595.6" cy="268.5" r="3.50" fill="#0000ff"/>
<circle cx="1589.6" cy="281.4" r="3.50" fill="#0000ff"/>
<circle cx="1620.3" cy="295.5" r="3.50" fill="#0000ff"/>
<circle cx="1620.0" cy="271.6" r="3.50" fill="#0000ff"/>
<circle cx="1606.7" cy="301.0" r="3.50" fill="#0000ff"/>
<circle cx="1585.3" cy="310.6" r="3.50" fill="#0000ff"/>
<circle cx="1599.3" cy="318.9" r="3.50" fill="#0000ff"/>
<circle cx="1625.4" cy="313.3" r="3.50" fill="#0000ff"/>
<circle cx="1633.5" cy="324.6" r="3.50" fill="#0000ff"/>
<circle cx="1599.3" cy="316.4" r="3.50" fill="#0000ff"/>
<circle cx="1599.8" cy="260.0" r="3.50" fill="#0000ff"/>
<circle cx="1611.8" cy="313.0" r="3.50" fill="#0000ff"/>
<circle cx="1610.1" cy="362.5" r="3.50" fill="#0000ff"/>
<circle cx="1618.3" cy="303.6" r="3.50" fill="#0000ff"/>
<circle cx="1620.3" cy="353.4" r="3.50" fill="#0000ff"/>
<circle cx="1610.9" cy="363.0" r="3.50" fill="#0000ff"/>
<circle cx="1601.9" cy="362.0" r="3.50" fill="#0000ff"/>
<circle cx="1622.9" cy="373.6" r="3.50" fill="#0000ff"/>
<circle cx="1623.4" cy="360.4" r="3.50" fill="#0000ff"/>
<circle cx="1617.8" cy="399.6" r="3.50" fill="#0000ff"/>
<circle cx="1624.6" cy="381.6" r="3.50" fill="#0000ff"/>
<circle cx="1629.7" cy="439.4" r="3.50" fill="#0000ff"/>
<circle cx="1619.5" cy="482.6" r="3.50" fill="#0000ff"/>
<circle cx="1626.3" cy="491.5" r="3.50" fill="#0000ff"/>
<circle cx="1621.2" cy="438.9" r="3.50" fill="#0000ff"/>
<circle cx="1589.4" cy="209.4" r="3.50" fill="#0000ff"/>
<circle cx="1584.9" cy="231.7" r="3.50" fill="#0000ff"/>
<circle cx="1589.0" cy="221.8" r="3.50" fill="#0000ff"/>
<circle cx="1582.6" cy="214.5" r="3.50" fill="#0000ff"/>
<circle cx="1563.2" cy="163.0" r="3.50" fill="#0000ff"/>
<circle cx="1579.2" cy="200.9" r="3.50" fill="#0000ff"/>
<circle cx="1550.8" cy="172.7" r="3.50" fill="#0000ff"/>
<circle cx="1551.6" cy="163.9" r="3.50" fill="#0000ff"/>
<circle cx="1560.4" cy="148.8" r="3.50" fill="#0000ff"/>
<circle cx="1554.1" cy="152.5" r="3.50" fill="#0000ff"/>
<circle cx="1537.5" cy="162.3" r="3.50" fill="#0000ff"/>
<circle cx="1575.6" cy="203.3" r="3.50" fill="#0000ff"/>
<circle cx="1552.3" cy="187.3" r="3.50" fill="#0000ff"/>
<circle cx="1560.8" cy="181.1" r="3.50" fill="#0000ff"/>
<circle cx="1567.5" cy="151.8" r="3.50" fill="#0000ff"/>
<circle cx="1555.2" cy="151.9" r="3.50" fill="#0000ff"/>
<circle cx="1564.5" cy="175.3" r="3.50" fill="#0000ff"/>
<circle cx="1596.1" cy="239.2" r="3.50" fill="#0000ff"/>
<circle cx="1557.3" cy="174.9" r="3.50" fill="#0000ff"/>
<circle cx="1559.5" cy="178.6" r="3.50" fill="#0000ff"/>
<circle cx="1567.9" cy="204.3" r="3.50" fill="#0000ff"/>
<circle cx="1567.9" cy="203.4" r="3.50" fill="#0000ff"/>
<circle cx="1554.5" cy="167.6" r="3.50" fill="#0000ff"/>
<circle cx="1590.5" cy="188.4" r="3.50" fill="#0000ff"/>
<circle cx="1544.1" cy="158.4" r="3.50" fill="#0000ff"/>
<circle cx="1543.1" cy="159.0" r="3.50" fill="#0000ff"/>
<circle cx="1589.1" cy="210.6" r="3.50" fill="#0000ff"/>
<circle cx="1575.1" cy="240.8" r="3.50" fill="#0000ff"/>
<circle cx="1568.9" cy="190.1" r="3.50" fill="#0000ff"/>
<circle cx="1591.8" cy="225.9" r="3.50" fill="#0000ff"/>
<circle cx="1601.4" cy="269.5" r="3.50" fill="#0000ff"/>
<circle cx="1612.1" cy="250.1" r="3.50" fill="#0000ff"/>
<circle cx="1598.2" cy="239.8" r="3.50" fill="#0000ff"/>
<circle cx="1564.7" cy="182.7" r="3.50" fill="#0000ff"/>
<circle cx="1559.8" cy="166.5" r="3.50" fill="#0000ff"/>
<circle cx="1581.7" cy="192.5" r="3.50" fill="#0000ff"/>
<circle cx="1570.2" cy="167.3" r="3.50" fill="#0000ff"/>
<circle cx="1545.7" cy="161.8" r="3.50" fill="#0000ff"/>
<circle cx="1573.5" cy="190.3" r="3.50" fill="#0000ff"/>
<circle cx="1552.3" cy="153.6" r="3.50" fill="#0000ff"/>
<circle cx="1560.5" cy="178.8" r="3.50" fill="#0000ff"/>
<circle cx="1585.5" cy="197.9" r="3.50" fill="#0000ff"/>
<circle cx="1593.6" cy="217.8" r="3.50" fill="#0000ff"/>
<circle cx="1567.8" cy="235.1" r="3.50" fill="#0000ff"/>
<circle cx="1609.8" cy="264.6" r="3.50" fill="#0000ff"/>
<circle cx="1602.1" cy="250.6" r="3.50" fill="#0000ff"/>
<circle cx="1606.7" cy="266.4" r="3.50" fill="#0000ff"/>
<circle cx="1606.4" cy="237.0" r="3.50" fill="#0000ff"/>
<circle cx="1603.8" cy="268.1" r="3.50" fill="#0000ff"/>
<circle cx="1573.2" cy="186.2" r="3.50" fill="#0000ff"/>
<circle cx="1573.6" cy="185.1" r="3.50" fill="#0000ff"/>
<circle cx="1567.8" cy="200.6" r="3.50" fill="#0000ff"/>
<circle cx="1566.4" cy="212.9" r="3.50" fill="#0000ff"/>
<circle cx="1562.0" cy="193.2" r="3.50" fill="#0000ff"/>
<circle cx="1588.0" cy="174.9" r="3.50" fill="#0000ff"/>
<circle cx="1623.2" cy="233.7" r="3.50" fill="#0000ff"/>
<circle cx="1599.7" cy="253.7" r="3.50" fill="#0000ff"/>
<circle cx="1609.1" cy="247.0" r="3.50" fill="#0000ff"/>
<circle cx="1617.9" cy="230.1" r="3.50" fill="#0000ff"/>
<circle cx="1564.5" cy="209.6" r="3.50" fill="#0000ff"/>
<circle cx="1575.0" cy="184.1" r="3.50" fill="#0000ff"/>
<circle cx="1587.7" cy="197.4" r="3.50" fill="#0000ff"/>
<circle cx="1568.8" cy="188.5" r="3.50" fill="#0000ff"/>
<circle cx="1579.5" cy="180.9" r="3.50" fill="#0000ff"/>
<circle cx="1608.9" cy="233.2" r="3.50" fill="#0000ff"/>
<circle cx="1606.3" cy="233.7" r="3.50" fill="#0000ff"/>
<circle cx="1596.2" cy="229.4" r="3.50" fill="#0000ff"/>
<circle cx="1582.3" cy="211.9" r="3.50" fill="#0000ff"/>
<circle cx="1559.1" cy="208.4" r="3.50" fill="#0000ff"/>
<circle cx="1573.1" cy="185.4" r="3.50" fill="#0000ff"/>
<circle cx="1543.5" cy="206.3" r="3.50" fill="#0000ff"/>
<circle cx="1554.5" cy="198.5" r="3.50" fill="#0000ff"/>
<polyline fill="none" stroke="#ff0000" stroke-width="2.08" stroke-linejoin="round" points="1326.4,207.0 1304.5,140.4 1368.2,252.3 1357.5,222.7 1339.7,222.7"/>
<polyline fill="none" stroke="#ff0000" stroke-width="2.08" stroke-linejoin="round" points="1297.3,188.2 1301.6,185.6 1306.2,183.1 1310.7,184.4"/>
<polyline fill="none" stroke="#ff0000" stroke-width="2.08" stroke-linejoin="round" points="1301.6,185.6 1298.2,201.5 1311.0,223.2 1321.2,236.0"/>
<polyline fill="none" stroke="#ff0000" stroke-width="2.08" stroke-linejoin="round" points="1306.2,183.1 1305.5,198.5 1314.4,220.7"/>
<polyline fill="none" stroke="#ff0000" stroke-width="2.08" stroke-linejoin="round" points="1328.1,220.7 1318.3,203.2 1313.6,249.7 1326.4,236.0"/>
<polyline fill="none" stroke="#ff0000" stroke-width="2.08" stroke-linejoin="round" points="1326.4,207.5 1339.7,212.5 1340.0,227.5"/>
<polyline fill="none" stroke="#ff0000" stroke-width="2.08" stroke-linejoin="round" points="1324.7,266.8 1307.6,264.7 1326.4,289.0"/>
<polyline fill="none" stroke="#ff0000" stroke-width="2.08" stroke-linejoin="round" points="1316.1,285.2 1337.5,383.6 1331.5,304.5 1334.6,314.8"/>
<polyline fill="none" stroke="#ff0000" stroke-width="2.08" stroke-linejoin="round" points="1370.8,278.4 1355.4,275.3"/>
<polyline fill="none" stroke="#ff0000" stroke-width="2.08" stroke-linejoin="round" points="1369.9,285.6 1352.0,278.7"/>
<polyline fill="none" stroke="#ff0000" stroke-width="2.08" stroke-linejoin="round" points="1352.0,271.9 1379.3,302.7"/>
<polyline fill="none" stroke="#ff0000" stroke-width="2.08" stroke-linejoin="round" points="1342.6,318.2 1344.3,331.3 1355.4,340.4 1361.4,343.0 1378.5,348.6 1364.0,320.7 1357.1,325.0"/>
<polyline fill="none" stroke="#ff0000" stroke-width="2.08" stroke-linejoin="round" points="1351.1,348.6 1353.7,365.2 1358.0,375.4 1353.7,423.2 1358.5,432.3 1358.8,424.1 1364.5,414.4 1363.6,390.4 1359.7,364.8 1365.7,357.5 1381.5,370.3 1368.2,378.0 1358.0,375.4 1389.2,396.4 1353.7,348.1"/>
<polyline fill="none" stroke="#ff0000" stroke-width="2.08" stroke-linejoin="round" points="1327.8,284.6 1343.7,269.8 1346.3,291.2 1348.1,307.5 1360.3,283.0 1337.2,251.5 1351.5,314.8 1345.6,336.6 1350.4,335.5 1353.2,334.9 1332.4,295.0 1354.0,287.8 1357.5,326.3 1352.6,335.0 1348.9,269.3 1346.1,243.1 1347.0,263.5 1335.4,206.9 1335.6,226.1 1347.4,256.1 1344.4,277.6 1335.2,260.0 1344.7,281.2 1341.8,282.1 1356.0,334.3 1348.7,335.9 1347.3,266.0 1345.4,307.2 1358.0,316.8 1333.1,268.9 1355.7,286.7 1354.2,278.5 1358.9,333.6 1357.0,334.1 1345.1,281.5 1341.3,240.1 1346.1,283.0 1339.7,246.5 1336.0,251.3 1333.0,246.0 1315.6,211.3 1337.8,206.3 1331.5,255.0 1348.3,299.6 1344.9,300.9 1349.7,287.4 1357.0,334.0 1355.8,334.3 1365.3,330.3 1344.6,275.7 1349.5,317.1 1337.7,241.2"/>
<polyline fill="none" stroke="#ff0000" stroke-width="2.08" stroke-linejoin="round" points="1339.2,290.4 1342.9,241.2 1347.7,235.4 1355.6,239.0 1324.9,238.2 1351.4,243.6 1351.2,261.8 1345.9,296.4 1357.4,293.8 1330.4,299.9 1346.3,296.3 1347.6,282.3 1343.4,236.7 1324.7,239.5 1339.3,226.1 1332.7,244.0 1343.7,274.5 1350.8,286.4 1341.1,292.4 1331.7,247.4 1338.0,245.5 1339.2,244.7 1324.5,230.9 1337.2,284.8 1344.8,257.5 1339.7,297.8 1340.1,259.2 1341.6,268.3"/>
<circle cx="1326.4" cy="207.0" r="3.50" fill="#ff0000"/>
<circle cx="1304.5" cy="140.4" r="3.50" fill="#ff0000"/>
<circle cx="1368.2" cy="252.3" r="3.50" fill="#ff0000"/>
<circle cx="1357.5" cy="222.7" r="3.50" fill="#ff0000"/>
<circle cx="1339.7" cy="222.7" r="3.50" fill="#ff0000"/>
<circle cx="1297.3" cy="188.2" r="3.50" fill="#ff0000"/>
<circle cx="1301.6" cy="185.6" r="3.50" fill="#ff0000"/>
<circle cx="1306.2" cy="183.1" r="3.50" fill="#ff0000"/>
<circle cx="1310.7" cy="184.4" r="3.50" fill="#ff0000"/>
<circle cx="1298.2" cy="201.5" r="3.50" fill="#ff0000"/>
<circle cx="1311.0" cy="223.2" r="3.50" fill="#ff0000"/>
<circle cx="1321.2" cy="236.0" r="3.50" fill="#ff0000"/>
<circle cx="1305.5" cy="198.5" r="3.50" fill="#ff0000"/>
<circle cx="1314.4" cy="220.7" r="3.50" fill="#ff0000"/>
<circle cx="1328.1" cy="220.7" r="3.50" fill="#ff0000"/>
<circle cx="1318.3" cy="203.2" r="3.50" fill="#ff0000"/>
<circle cx="1313.6" cy="249.7" r="3.50" fill="#ff0000"/>
<circle cx="1326.4" cy="236.0" r="3.50" fill="#ff0000"/>
<circle cx="1326.4" cy="207.5" r="3.50" fill="#ff0000"/>
<circle cx="1339.7" cy="212.5" r="3.50" fill="#ff0000"/>
<circle cx="1340.0" cy="227.5" r="3.50" fill="#ff0000"/>
<circle cx="1324.7" cy="266.8" r="3.50" fill="#ff0000"/>
<circle cx="1307.6" cy="264.7" r="3.50" fill="#ff0000"/>
<circle cx="1326.4" cy="289.0" r="3.50" fill="#ff0000"/>
<circle cx="1316.1" cy="285.2" r="3.50" fill="#ff0000"/>
<circle cx="1337.5" cy="383.6" r="3.50" fill="#ff0000"/>
<circle cx="1331.5" cy="304.5" r="3.50" fill="#ff0000"/>
<circle cx="1334.6" cy="314.8" r="3.50" fill="#ff0000"/>
<circle cx="1370.8" cy="278.4" r="3.50" fill="#ff0000"/>
<circle cx="1355.4" cy="275.3" r="3.50" fill="#ff0000"/>
<circle cx="1369.9" cy="285.6" r="3.50" fill="#ff0000"/>
<circle cx="1352.0" cy="278.7" r="3.50" fill="#ff0000"/>
<circle cx="1352.0" cy="271.9" r="3.50" fill="#ff0000"/>
<circle cx="1379.3" cy="302.7" r="3.50" fill="#ff0000"/>
<circle cx="1342.6" cy="318.2" r="3.50" fill="#ff0000"/>
<circle cx="1344.3" cy="331.3" r="3.50" fill="#ff0000"/>
<circle cx="1355.4" cy="340.4" r="3.50" fill="#ff0000"/>
<circle cx="1361.4" cy="343.0" r="3.50" fill="#ff0000"/>
<circle cx="1378.5" cy="348.6" r="3.50" fill="#ff0000"/>
<circle cx="1364.0" cy="320.7" r="3.50" fill="#ff0000"/>
<circle cx="1357.1" cy="325.0" r="3.50" fill="#ff0000"/>
<circle cx="1351.1" cy="348.6" r="3.50" fill="#ff0000"/>
<circle cx="1353.7" cy="365.2" r="3.50" fill="#ff0000"/>
<circle cx="1358.0" cy="375.4" r="3.50" fill="#ff0000"/>
<circle cx="1353.7" cy="423.2" r="3.50" fill="#ff0000"/>
<circle cx="1358.5" cy="432.3" r="3.50" fill="#ff0000"/>
<circle cx="1358.8" cy="424.1" r="3.50" fill="#ff0000"/>
<circle cx="1364.5" cy="414.4" r="3.50" fill="#ff0000"/>
<circle cx="1363.6" cy="390.4" r="3.50" fill="#ff0000"/>
<circle cx="1359.7" cy="364.8" r="3.50" fill="#ff0000"/>
<circle cx="1365.7" cy="357.5" r="3.50" fill="#ff0000"/>
<circle cx="1381.5" cy="370.3" r="3.50" fill="#ff0000"/>
<circle cx="1368.2" cy="378.0" r="3.50" fill="#ff0000"/>
<circle cx="1389.2" cy="396.4" r="3.50" fill="#ff0000"/>
<circle cx="1353.7" cy="348.1" r="3.50" fill="#ff0000"/>
<circle cx="1327.8" cy="284.6" r="3.50" fill="#ff0000"/>
<circle cx="1343.7" cy="269.8" r="3.50" fill="#ff0000"/>
<circle cx="1346.3" cy="291.2" r="3.50" fill="#ff0000"/>
<circle cx="1348.1" cy="307.5" r="3.50" fill="#ff0000"/>
<circle cx="1360.3" cy="283.0" r="3.50" fill="#ff0000"/>
<circle cx="1337.2" cy="251.5" r="3.50" fill="#ff0000"/>
<circle cx="1351.5" cy="314.8" r="3.50" fill="#ff0000"/>
<circle cx="1345.6" cy="336.6" r="3.50" fill="#ff0000"/>
<circle cx="1350.4" cy="335.5" r="3.50" fill="#ff0000"/>
<circle cx="1353.2" cy="334.9" r="3.50" fill="#ff0000"/>
<circle cx="1332.4" cy="295.0" r="3.50" fill="#ff0000"/>
<circle cx="1354.0" cy="287.8" r="3.50" fill="#ff0000"/>
<circle cx="1357.5" cy="326.3" r="3.50" fill="#ff0000"/>
<circle cx="1348.9" cy="269.3" r="3.50" fill="#ff0000"/>
<circle cx="1346.1" cy="243.1" r="3.50" fill="#ff0000"/>
<circle cx="1347.0" cy="263.5" r="3.50" fill="#ff0000"/>
<circle cx="1335.4" cy="206.9" r="3.50" fill="#ff0000"/>
<circle cx="1335.6" cy="226.1" r="3.50" fill="#ff0000"/>
<circle cx="1347.4" cy="256.1" r="3.50" fill="#ff0000"/>
<circle cx="1344.4" cy="277.6" r="3.50" fill="#ff0000"/>
<circle cx="1335.2" cy="260.0" r="3.50" fill="#ff0000"/>
<circle cx="1344.7" cy="281.2" r="3.50" fill="#ff0000"/>
<circle cx="1341.8" cy="282.1" r="3.50" fill="#ff0000"/>
<circle cx="1356.0" cy="334.3" r="3.50" fill="#ff0000"/>
<circle cx="1348.7" cy="335.9" r="3.50" fill="#ff0000"/>
<circle cx="1347.3" cy="266.0" r="3.50" fill="#ff0000"/>
<circle cx="1345.4" cy="307.2" r="3.50" fill="#ff0000"/>
<circle cx="1358.0" cy="316.8" r="3.50" fill="#ff0000"/>
<circle cx="1333.1" cy="268.9" r="3.50" fill="#ff0000"/>
<circle cx="1355.7" cy="286.7" r="3.50" fill="#ff0000"/>
<circle cx="1354.2" cy="278.5" r="3.50" fill="#ff0000"/>
<circle cx="1358.9" cy="333.6" r="3.50" fill="#ff0000"/>
<circle cx="1357.0" cy="334.1" r="3.50" fill="#ff0000"/>
<circle cx="1345.1" cy="281.5" r="3.50" fill="#ff0000"/>
<circle cx="1341.3" cy="240.1" r="3.50" fill="#ff0000"/>
<circle cx="1346.1" cy="283.0" r="3.50" fill="#ff0000"/>
<circle cx="1339.7" cy="246.5" r="3.50" fill="#ff0000"/>
<circle cx="1336.0" cy="251.3" r="3.50" fill="#ff0000"/>
<circle cx="1333.0" cy="246.0" r="3.50" fill="#ff0000"/>
<circle cx="1315.6" cy="211.3" r="3.50" fill="#ff0000"/>
<circle cx="1337.8" cy="206.3" r="3.50" fill="#ff0000"/>
<circle cx="1331.5" cy="255.0" r="3.50" fill="#ff0000"/>
<circle cx="1348.3" cy="299.6" r="3.50" fill="#ff0000"/>
<circle cx="1344.9" cy="300.9" r="3.50" fill="#ff0000"/>
<circle cx="1349.7" cy="287.4" r="3.50" fill="#ff0000"/>
<circle cx="1365.3" cy="330.3" r="3.50" fill="#ff0000"/>
<circle cx="1344.6" cy="275.7" r="3.50" fill="#ff0000"/>
<circle cx="1349.5" cy="317.1" r="3.50" fill="#ff0000"/>
<circle cx="1337.7" cy="241.2" r="3.50" fill="#ff0000"/>
<circle cx="1339.2" cy="290.4" r="3.50" fill="#ff0000"/>
<circle cx="1342.9" cy="241.2" r="3.50" fill="#ff0000"/>
<circle cx="1347.7" cy="235.4" r="3.50" fill="#ff0000"/>
<circle cx="1355.6" cy="239.0" r="3.50" fill="#ff0000"/>
<circle cx="1324.9" cy="238.2" r="3.50" fill="#ff0000"/>
<circle cx="1351.4" cy="243.6" r="3.50" fill="#ff0000"/>
<circle cx="1351.2" cy="261.8" r="3.50" fill="#ff0000"/>
<circle cx="1345.9" cy="296.4" r="3.50" fill="#ff0000"/>
<circle cx="1357.4" cy="293.8" r="3.50" fill="#ff0000"/>
<circle cx="1330.4" cy="299.9" r="3.50" fill="#ff0000"/>
<circle cx="1347.6" cy="282.3" r="3.50" fill="#ff0000"/>
<circle cx="1343.4" cy="236.7" r="3.50" fill="#ff0000"/>
<circle cx="1324.7" cy="239.5" r="3.50" fill="#ff0000"/>
<circle cx="1339.3" cy="226.1" r="3.50" fill="#ff0000"/>
<circle cx="1332.7" cy="244.0" r="3.50" fill="#ff0000"/>
<circle cx="1343.7" cy="274.5" r="3.50" fill="#ff0000"/>
<circle cx="1350.8" cy="286.4" r="3.50" fill="#ff0000"/>
<circle cx="1341.1" cy="292.4" r="3.50" fill="#ff0000"/>
<circle cx="1331.7" cy="247.4" r="3.50" fill="#ff0000"/>
<circle cx="1338.0" cy="245.5" r="3.50" fill="#ff0000"/>
<circle cx="1339.2" cy="244.7" r="3.50" fill="#ff0000"/>
<circle cx="1324.5" cy="230.9" r="3.50" fill="#ff0000"/>
<circle cx="1337.2" cy="284.8" r="3.50" fill="#ff0000"/>
<circle cx="1344.8" cy="257.5" r="3.50" fill="#ff0000"/>
<circle cx="1339.7" cy="297.8" r="3.50" fill="#ff0000"/>
<circle cx="1340.1" cy="259.2" r="3.50" fill="#ff0000"/>
<circle cx="1341.6" cy="268.3" r="3.50" fill="#ff0000"/>
</g>
<rect x="1229" y="84" width="454" height="454" fill="none" stroke="#000" stroke-width="2"/>
<line x1="1257.50" y1="538.00" x2="1257.50" y2="529.67" stroke="#000" stroke-width="1.00" stroke-linecap="butt"/>
<line x1="1257.50" y1="84.00" x2="1257.50" y2="92.33" stroke="#000" stroke-width="1.00" stroke-linecap="butt"/>
<text x="1256.88" y="559.60" font-size="17.17" text-anchor="middle" textLength="19.80" lengthAdjust="spacingAndGlyphs" fill="#000">60</text>
<line x1="1314.50" y1="538.00" x2="1314.50" y2="529.67" stroke="#000" stroke-width="1.00" stroke-linecap="butt"/>
<line x1="1314.50" y1="84.00" x2="1314.50" y2="92.33" stroke="#000" stroke-width="1.00" stroke-linecap="butt"/>
<text x="1313.62" y="559.60" font-size="17.17" text-anchor="middle" textLength="19.80" lengthAdjust="spacingAndGlyphs" fill="#000">70</text>
<line x1="1371.50" y1="538.00" x2="1371.50" y2="529.67" stroke="#000" stroke-width="1.00" stroke-linecap="butt"/>
<line x1="1371.50" y1="84.00" x2="1371.50" y2="92.33" stroke="#000" stroke-width="1.00" stroke-linecap="butt"/>
<text x="1370.38" y="559.60" font-size="17.17" text-anchor="middle" textLength="19.80" lengthAdjust="spacingAndGlyphs" fill="#000">80</text>
<line x1="1428.50" y1="538.00" x2="1428.50" y2="529.67" stroke="#000" stroke-width="1.00" stroke-linecap="butt"/>
<line x1="1428.50" y1="84.00" x2="1428.50" y2="92.33" stroke="#000" stroke-width="1.00" stroke-linecap="butt"/>
<text x="1427.12" y="559.60" font-size="17.17" text-anchor="middle" textLength="19.80" lengthAdjust="spacingAndGlyphs" fill="#000">90</text>
<line x1="1484.50" y1="538.00" x2="1484.50" y2="529.67" stroke="#000" stroke-width="1.00" stroke-linecap="butt"/>
<line x1="1484.50" y1="84.00" x2="1484.50" y2="92.33" stroke="#000" stroke-width="1.00" stroke-linecap="butt"/>
<text x="1483.88" y="559.60" font-size="17.17" text-anchor="middle" textLength="30.40" lengthAdjust="spacingAndGlyphs" fill="#000">100</text>
<line x1="1541.50" y1="538.00" x2="1541.50" y2="529.67" stroke="#000" stroke-width="1.00" stroke-linecap="butt"/>
<line x1="1541.50" y1="84.00" x2="1541.50" y2="92.33" stroke="#000" stroke-width="1.00" stroke-linecap="butt"/>
<text x="1540.62" y="559.60" font-size="17.17" text-anchor="middle" textLength="30.40" lengthAdjust="spacingAndGlyphs" fill="#000">110</text>
<line x1="1598.50" y1="538.00" x2="1598.50" y2="529.67" stroke="#000" stroke-width="1.00" stroke-linecap="butt"/>
<line x1="1598.50" y1="84.00" x2="1598.50" y2="92.33" stroke="#000" stroke-width="1.00" stroke-linecap="butt"/>
<text x="1597.38" y="559.60" font-size="17.17" text-anchor="middle" textLength="30.40" lengthAdjust="spacingAndGlyphs" fill="#000">120</text>
<line x1="1655.50" y1="538.00" x2="1655.50" y2="529.67" stroke="#000" stroke-width="1.00" stroke-linecap="butt"/>
<line x1="1655.50" y1="84.00" x2="1655.50" y2="92.33" stroke="#000" stroke-width="1.00" stroke-linecap="butt"/>
<text x="1654.12" y="559.60" font-size="17.17" text-anchor="middle" textLength="30.40" lengthAdjust="spacingAndGlyphs" fill="#000">130</text>
<line x1="1229.00" y1="538.50" x2="1237.33" y2="538.50" stroke="#000" stroke-width="1.00" stroke-linecap="butt"/>
<line x1="1683.00" y1="538.50" x2="1674.67" y2="538.50" stroke="#000" stroke-width="1.00" stroke-linecap="butt"/>
<text x="1219.94" y="543.10" font-size="17.17" text-anchor="end" textLength="33.76" lengthAdjust="spacingAndGlyphs" fill="#000">−40</text>
<line x1="1229.00" y1="481.50" x2="1237.33" y2="481.50" stroke="#000" stroke-width="1.00" stroke-linecap="butt"/>
<line x1="1683.00" y1="481.50" x2="1674.67" y2="481.50" stroke="#000" stroke-width="1.00" stroke-linecap="butt"/>
<text x="1219.94" y="486.34" font-size="17.17" text-anchor="end" textLength="33.76" lengthAdjust="spacingAndGlyphs" fill="#000">−30</text>
<line x1="1229.00" y1="425.50" x2="1237.33" y2="425.50" stroke="#000" stroke-width="1.00" stroke-linecap="butt"/>
<line x1="1683.00" y1="425.50" x2="1674.67" y2="425.50" stroke="#000" stroke-width="1.00" stroke-linecap="butt"/>
<text x="1219.94" y="429.58" font-size="17.17" text-anchor="end" textLength="33.76" lengthAdjust="spacingAndGlyphs" fill="#000">−20</text>
<line x1="1229.00" y1="368.50" x2="1237.33" y2="368.50" stroke="#000" stroke-width="1.00" stroke-linecap="butt"/>
<line x1="1683.00" y1="368.50" x2="1674.67" y2="368.50" stroke="#000" stroke-width="1.00" stroke-linecap="butt"/>
<text x="1219.94" y="372.81" font-size="17.17" text-anchor="end" textLength="33.76" lengthAdjust="spacingAndGlyphs" fill="#000">−10</text>
<line x1="1229.00" y1="311.50" x2="1237.33" y2="311.50" stroke="#000" stroke-width="1.00" stroke-linecap="butt"/>
<line x1="1683.00" y1="311.50" x2="1674.67" y2="311.50" stroke="#000" stroke-width="1.00" stroke-linecap="butt"/>
<text x="1219.94" y="316.05" font-size="17.17" text-anchor="end" textLength="9.19" lengthAdjust="spacingAndGlyphs" fill="#000">0</text>
<line x1="1229.00" y1="254.50" x2="1237.33" y2="254.50" stroke="#000" stroke-width="1.00" stroke-linecap="butt"/>
<line x1="1683.00" y1="254.50" x2="1674.67" y2="254.50" stroke="#000" stroke-width="1.00" stroke-linecap="butt"/>
<text x="1219.94" y="259.29" font-size="17.17" text-anchor="end" textLength="19.80" lengthAdjust="spacingAndGlyphs" fill="#000">10</text>
<line x1="1229.00" y1="198.50" x2="1237.33" y2="198.50" stroke="#000" stroke-width="1.00" stroke-linecap="butt"/>
<line x1="1683.00" y1="198.50" x2="1674.67" y2="198.50" stroke="#000" stroke-width="1.00" stroke-linecap="butt"/>
<text x="1219.94" y="202.53" font-size="17.17" text-anchor="end" textLength="19.80" lengthAdjust="spacingAndGlyphs" fill="#000">20</text>
<line x1="1229.00" y1="141.50" x2="1237.33" y2="141.50" stroke="#000" stroke-width="1.00" stroke-linecap="butt"/>
<line x1="1683.00" y1="141.50" x2="1674.67" y2="141.50" stroke="#000" stroke-width="1.00" stroke-linecap="butt"/>
<text x="1219.94" y="145.76" font-size="17.17" text-anchor="end" textLength="19.80" lengthAdjust="spacingAndGlyphs" fill="#000">30</text>
<line x1="1229.00" y1="84.50" x2="1237.33" y2="84.50" stroke="#000" stroke-width="1.00" stroke-linecap="butt"/>
<line x1="1683.00" y1="84.50" x2="1674.67" y2="84.50" stroke="#000" stroke-width="1.00" stroke-linecap="butt"/>
<text x="1219.94" y="89.00" font-size="17.17" text-anchor="end" textLength="19.80" lengthAdjust="spacingAndGlyphs" fill="#000">40</text>
<text x="1456.10" y="74.10" font-size="24.00" text-anchor="middle" textLength="361.92" lengthAdjust="spacingAndGlyphs" fill="#000">Hodogram(V3_V1 MVAB frame)</text>
<text x="1456.10" y="588.80" font-size="17.17" text-anchor="middle" textLength="73.79" lengthAdjust="spacingAndGlyphs" fill="#000">V3(km/s)</text>
<text x="1170.30" y="312.65" font-size="17.17" text-anchor="middle" textLength="73.79" lengthAdjust="spacingAndGlyphs" fill="#000" transform="rotate(-90 1170.30 312.65)">V1(km/s)</text>
<text x="1262.20" y="516.20" class="m" font-size="20.0" fill="#000">λ</text>
<text x="1272.50" y="520.40" class="mr" font-size="13.5" fill="#000">1</text>
<line x1="1280.10" y1="521.80" x2="1287.90" y2="502.90" stroke="#000" stroke-width="0.95" stroke-linecap="butt"/>
<text x="1290.10" y="516.20" class="m" font-size="20.0" fill="#000">λ</text>
<text x="1299.90" y="520.40" class="mr" font-size="13.5" fill="#000">3</text>
<text x="1312.10" y="516.70" class="mr" font-size="21.0" fill="#000" textLength="13.2" lengthAdjust="spacingAndGlyphs">≈</text>
<text x="1332.80" y="516.20" font-size="19.31" text-anchor="start" textLength="40.15" lengthAdjust="spacingAndGlyphs" fill="#000">59.3</text>
<rect x="1563" y="91" width="113" height="60" fill="#fff" stroke="#000" stroke-width="2"/>
<line x1="1573.20" y1="107.30" x2="1593.60" y2="107.30" stroke="#0000ff" stroke-width="2.08" stroke-linecap="butt"/>
<circle cx="1573.2" cy="107.3" r="3.50" fill="#0000ff"/>
<circle cx="1593.6" cy="107.3" r="3.50" fill="#0000ff"/>
<line x1="1573.20" y1="133.40" x2="1593.60" y2="133.40" stroke="#ff0000" stroke-width="2.08" stroke-linecap="butt"/>
<circle cx="1573.2" cy="133.4" r="3.50" fill="#ff0000"/>
<circle cx="1593.6" cy="133.4" r="3.50" fill="#ff0000"/>
<text x="1610.70" y="110.90" font-size="15.80" text-anchor="start" textLength="13.98" lengthAdjust="spacingAndGlyphs" fill="#000">B/</text>
<path d="M1626.1 109.5l1.5 -1.1l2.8 5.6l6.3 -14.7h27.6" fill="none" stroke="#000" stroke-width="0.9"/>
<text x="1638.30" y="111.3" class="m" font-size="14" fill="#000">μ</text>
<text x="1647.10" y="113.8" class="mr" font-size="10" fill="#000">0</text>
<text x="1653.10" y="111.3" class="m" font-size="14" fill="#000">ρ</text>
<text x="1610.70" y="137.70" font-size="15.80" text-anchor="start" textLength="8.93" lengthAdjust="spacingAndGlyphs" fill="#000">V</text>
<text x="1620.70" y="139.8" class="m" font-size="11.5" textLength="47" lengthAdjust="spacing" fill="#000">remaining</text>
<line x1="673.50" y1="1116.00" x2="673.50" y2="662.00" stroke="#000" stroke-width="1" stroke-dasharray="2.1 6.23" stroke-dashoffset="1.05"/>
<line x1="749.50" y1="1116.00" x2="749.50" y2="662.00" stroke="#000" stroke-width="1" stroke-dasharray="2.1 6.23" stroke-dashoffset="1.05"/>
<line x1="824.50" y1="1116.00" x2="824.50" y2="662.00" stroke="#000" stroke-width="1" stroke-dasharray="2.1 6.23" stroke-dashoffset="1.05"/>
<line x1="900.50" y1="1116.00" x2="900.50" y2="662.00" stroke="#000" stroke-width="1" stroke-dasharray="2.1 6.23" stroke-dashoffset="1.05"/>
<line x1="976.50" y1="1116.00" x2="976.50" y2="662.00" stroke="#000" stroke-width="1" stroke-dasharray="2.1 6.23" stroke-dashoffset="1.05"/>
<line x1="1051.50" y1="1116.00" x2="1051.50" y2="662.00" stroke="#000" stroke-width="1" stroke-dasharray="2.1 6.23" stroke-dashoffset="1.05"/>
<line x1="1127.50" y1="1116.00" x2="1127.50" y2="662.00" stroke="#000" stroke-width="1" stroke-dasharray="2.1 6.23" stroke-dashoffset="1.05"/>
<line x1="673.00" y1="1116.50" x2="1127.00" y2="1116.50" stroke="#000" stroke-width="1" stroke-dasharray="2.1 6.23" stroke-dashoffset="7.7"/>
<line x1="673.00" y1="1040.50" x2="1127.00" y2="1040.50" stroke="#000" stroke-width="1" stroke-dasharray="2.1 6.23" stroke-dashoffset="7.7"/>
<line x1="673.00" y1="965.50" x2="1127.00" y2="965.50" stroke="#000" stroke-width="1" stroke-dasharray="2.1 6.23" stroke-dashoffset="7.7"/>
<line x1="673.00" y1="889.50" x2="1127.00" y2="889.50" stroke="#000" stroke-width="1" stroke-dasharray="2.1 6.23" stroke-dashoffset="7.7"/>
<line x1="673.00" y1="813.50" x2="1127.00" y2="813.50" stroke="#000" stroke-width="1" stroke-dasharray="2.1 6.23" stroke-dashoffset="7.7"/>
<line x1="673.00" y1="738.50" x2="1127.00" y2="738.50" stroke="#000" stroke-width="1" stroke-dasharray="2.1 6.23" stroke-dashoffset="7.7"/>
<line x1="673.00" y1="662.50" x2="1127.00" y2="662.50" stroke="#000" stroke-width="1" stroke-dasharray="2.1 6.23" stroke-dashoffset="7.7"/>
<clipPath id="ch3"><rect x="673.10" y="662.10" width="454.00" height="454.00"/></clipPath>
<g clip-path="url(#ch3)">
<polyline fill="none" stroke="#0000ff" stroke-width="2.08" stroke-linejoin="round" points="871.5,725.9 874.2,708.9 877.0,697.8 873.6,686.4 883.9,698.4 889.2,752.2 889.2,771.9"/>
<polyline fill="none" stroke="#0000ff" stroke-width="2.08" stroke-linejoin="round" points="889.2,752.2 909.5,754.8 912.0,776.1 899.9,870.7"/>
<polyline fill="none" stroke="#0000ff" stroke-width="2.08" stroke-linejoin="round" points="835.2,747.5 854.0,759.3 871.5,725.9 855.0,803.5 835.2,747.5"/>
<polyline fill="none" stroke="#0000ff" stroke-width="2.08" stroke-linejoin="round" points="854.0,759.3 850.8,777.4 872.5,776.3 858.2,765.5 855.0,803.5 870.0,836.6"/>
<polyline fill="none" stroke="#0000ff" stroke-width="2.08" stroke-linejoin="round" points="848.2,813.1 846.1,846.6 872.1,828.7 870.0,836.6 865.7,845.5 848.2,813.1"/>
<polyline fill="none" stroke="#0000ff" stroke-width="2.08" stroke-linejoin="round" points="858.2,833.4 875.3,850.4 880.6,849.4"/>
<polyline fill="none" stroke="#0000ff" stroke-width="2.08" stroke-linejoin="round" points="929.3,781.5 896.7,799.2 904.6,819.5 918.0,828.4 905.2,868.6"/>
<polyline fill="none" stroke="#0000ff" stroke-width="2.08" stroke-linejoin="round" points="929.3,781.5 915.2,825.5 899.9,870.7 875.3,850.4"/>
<polyline fill="none" stroke="#0000ff" stroke-width="2.08" stroke-linejoin="round" points="850.8,871.4 871.0,883.5"/>
<polyline fill="none" stroke="#0000ff" stroke-width="2.08" stroke-linejoin="round" points="886.0,865.4 871.0,887.8"/>
<polyline fill="none" stroke="#0000ff" stroke-width="2.08" stroke-linejoin="round" points="906.3,880.8 888.1,892.1"/>
<polyline fill="none" stroke="#0000ff" stroke-width="2.08" stroke-linejoin="round" points="1014.1,824.2 956.5,883.5"/>
<polyline fill="none" stroke="#0000ff" stroke-width="2.08" stroke-linejoin="round" points="958.6,871.8 965.0,871.8 957.5,887.8"/>
<polyline fill="none" stroke="#0000ff" stroke-width="2.08" stroke-linejoin="round" points="1089.3,718.9 1064.3,830.1 1021.2,881.5 1017.4,883.0 1013.6,866.4"/>
<polyline fill="none" stroke="#0000ff" stroke-width="2.08" stroke-linejoin="round" points="1089.3,718.9 959.1,930.7 990.9,948.1 998.5,921.6"/>
<polyline fill="none" stroke="#0000ff" stroke-width="2.08" stroke-linejoin="round" points="947.8,900.4 1013.6,824.8 992.4,872.5 964.4,874.0 956.8,872.5 956.1,887.6 962.1,895.9"/>
<polyline fill="none" stroke="#0000ff" stroke-width="2.08" stroke-linejoin="round" points="1066.6,926.9 1017.4,947.4 984.8,958.7 978.8,964.0 964.4,976.9 953.1,997.3 949.3,1013.9 956.8,1016.2 936.4,998.8 907.7,972.3"/>
<polyline fill="none" stroke="#0000ff" stroke-width="2.08" stroke-linejoin="round" points="897.8,996.5 978.8,964.0"/>
<polyline fill="none" stroke="#0000ff" stroke-width="2.08" stroke-linejoin="round" points="847.0,881.4 789.3,940.7 820.7,925.1 801.0,944.8 797.4,970.4 736.6,967.2 782.2,988.8 876.8,975.3 886.5,979.6 887.5,991.3 907.8,1082.1 898.2,988.1 896.1,996.2"/>
<polyline fill="none" stroke="#0000ff" stroke-width="2.08" stroke-linejoin="round" points="917.8,946.5 935.6,952.5 904.6,962.5"/>
<polyline fill="none" stroke="#0000ff" stroke-width="2.08" stroke-linejoin="round" points="910.6,919.4 935.6,952.5"/>
<polyline fill="none" stroke="#0000ff" stroke-width="2.08" stroke-linejoin="round" points="870.4,953.3 876.8,975.3"/>
<polyline fill="none" stroke="#0000ff" stroke-width="2.08" stroke-linejoin="round" points="816.0,915.9 824.1,902.3"/>
<polyline fill="none" stroke="#0000ff" stroke-width="2.08" stroke-linejoin="round" points="851.6,871.1 847.0,881.4 837.3,910.8"/>
<polyline fill="none" stroke="#0000ff" stroke-width="2.08" stroke-linejoin="round" points="833.1,934.7 838.4,939.0 856.6,926.2"/>
<polyline fill="none" stroke="#0000ff" stroke-width="2.08" stroke-linejoin="round" points="948.4,900.6 904.6,971.0"/>
<polyline fill="none" stroke="#0000ff" stroke-width="2.08" stroke-linejoin="round" points="860.9,900.4 869.4,907.6 883.2,901.7 877.6,894.1 853.9,875.2 859.5,878.5 853.2,875.5 831.9,886.2 844.1,890.0 897.1,930.0 868.9,958.5 890.6,947.6 897.2,929.5 897.2,926.5 884.6,934.8 868.9,924.2 926.3,929.8 896.0,944.9 877.1,954.4 897.7,936.7 904.2,940.8 886.8,949.5 904.1,874.4 851.5,876.4 893.6,898.0 844.6,893.2 856.1,874.1 845.1,879.6 868.2,884.3 877.3,882.8 885.2,922.7 888.9,948.5 870.1,957.8 880.6,952.6 870.9,886.4 862.1,871.1"/>
<polyline fill="none" stroke="#0000ff" stroke-width="2.08" stroke-linejoin="round" points="907.8,1082.1 893.9,921.9"/>
<polyline fill="none" stroke="#0000ff" stroke-width="2.08" stroke-linejoin="round" points="854.0,759.3 879.6,862.2"/>
<polyline fill="none" stroke="#0000ff" stroke-width="2.08" stroke-linejoin="round" points="872.5,776.3 886.0,879.3"/>
<polyline fill="none" stroke="#0000ff" stroke-width="2.08" stroke-linejoin="round" points="870.0,836.6 888.1,883.5"/>
<polyline fill="none" stroke="#0000ff" stroke-width="2.08" stroke-linejoin="round" points="887.0,920.0 897.1,915.6 907.6,933.6 868.6,923.6 867.7,937.1 877.0,913.1 894.8,914.1 906.4,911.5 912.7,912.7 907.2,935.4 866.2,930.4 891.7,915.4 909.2,927.1 882.1,917.6 858.7,905.2 857.1,929.4 886.8,915.5 911.6,917.2"/>
<circle cx="871.5" cy="725.9" r="3.50" fill="#0000ff"/>
<circle cx="874.2" cy="708.9" r="3.50" fill="#0000ff"/>
<circle cx="877.0" cy="697.8" r="3.50" fill="#0000ff"/>
<circle cx="873.6" cy="686.4" r="3.50" fill="#0000ff"/>
<circle cx="883.9" cy="698.4" r="3.50" fill="#0000ff"/>
<circle cx="889.2" cy="752.2" r="3.50" fill="#0000ff"/>
<circle cx="889.2" cy="771.9" r="3.50" fill="#0000ff"/>
<circle cx="909.5" cy="754.8" r="3.50" fill="#0000ff"/>
<circle cx="912.0" cy="776.1" r="3.50" fill="#0000ff"/>
<circle cx="899.9" cy="870.7" r="3.50" fill="#0000ff"/>
<circle cx="835.2" cy="747.5" r="3.50" fill="#0000ff"/>
<circle cx="854.0" cy="759.3" r="3.50" fill="#0000ff"/>
<circle cx="855.0" cy="803.5" r="3.50" fill="#0000ff"/>
<circle cx="850.8" cy="777.4" r="3.50" fill="#0000ff"/>
<circle cx="872.5" cy="776.3" r="3.50" fill="#0000ff"/>
<circle cx="858.2" cy="765.5" r="3.50" fill="#0000ff"/>
<circle cx="870.0" cy="836.6" r="3.50" fill="#0000ff"/>
<circle cx="848.2" cy="813.1" r="3.50" fill="#0000ff"/>
<circle cx="846.1" cy="846.6" r="3.50" fill="#0000ff"/>
<circle cx="872.1" cy="828.7" r="3.50" fill="#0000ff"/>
<circle cx="865.7" cy="845.5" r="3.50" fill="#0000ff"/>
<circle cx="858.2" cy="833.4" r="3.50" fill="#0000ff"/>
<circle cx="875.3" cy="850.4" r="3.50" fill="#0000ff"/>
<circle cx="880.6" cy="849.4" r="3.50" fill="#0000ff"/>
<circle cx="929.3" cy="781.5" r="3.50" fill="#0000ff"/>
<circle cx="896.7" cy="799.2" r="3.50" fill="#0000ff"/>
<circle cx="904.6" cy="819.5" r="3.50" fill="#0000ff"/>
<circle cx="918.0" cy="828.4" r="3.50" fill="#0000ff"/>
<circle cx="905.2" cy="868.6" r="3.50" fill="#0000ff"/>
<circle cx="915.2" cy="825.5" r="3.50" fill="#0000ff"/>
<circle cx="850.8" cy="871.4" r="3.50" fill="#0000ff"/>
<circle cx="871.0" cy="883.5" r="3.50" fill="#0000ff"/>
<circle cx="886.0" cy="865.4" r="3.50" fill="#0000ff"/>
<circle cx="871.0" cy="887.8" r="3.50" fill="#0000ff"/>
<circle cx="906.3" cy="880.8" r="3.50" fill="#0000ff"/>
<circle cx="888.1" cy="892.1" r="3.50" fill="#0000ff"/>
<circle cx="1014.1" cy="824.2" r="3.50" fill="#0000ff"/>
<circle cx="956.5" cy="883.5" r="3.50" fill="#0000ff"/>
<circle cx="958.6" cy="871.8" r="3.50" fill="#0000ff"/>
<circle cx="965.0" cy="871.8" r="3.50" fill="#0000ff"/>
<circle cx="957.5" cy="887.8" r="3.50" fill="#0000ff"/>
<circle cx="1089.3" cy="718.9" r="3.50" fill="#0000ff"/>
<circle cx="1064.3" cy="830.1" r="3.50" fill="#0000ff"/>
<circle cx="1021.2" cy="881.5" r="3.50" fill="#0000ff"/>
<circle cx="1017.4" cy="883.0" r="3.50" fill="#0000ff"/>
<circle cx="1013.6" cy="866.4" r="3.50" fill="#0000ff"/>
<circle cx="959.1" cy="930.7" r="3.50" fill="#0000ff"/>
<circle cx="990.9" cy="948.1" r="3.50" fill="#0000ff"/>
<circle cx="998.5" cy="921.6" r="3.50" fill="#0000ff"/>
<circle cx="947.8" cy="900.4" r="3.50" fill="#0000ff"/>
<circle cx="1013.6" cy="824.8" r="3.50" fill="#0000ff"/>
<circle cx="992.4" cy="872.5" r="3.50" fill="#0000ff"/>
<circle cx="964.4" cy="874.0" r="3.50" fill="#0000ff"/>
<circle cx="956.8" cy="872.5" r="3.50" fill="#0000ff"/>
<circle cx="956.1" cy="887.6" r="3.50" fill="#0000ff"/>
<circle cx="962.1" cy="895.9" r="3.50" fill="#0000ff"/>
<circle cx="1066.6" cy="926.9" r="3.50" fill="#0000ff"/>
<circle cx="1017.4" cy="947.4" r="3.50" fill="#0000ff"/>
<circle cx="984.8" cy="958.7" r="3.50" fill="#0000ff"/>
<circle cx="978.8" cy="964.0" r="3.50" fill="#0000ff"/>
<circle cx="964.4" cy="976.9" r="3.50" fill="#0000ff"/>
<circle cx="953.1" cy="997.3" r="3.50" fill="#0000ff"/>
<circle cx="949.3" cy="1013.9" r="3.50" fill="#0000ff"/>
<circle cx="956.8" cy="1016.2" r="3.50" fill="#0000ff"/>
<circle cx="936.4" cy="998.8" r="3.50" fill="#0000ff"/>
<circle cx="907.7" cy="972.3" r="3.50" fill="#0000ff"/>
<circle cx="897.8" cy="996.5" r="3.50" fill="#0000ff"/>
<circle cx="847.0" cy="881.4" r="3.50" fill="#0000ff"/>
<circle cx="789.3" cy="940.7" r="3.50" fill="#0000ff"/>
<circle cx="820.7" cy="925.1" r="3.50" fill="#0000ff"/>
<circle cx="801.0" cy="944.8" r="3.50" fill="#0000ff"/>
<circle cx="797.4" cy="970.4" r="3.50" fill="#0000ff"/>
<circle cx="736.6" cy="967.2" r="3.50" fill="#0000ff"/>
<circle cx="782.2" cy="988.8" r="3.50" fill="#0000ff"/>
<circle cx="876.8" cy="975.3" r="3.50" fill="#0000ff"/>
<circle cx="886.5" cy="979.6" r="3.50" fill="#0000ff"/>
<circle cx="887.5" cy="991.3" r="3.50" fill="#0000ff"/>
<circle cx="907.8" cy="1082.1" r="3.50" fill="#0000ff"/>
<circle cx="898.2" cy="988.1" r="3.50" fill="#0000ff"/>
<circle cx="896.1" cy="996.2" r="3.50" fill="#0000ff"/>
<circle cx="917.8" cy="946.5" r="3.50" fill="#0000ff"/>
<circle cx="935.6" cy="952.5" r="3.50" fill="#0000ff"/>
<circle cx="904.6" cy="962.5" r="3.50" fill="#0000ff"/>
<circle cx="910.6" cy="919.4" r="3.50" fill="#0000ff"/>
<circle cx="870.4" cy="953.3" r="3.50" fill="#0000ff"/>
<circle cx="816.0" cy="915.9" r="3.50" fill="#0000ff"/>
<circle cx="824.1" cy="902.3" r="3.50" fill="#0000ff"/>
<circle cx="851.6" cy="871.1" r="3.50" fill="#0000ff"/>
<circle cx="837.3" cy="910.8" r="3.50" fill="#0000ff"/>
<circle cx="833.1" cy="934.7" r="3.50" fill="#0000ff"/>
<circle cx="838.4" cy="939.0" r="3.50" fill="#0000ff"/>
<circle cx="856.6" cy="926.2" r="3.50" fill="#0000ff"/>
<circle cx="948.4" cy="900.6" r="3.50" fill="#0000ff"/>
<circle cx="904.6" cy="971.0" r="3.50" fill="#0000ff"/>
<circle cx="860.9" cy="900.4" r="3.50" fill="#0000ff"/>
<circle cx="869.4" cy="907.6" r="3.50" fill="#0000ff"/>
<circle cx="883.2" cy="901.7" r="3.50" fill="#0000ff"/>
<circle cx="877.6" cy="894.1" r="3.50" fill="#0000ff"/>
<circle cx="853.9" cy="875.2" r="3.50" fill="#0000ff"/>
<circle cx="859.5" cy="878.5" r="3.50" fill="#0000ff"/>
<circle cx="853.2" cy="875.5" r="3.50" fill="#0000ff"/>
<circle cx="831.9" cy="886.2" r="3.50" fill="#0000ff"/>
<circle cx="844.1" cy="890.0" r="3.50" fill="#0000ff"/>
<circle cx="897.1" cy="930.0" r="3.50" fill="#0000ff"/>
<circle cx="868.9" cy="958.5" r="3.50" fill="#0000ff"/>
<circle cx="890.6" cy="947.6" r="3.50" fill="#0000ff"/>
<circle cx="897.2" cy="929.5" r="3.50" fill="#0000ff"/>
<circle cx="897.2" cy="926.5" r="3.50" fill="#0000ff"/>
<circle cx="884.6" cy="934.8" r="3.50" fill="#0000ff"/>
<circle cx="868.9" cy="924.2" r="3.50" fill="#0000ff"/>
<circle cx="926.3" cy="929.8" r="3.50" fill="#0000ff"/>
<circle cx="896.0" cy="944.9" r="3.50" fill="#0000ff"/>
<circle cx="877.1" cy="954.4" r="3.50" fill="#0000ff"/>
<circle cx="897.7" cy="936.7" r="3.50" fill="#0000ff"/>
<circle cx="904.2" cy="940.8" r="3.50" fill="#0000ff"/>
<circle cx="886.8" cy="949.5" r="3.50" fill="#0000ff"/>
<circle cx="904.1" cy="874.4" r="3.50" fill="#0000ff"/>
<circle cx="851.5" cy="876.4" r="3.50" fill="#0000ff"/>
<circle cx="893.6" cy="898.0" r="3.50" fill="#0000ff"/>
<circle cx="844.6" cy="893.2" r="3.50" fill="#0000ff"/>
<circle cx="856.1" cy="874.1" r="3.50" fill="#0000ff"/>
<circle cx="845.1" cy="879.6" r="3.50" fill="#0000ff"/>
<circle cx="868.2" cy="884.3" r="3.50" fill="#0000ff"/>
<circle cx="877.3" cy="882.8" r="3.50" fill="#0000ff"/>
<circle cx="885.2" cy="922.7" r="3.50" fill="#0000ff"/>
<circle cx="888.9" cy="948.5" r="3.50" fill="#0000ff"/>
<circle cx="870.1" cy="957.8" r="3.50" fill="#0000ff"/>
<circle cx="880.6" cy="952.6" r="3.50" fill="#0000ff"/>
<circle cx="870.9" cy="886.4" r="3.50" fill="#0000ff"/>
<circle cx="862.1" cy="871.1" r="3.50" fill="#0000ff"/>
<circle cx="893.9" cy="921.9" r="3.50" fill="#0000ff"/>
<circle cx="879.6" cy="862.2" r="3.50" fill="#0000ff"/>
<circle cx="886.0" cy="879.3" r="3.50" fill="#0000ff"/>
<circle cx="888.1" cy="883.5" r="3.50" fill="#0000ff"/>
<circle cx="887.0" cy="920.0" r="3.50" fill="#0000ff"/>
<circle cx="897.1" cy="915.6" r="3.50" fill="#0000ff"/>
<circle cx="907.6" cy="933.6" r="3.50" fill="#0000ff"/>
<circle cx="867.7" cy="937.1" r="3.50" fill="#0000ff"/>
<circle cx="877.0" cy="913.1" r="3.50" fill="#0000ff"/>
<circle cx="894.8" cy="914.1" r="3.50" fill="#0000ff"/>
<circle cx="906.4" cy="911.5" r="3.50" fill="#0000ff"/>
<circle cx="912.7" cy="912.7" r="3.50" fill="#0000ff"/>
<circle cx="907.2" cy="935.4" r="3.50" fill="#0000ff"/>
<circle cx="866.2" cy="930.4" r="3.50" fill="#0000ff"/>
<circle cx="891.7" cy="915.4" r="3.50" fill="#0000ff"/>
<circle cx="909.2" cy="927.1" r="3.50" fill="#0000ff"/>
<circle cx="882.1" cy="917.6" r="3.50" fill="#0000ff"/>
<circle cx="858.7" cy="905.2" r="3.50" fill="#0000ff"/>
<circle cx="857.1" cy="929.4" r="3.50" fill="#0000ff"/>
<circle cx="886.8" cy="915.5" r="3.50" fill="#0000ff"/>
<circle cx="911.6" cy="917.2" r="3.50" fill="#0000ff"/>
</g>
<rect x="673" y="662" width="454" height="454" fill="none" stroke="#000" stroke-width="2"/>
<line x1="673.50" y1="1116.00" x2="673.50" y2="1107.67" stroke="#000" stroke-width="1.00" stroke-linecap="butt"/>
<line x1="673.50" y1="662.00" x2="673.50" y2="670.33" stroke="#000" stroke-width="1.00" stroke-linecap="butt"/>
<text x="672.50" y="1137.50" font-size="17.17" text-anchor="middle" textLength="33.76" lengthAdjust="spacingAndGlyphs" fill="#000">−40</text>
<line x1="749.50" y1="1116.00" x2="749.50" y2="1107.67" stroke="#000" stroke-width="1.00" stroke-linecap="butt"/>
<line x1="749.50" y1="662.00" x2="749.50" y2="670.33" stroke="#000" stroke-width="1.00" stroke-linecap="butt"/>
<text x="748.17" y="1137.50" font-size="17.17" text-anchor="middle" textLength="33.76" lengthAdjust="spacingAndGlyphs" fill="#000">−30</text>
<line x1="824.50" y1="1116.00" x2="824.50" y2="1107.67" stroke="#000" stroke-width="1.00" stroke-linecap="butt"/>
<line x1="824.50" y1="662.00" x2="824.50" y2="670.33" stroke="#000" stroke-width="1.00" stroke-linecap="butt"/>
<text x="823.83" y="1137.50" font-size="17.17" text-anchor="middle" textLength="33.76" lengthAdjust="spacingAndGlyphs" fill="#000">−20</text>
<line x1="900.50" y1="1116.00" x2="900.50" y2="1107.67" stroke="#000" stroke-width="1.00" stroke-linecap="butt"/>
<line x1="900.50" y1="662.00" x2="900.50" y2="670.33" stroke="#000" stroke-width="1.00" stroke-linecap="butt"/>
<text x="899.50" y="1137.50" font-size="17.17" text-anchor="middle" textLength="33.76" lengthAdjust="spacingAndGlyphs" fill="#000">−10</text>
<line x1="976.50" y1="1116.00" x2="976.50" y2="1107.67" stroke="#000" stroke-width="1.00" stroke-linecap="butt"/>
<line x1="976.50" y1="662.00" x2="976.50" y2="670.33" stroke="#000" stroke-width="1.00" stroke-linecap="butt"/>
<text x="975.17" y="1137.50" font-size="17.17" text-anchor="middle" textLength="9.19" lengthAdjust="spacingAndGlyphs" fill="#000">0</text>
<line x1="1051.50" y1="1116.00" x2="1051.50" y2="1107.67" stroke="#000" stroke-width="1.00" stroke-linecap="butt"/>
<line x1="1051.50" y1="662.00" x2="1051.50" y2="670.33" stroke="#000" stroke-width="1.00" stroke-linecap="butt"/>
<text x="1050.83" y="1137.50" font-size="17.17" text-anchor="middle" textLength="19.80" lengthAdjust="spacingAndGlyphs" fill="#000">10</text>
<line x1="1127.50" y1="1116.00" x2="1127.50" y2="1107.67" stroke="#000" stroke-width="1.00" stroke-linecap="butt"/>
<line x1="1127.50" y1="662.00" x2="1127.50" y2="670.33" stroke="#000" stroke-width="1.00" stroke-linecap="butt"/>
<text x="1126.50" y="1137.50" font-size="17.17" text-anchor="middle" textLength="19.80" lengthAdjust="spacingAndGlyphs" fill="#000">20</text>
<line x1="673.00" y1="1116.50" x2="681.33" y2="1116.50" stroke="#000" stroke-width="1.00" stroke-linecap="butt"/>
<line x1="1127.00" y1="1116.50" x2="1118.67" y2="1116.50" stroke="#000" stroke-width="1.00" stroke-linecap="butt"/>
<text x="663.94" y="1121.00" font-size="17.17" text-anchor="end" textLength="33.76" lengthAdjust="spacingAndGlyphs" fill="#000">−20</text>
<line x1="673.00" y1="1040.50" x2="681.33" y2="1040.50" stroke="#000" stroke-width="1.00" stroke-linecap="butt"/>
<line x1="1127.00" y1="1040.50" x2="1118.67" y2="1040.50" stroke="#000" stroke-width="1.00" stroke-linecap="butt"/>
<text x="663.94" y="1045.33" font-size="17.17" text-anchor="end" textLength="33.76" lengthAdjust="spacingAndGlyphs" fill="#000">−10</text>
<line x1="673.00" y1="965.50" x2="681.33" y2="965.50" stroke="#000" stroke-width="1.00" stroke-linecap="butt"/>
<line x1="1127.00" y1="965.50" x2="1118.67" y2="965.50" stroke="#000" stroke-width="1.00" stroke-linecap="butt"/>
<text x="663.94" y="969.67" font-size="17.17" text-anchor="end" textLength="9.19" lengthAdjust="spacingAndGlyphs" fill="#000">0</text>
<line x1="673.00" y1="889.50" x2="681.33" y2="889.50" stroke="#000" stroke-width="1.00" stroke-linecap="butt"/>
<line x1="1127.00" y1="889.50" x2="1118.67" y2="889.50" stroke="#000" stroke-width="1.00" stroke-linecap="butt"/>
<text x="663.94" y="894.00" font-size="17.17" text-anchor="end" textLength="19.80" lengthAdjust="spacingAndGlyphs" fill="#000">10</text>
<line x1="673.00" y1="813.50" x2="681.33" y2="813.50" stroke="#000" stroke-width="1.00" stroke-linecap="butt"/>
<line x1="1127.00" y1="813.50" x2="1118.67" y2="813.50" stroke="#000" stroke-width="1.00" stroke-linecap="butt"/>
<text x="663.94" y="818.33" font-size="17.17" text-anchor="end" textLength="19.80" lengthAdjust="spacingAndGlyphs" fill="#000">20</text>
<line x1="673.00" y1="738.50" x2="681.33" y2="738.50" stroke="#000" stroke-width="1.00" stroke-linecap="butt"/>
<line x1="1127.00" y1="738.50" x2="1118.67" y2="738.50" stroke="#000" stroke-width="1.00" stroke-linecap="butt"/>
<text x="663.94" y="742.67" font-size="17.17" text-anchor="end" textLength="19.80" lengthAdjust="spacingAndGlyphs" fill="#000">30</text>
<line x1="673.00" y1="662.50" x2="681.33" y2="662.50" stroke="#000" stroke-width="1.00" stroke-linecap="butt"/>
<line x1="1127.00" y1="662.50" x2="1118.67" y2="662.50" stroke="#000" stroke-width="1.00" stroke-linecap="butt"/>
<text x="663.94" y="667.00" font-size="17.17" text-anchor="end" textLength="19.80" lengthAdjust="spacingAndGlyphs" fill="#000">40</text>
<text x="675.71" y="650.70" font-size="24.00" text-anchor="start" textLength="282.20" lengthAdjust="spacingAndGlyphs" fill="#000">Hodogram (V2_V1 MVAV</text>
<text x="960.40" y="655.70" class="m" font-size="16.5" textLength="77.0" lengthAdjust="spacing" fill="#000">remaining</text>
<text x="1046.30" y="650.70" font-size="24.00" text-anchor="start" textLength="76.20" lengthAdjust="spacingAndGlyphs" fill="#000">frame)</text>
<text x="900.10" y="1166.70" font-size="17.17" text-anchor="middle" textLength="73.79" lengthAdjust="spacingAndGlyphs" fill="#000">V2(km/s)</text>
<text x="614.30" y="890.60" font-size="17.17" text-anchor="middle" textLength="73.79" lengthAdjust="spacingAndGlyphs" fill="#000" transform="rotate(-90 614.30 890.60)">V1(km/s)</text>
<text x="685.70" y="1091.80" class="m" font-size="20.0" fill="#000">λ</text>
<text x="696.00" y="1096.00" class="mr" font-size="13.5" fill="#000">1</text>
<line x1="703.60" y1="1097.40" x2="711.40" y2="1078.50" stroke="#000" stroke-width="0.95" stroke-linecap="butt"/>
<text x="713.60" y="1091.80" class="m" font-size="20.0" fill="#000">λ</text>
<text x="723.40" y="1096.00" class="mr" font-size="13.5" fill="#000">2</text>
<text x="735.60" y="1092.30" class="mr" font-size="21.0" fill="#000" textLength="13.2" lengthAdjust="spacingAndGlyphs">≈</text>
<text x="757.20" y="1091.80" font-size="19.31" text-anchor="start" textLength="40.15" lengthAdjust="spacingAndGlyphs" fill="#000">1.76</text>
<line x1="1259.50" y1="1116.00" x2="1259.50" y2="662.00" stroke="#000" stroke-width="1" stroke-dasharray="2.1 6.23" stroke-dashoffset="1.05"/>
<line x1="1335.50" y1="1116.00" x2="1335.50" y2="662.00" stroke="#000" stroke-width="1" stroke-dasharray="2.1 6.23" stroke-dashoffset="1.05"/>
<line x1="1411.50" y1="1116.00" x2="1411.50" y2="662.00" stroke="#000" stroke-width="1" stroke-dasharray="2.1 6.23" stroke-dashoffset="1.05"/>
<line x1="1486.50" y1="1116.00" x2="1486.50" y2="662.00" stroke="#000" stroke-width="1" stroke-dasharray="2.1 6.23" stroke-dashoffset="1.05"/>
<line x1="1562.50" y1="1116.00" x2="1562.50" y2="662.00" stroke="#000" stroke-width="1" stroke-dasharray="2.1 6.23" stroke-dashoffset="1.05"/>
<line x1="1638.50" y1="1116.00" x2="1638.50" y2="662.00" stroke="#000" stroke-width="1" stroke-dasharray="2.1 6.23" stroke-dashoffset="1.05"/>
<line x1="1229.00" y1="1116.50" x2="1683.00" y2="1116.50" stroke="#000" stroke-width="1" stroke-dasharray="2.1 6.23" stroke-dashoffset="7.7"/>
<line x1="1229.00" y1="1040.50" x2="1683.00" y2="1040.50" stroke="#000" stroke-width="1" stroke-dasharray="2.1 6.23" stroke-dashoffset="7.7"/>
<line x1="1229.00" y1="965.50" x2="1683.00" y2="965.50" stroke="#000" stroke-width="1" stroke-dasharray="2.1 6.23" stroke-dashoffset="7.7"/>
<line x1="1229.00" y1="889.50" x2="1683.00" y2="889.50" stroke="#000" stroke-width="1" stroke-dasharray="2.1 6.23" stroke-dashoffset="7.7"/>
<line x1="1229.00" y1="813.50" x2="1683.00" y2="813.50" stroke="#000" stroke-width="1" stroke-dasharray="2.1 6.23" stroke-dashoffset="7.7"/>
<line x1="1229.00" y1="738.50" x2="1683.00" y2="738.50" stroke="#000" stroke-width="1" stroke-dasharray="2.1 6.23" stroke-dashoffset="7.7"/>
<line x1="1229.00" y1="662.50" x2="1683.00" y2="662.50" stroke="#000" stroke-width="1" stroke-dasharray="2.1 6.23" stroke-dashoffset="7.7"/>
<clipPath id="ch4"><rect x="1229.10" y="662.10" width="454.00" height="454.00"/></clipPath>
<g clip-path="url(#ch4)">
<polyline fill="none" stroke="#0000ff" stroke-width="2.08" stroke-linejoin="round" points="1460.3,747.7 1467.1,708.4 1477.0,697.3 1480.4,686.2 1483.9,698.5 1457.7,765.7"/>
<polyline fill="none" stroke="#0000ff" stroke-width="2.08" stroke-linejoin="round" points="1463.7,843.4 1478.6,829.2 1494.5,719.5 1490.5,872.4 1472.2,879.9"/>
<polyline fill="none" stroke="#0000ff" stroke-width="2.08" stroke-linejoin="round" points="1428.7,725.5 1448.7,752.0 1431.2,754.6 1448.3,776.4 1449.2,828.9"/>
<polyline fill="none" stroke="#0000ff" stroke-width="2.08" stroke-linejoin="round" points="1428.7,725.5 1458.6,796.4 1462.5,803.2 1462.0,777.6"/>
<polyline fill="none" stroke="#0000ff" stroke-width="2.08" stroke-linejoin="round" points="1455.2,758.8 1462.5,765.1 1457.7,771.6 1457.2,777.3 1464.9,776.8"/>
<polyline fill="none" stroke="#0000ff" stroke-width="2.08" stroke-linejoin="round" points="1448.3,857.9 1438.6,825.1 1429.5,781.4 1449.2,799.3 1467.6,819.5 1448.3,828.0 1438.6,825.1"/>
<polyline fill="none" stroke="#0000ff" stroke-width="2.08" stroke-linejoin="round" points="1414.7,824.3 1448.3,879.9"/>
<polyline fill="none" stroke="#0000ff" stroke-width="2.08" stroke-linejoin="round" points="1416.7,850.2 1424.8,872.4 1431.2,879.9"/>
<polyline fill="none" stroke="#0000ff" stroke-width="2.08" stroke-linejoin="round" points="1475.3,849.4 1471.7,865.3 1462.0,879.9"/>
<polyline fill="none" stroke="#0000ff" stroke-width="2.08" stroke-linejoin="round" points="1431.2,865.3 1450.6,869.0"/>
<polyline fill="none" stroke="#0000ff" stroke-width="2.08" stroke-linejoin="round" points="1455.2,813.1 1465.4,845.9"/>
<polyline fill="none" stroke="#0000ff" stroke-width="2.08" stroke-linejoin="round" points="1490.5,872.3 1468.8,882.2"/>
<polyline fill="none" stroke="#0000ff" stroke-width="2.08" stroke-linejoin="round" points="1441.5,943.7 1411.6,917.2 1460.6,1082.8 1450.9,991.5 1451.7,991.5 1436.4,977.9 1441.5,955.7"/>
<polyline fill="none" stroke="#0000ff" stroke-width="2.08" stroke-linejoin="round" points="1436.4,928.3 1417.9,952.2 1448.3,962.5"/>
<polyline fill="none" stroke="#0000ff" stroke-width="2.08" stroke-linejoin="round" points="1472.2,924.9 1493.6,940.3 1477.4,902.4 1473.6,889.4"/>
<polyline fill="none" stroke="#0000ff" stroke-width="2.08" stroke-linejoin="round" points="1468.3,974.1 1466.6,988.5 1462.5,996.7 1456.9,948.8"/>
<polyline fill="none" stroke="#0000ff" stroke-width="2.08" stroke-linejoin="round" points="1477.4,958.7 1480.8,967.6 1477.7,976.7 1477.4,996.7"/>
<polyline fill="none" stroke="#0000ff" stroke-width="2.08" stroke-linejoin="round" points="1477.7,976.7 1487.6,998.0 1478.2,1014.6"/>
<polyline fill="none" stroke="#0000ff" stroke-width="2.08" stroke-linejoin="round" points="1466.3,1014.3 1471.4,1016.3 1478.2,1014.6 1484.5,1013.4"/>
<polyline fill="none" stroke="#0000ff" stroke-width="2.08" stroke-linejoin="round" points="1444.0,899.3 1453.1,852.8 1436.9,853.8 1460.3,863.7 1448.4,914.9 1446.8,950.6 1457.0,947.7 1439.5,966.8 1453.8,965.9 1459.5,926.0 1464.7,965.2 1442.9,966.6 1461.0,941.5 1452.6,963.2 1462.3,956.9 1452.7,878.4 1442.5,859.0 1443.0,932.0 1454.7,959.9 1466.2,953.0 1439.5,856.0 1434.4,870.7 1454.1,897.6 1433.8,853.9 1452.8,852.8 1447.0,877.7 1447.1,904.5 1444.3,924.5 1454.4,915.0 1455.6,864.0 1446.3,853.2 1448.9,857.3 1454.7,909.7 1453.7,895.2 1452.8,898.4 1452.3,868.0 1461.3,943.4 1439.1,966.8"/>
<polyline fill="none" stroke="#0000ff" stroke-width="2.08" stroke-linejoin="round" points="1464.0,954.6 1427.3,936.1 1435.3,938.3 1443.7,940.0 1447.5,956.6 1459.6,955.1 1474.6,924.4 1451.4,918.3 1447.3,917.6 1464.4,910.0 1448.2,869.8 1443.6,870.4 1437.3,880.3 1473.0,877.8 1438.5,891.1 1466.7,867.6 1451.5,874.0 1420.9,873.1 1440.6,879.9 1415.4,873.8 1454.9,882.4 1460.2,955.1 1475.2,953.3 1425.1,947.2 1444.7,931.4 1443.4,884.4"/>
<polyline fill="none" stroke="#0000ff" stroke-width="2.08" stroke-linejoin="round" points="1428.7,725.5 1455.2,857.9"/>
<polyline fill="none" stroke="#0000ff" stroke-width="2.08" stroke-linejoin="round" points="1431.2,754.6 1460.3,866.4"/>
<polyline fill="none" stroke="#0000ff" stroke-width="2.08" stroke-linejoin="round" points="1429.5,781.4 1453.5,879.9"/>
<circle cx="1460.3" cy="747.7" r="3.50" fill="#0000ff"/>
<circle cx="1467.1" cy="708.4" r="3.50" fill="#0000ff"/>
<circle cx="1477.0" cy="697.3" r="3.50" fill="#0000ff"/>
<circle cx="1480.4" cy="686.2" r="3.50" fill="#0000ff"/>
<circle cx="1483.9" cy="698.5" r="3.50" fill="#0000ff"/>
<circle cx="1457.7" cy="765.7" r="3.50" fill="#0000ff"/>
<circle cx="1463.7" cy="843.4" r="3.50" fill="#0000ff"/>
<circle cx="1478.6" cy="829.2" r="3.50" fill="#0000ff"/>
<circle cx="1494.5" cy="719.5" r="3.50" fill="#0000ff"/>
<circle cx="1490.5" cy="872.4" r="3.50" fill="#0000ff"/>
<circle cx="1472.2" cy="879.9" r="3.50" fill="#0000ff"/>
<circle cx="1428.7" cy="725.5" r="3.50" fill="#0000ff"/>
<circle cx="1448.7" cy="752.0" r="3.50" fill="#0000ff"/>
<circle cx="1431.2" cy="754.6" r="3.50" fill="#0000ff"/>
<circle cx="1448.3" cy="776.4" r="3.50" fill="#0000ff"/>
<circle cx="1449.2" cy="828.9" r="3.50" fill="#0000ff"/>
<circle cx="1458.6" cy="796.4" r="3.50" fill="#0000ff"/>
<circle cx="1462.5" cy="803.2" r="3.50" fill="#0000ff"/>
<circle cx="1462.0" cy="777.6" r="3.50" fill="#0000ff"/>
<circle cx="1455.2" cy="758.8" r="3.50" fill="#0000ff"/>
<circle cx="1462.5" cy="765.1" r="3.50" fill="#0000ff"/>
<circle cx="1457.7" cy="771.6" r="3.50" fill="#0000ff"/>
<circle cx="1457.2" cy="777.3" r="3.50" fill="#0000ff"/>
<circle cx="1464.9" cy="776.8" r="3.50" fill="#0000ff"/>
<circle cx="1448.3" cy="857.9" r="3.50" fill="#0000ff"/>
<circle cx="1438.6" cy="825.1" r="3.50" fill="#0000ff"/>
<circle cx="1429.5" cy="781.4" r="3.50" fill="#0000ff"/>
<circle cx="1449.2" cy="799.3" r="3.50" fill="#0000ff"/>
<circle cx="1467.6" cy="819.5" r="3.50" fill="#0000ff"/>
<circle cx="1448.3" cy="828.0" r="3.50" fill="#0000ff"/>
<circle cx="1414.7" cy="824.3" r="3.50" fill="#0000ff"/>
<circle cx="1448.3" cy="879.9" r="3.50" fill="#0000ff"/>
<circle cx="1416.7" cy="850.2" r="3.50" fill="#0000ff"/>
<circle cx="1424.8" cy="872.4" r="3.50" fill="#0000ff"/>
<circle cx="1431.2" cy="879.9" r="3.50" fill="#0000ff"/>
<circle cx="1475.3" cy="849.4" r="3.50" fill="#0000ff"/>
<circle cx="1471.7" cy="865.3" r="3.50" fill="#0000ff"/>
<circle cx="1462.0" cy="879.9" r="3.50" fill="#0000ff"/>
<circle cx="1431.2" cy="865.3" r="3.50" fill="#0000ff"/>
<circle cx="1450.6" cy="869.0" r="3.50" fill="#0000ff"/>
<circle cx="1455.2" cy="813.1" r="3.50" fill="#0000ff"/>
<circle cx="1465.4" cy="845.9" r="3.50" fill="#0000ff"/>
<circle cx="1468.8" cy="882.2" r="3.50" fill="#0000ff"/>
<circle cx="1441.5" cy="943.7" r="3.50" fill="#0000ff"/>
<circle cx="1411.6" cy="917.2" r="3.50" fill="#0000ff"/>
<circle cx="1460.6" cy="1082.8" r="3.50" fill="#0000ff"/>
<circle cx="1450.9" cy="991.5" r="3.50" fill="#0000ff"/>
<circle cx="1451.7" cy="991.5" r="3.50" fill="#0000ff"/>
<circle cx="1436.4" cy="977.9" r="3.50" fill="#0000ff"/>
<circle cx="1441.5" cy="955.7" r="3.50" fill="#0000ff"/>
<circle cx="1436.4" cy="928.3" r="3.50" fill="#0000ff"/>
<circle cx="1417.9" cy="952.2" r="3.50" fill="#0000ff"/>
<circle cx="1448.3" cy="962.5" r="3.50" fill="#0000ff"/>
<circle cx="1472.2" cy="924.9" r="3.50" fill="#0000ff"/>
<circle cx="1493.6" cy="940.3" r="3.50" fill="#0000ff"/>
<circle cx="1477.4" cy="902.4" r="3.50" fill="#0000ff"/>
<circle cx="1473.6" cy="889.4" r="3.50" fill="#0000ff"/>
<circle cx="1468.3" cy="974.1" r="3.50" fill="#0000ff"/>
<circle cx="1466.6" cy="988.5" r="3.50" fill="#0000ff"/>
<circle cx="1462.5" cy="996.7" r="3.50" fill="#0000ff"/>
<circle cx="1456.9" cy="948.8" r="3.50" fill="#0000ff"/>
<circle cx="1477.4" cy="958.7" r="3.50" fill="#0000ff"/>
<circle cx="1480.8" cy="967.6" r="3.50" fill="#0000ff"/>
<circle cx="1477.7" cy="976.7" r="3.50" fill="#0000ff"/>
<circle cx="1477.4" cy="996.7" r="3.50" fill="#0000ff"/>
<circle cx="1487.6" cy="998.0" r="3.50" fill="#0000ff"/>
<circle cx="1478.2" cy="1014.6" r="3.50" fill="#0000ff"/>
<circle cx="1466.3" cy="1014.3" r="3.50" fill="#0000ff"/>
<circle cx="1471.4" cy="1016.3" r="3.50" fill="#0000ff"/>
<circle cx="1484.5" cy="1013.4" r="3.50" fill="#0000ff"/>
<circle cx="1444.0" cy="899.3" r="3.50" fill="#0000ff"/>
<circle cx="1453.1" cy="852.8" r="3.50" fill="#0000ff"/>
<circle cx="1436.9" cy="853.8" r="3.50" fill="#0000ff"/>
<circle cx="1460.3" cy="863.7" r="3.50" fill="#0000ff"/>
<circle cx="1448.4" cy="914.9" r="3.50" fill="#0000ff"/>
<circle cx="1446.8" cy="950.6" r="3.50" fill="#0000ff"/>
<circle cx="1457.0" cy="947.7" r="3.50" fill="#0000ff"/>
<circle cx="1439.5" cy="966.8" r="3.50" fill="#0000ff"/>
<circle cx="1453.8" cy="965.9" r="3.50" fill="#0000ff"/>
<circle cx="1459.5" cy="926.0" r="3.50" fill="#0000ff"/>
<circle cx="1464.7" cy="965.2" r="3.50" fill="#0000ff"/>
<circle cx="1442.9" cy="966.6" r="3.50" fill="#0000ff"/>
<circle cx="1461.0" cy="941.5" r="3.50" fill="#0000ff"/>
<circle cx="1452.6" cy="963.2" r="3.50" fill="#0000ff"/>
<circle cx="1462.3" cy="956.9" r="3.50" fill="#0000ff"/>
<circle cx="1452.7" cy="878.4" r="3.50" fill="#0000ff"/>
<circle cx="1442.5" cy="859.0" r="3.50" fill="#0000ff"/>
<circle cx="1443.0" cy="932.0" r="3.50" fill="#0000ff"/>
<circle cx="1454.7" cy="959.9" r="3.50" fill="#0000ff"/>
<circle cx="1466.2" cy="953.0" r="3.50" fill="#0000ff"/>
<circle cx="1439.5" cy="856.0" r="3.50" fill="#0000ff"/>
<circle cx="1434.4" cy="870.7" r="3.50" fill="#0000ff"/>
<circle cx="1454.1" cy="897.6" r="3.50" fill="#0000ff"/>
<circle cx="1433.8" cy="853.9" r="3.50" fill="#0000ff"/>
<circle cx="1447.0" cy="877.7" r="3.50" fill="#0000ff"/>
<circle cx="1447.1" cy="904.5" r="3.50" fill="#0000ff"/>
<circle cx="1444.3" cy="924.5" r="3.50" fill="#0000ff"/>
<circle cx="1454.4" cy="915.0" r="3.50" fill="#0000ff"/>
<circle cx="1455.6" cy="864.0" r="3.50" fill="#0000ff"/>
<circle cx="1446.3" cy="853.2" r="3.50" fill="#0000ff"/>
<circle cx="1448.9" cy="857.3" r="3.50" fill="#0000ff"/>
<circle cx="1454.7" cy="909.7" r="3.50" fill="#0000ff"/>
<circle cx="1453.7" cy="895.2" r="3.50" fill="#0000ff"/>
<circle cx="1452.8" cy="898.4" r="3.50" fill="#0000ff"/>
<circle cx="1452.3" cy="868.0" r="3.50" fill="#0000ff"/>
<circle cx="1461.3" cy="943.4" r="3.50" fill="#0000ff"/>
<circle cx="1439.1" cy="966.8" r="3.50" fill="#0000ff"/>
<circle cx="1464.0" cy="954.6" r="3.50" fill="#0000ff"/>
<circle cx="1427.3" cy="936.1" r="3.50" fill="#0000ff"/>
<circle cx="1435.3" cy="938.3" r="3.50" fill="#0000ff"/>
<circle cx="1443.7" cy="940.0" r="3.50" fill="#0000ff"/>
<circle cx="1447.5" cy="956.6" r="3.50" fill="#0000ff"/>
<circle cx="1459.6" cy="955.1" r="3.50" fill="#0000ff"/>
<circle cx="1474.6" cy="924.4" r="3.50" fill="#0000ff"/>
<circle cx="1451.4" cy="918.3" r="3.50" fill="#0000ff"/>
<circle cx="1447.3" cy="917.6" r="3.50" fill="#0000ff"/>
<circle cx="1464.4" cy="910.0" r="3.50" fill="#0000ff"/>
<circle cx="1448.2" cy="869.8" r="3.50" fill="#0000ff"/>
<circle cx="1443.6" cy="870.4" r="3.50" fill="#0000ff"/>
<circle cx="1437.3" cy="880.3" r="3.50" fill="#0000ff"/>
<circle cx="1473.0" cy="877.8" r="3.50" fill="#0000ff"/>
<circle cx="1438.5" cy="891.1" r="3.50" fill="#0000ff"/>
<circle cx="1466.7" cy="867.6" r="3.50" fill="#0000ff"/>
<circle cx="1451.5" cy="874.0" r="3.50" fill="#0000ff"/>
<circle cx="1420.9" cy="873.1" r="3.50" fill="#0000ff"/>
<circle cx="1440.6" cy="879.9" r="3.50" fill="#0000ff"/>
<circle cx="1415.4" cy="873.8" r="3.50" fill="#0000ff"/>
<circle cx="1454.9" cy="882.4" r="3.50" fill="#0000ff"/>
<circle cx="1475.2" cy="953.3" r="3.50" fill="#0000ff"/>
<circle cx="1425.1" cy="947.2" r="3.50" fill="#0000ff"/>
<circle cx="1444.7" cy="931.4" r="3.50" fill="#0000ff"/>
<circle cx="1443.4" cy="884.4" r="3.50" fill="#0000ff"/>
<circle cx="1455.2" cy="857.9" r="3.50" fill="#0000ff"/>
<circle cx="1460.3" cy="866.4" r="3.50" fill="#0000ff"/>
<circle cx="1453.5" cy="879.9" r="3.50" fill="#0000ff"/>
</g>
<rect x="1229" y="662" width="454" height="454" fill="none" stroke="#000" stroke-width="2"/>
<line x1="1259.50" y1="1116.00" x2="1259.50" y2="1107.67" stroke="#000" stroke-width="1.00" stroke-linecap="butt"/>
<line x1="1259.50" y1="662.00" x2="1259.50" y2="670.33" stroke="#000" stroke-width="1.00" stroke-linecap="butt"/>
<text x="1258.77" y="1137.50" font-size="17.17" text-anchor="middle" textLength="44.37" lengthAdjust="spacingAndGlyphs" fill="#000">−100</text>
<line x1="1335.50" y1="1116.00" x2="1335.50" y2="1107.67" stroke="#000" stroke-width="1.00" stroke-linecap="butt"/>
<line x1="1335.50" y1="662.00" x2="1335.50" y2="670.33" stroke="#000" stroke-width="1.00" stroke-linecap="butt"/>
<text x="1334.43" y="1137.50" font-size="17.17" text-anchor="middle" textLength="33.76" lengthAdjust="spacingAndGlyphs" fill="#000">−90</text>
<line x1="1411.50" y1="1116.00" x2="1411.50" y2="1107.67" stroke="#000" stroke-width="1.00" stroke-linecap="butt"/>
<line x1="1411.50" y1="662.00" x2="1411.50" y2="670.33" stroke="#000" stroke-width="1.00" stroke-linecap="butt"/>
<text x="1410.10" y="1137.50" font-size="17.17" text-anchor="middle" textLength="33.76" lengthAdjust="spacingAndGlyphs" fill="#000">−80</text>
<line x1="1486.50" y1="1116.00" x2="1486.50" y2="1107.67" stroke="#000" stroke-width="1.00" stroke-linecap="butt"/>
<line x1="1486.50" y1="662.00" x2="1486.50" y2="670.33" stroke="#000" stroke-width="1.00" stroke-linecap="butt"/>
<text x="1485.77" y="1137.50" font-size="17.17" text-anchor="middle" textLength="33.76" lengthAdjust="spacingAndGlyphs" fill="#000">−70</text>
<line x1="1562.50" y1="1116.00" x2="1562.50" y2="1107.67" stroke="#000" stroke-width="1.00" stroke-linecap="butt"/>
<line x1="1562.50" y1="662.00" x2="1562.50" y2="670.33" stroke="#000" stroke-width="1.00" stroke-linecap="butt"/>
<text x="1561.43" y="1137.50" font-size="17.17" text-anchor="middle" textLength="33.76" lengthAdjust="spacingAndGlyphs" fill="#000">−60</text>
<line x1="1638.50" y1="1116.00" x2="1638.50" y2="1107.67" stroke="#000" stroke-width="1.00" stroke-linecap="butt"/>
<line x1="1638.50" y1="662.00" x2="1638.50" y2="670.33" stroke="#000" stroke-width="1.00" stroke-linecap="butt"/>
<text x="1637.10" y="1137.50" font-size="17.17" text-anchor="middle" textLength="33.76" lengthAdjust="spacingAndGlyphs" fill="#000">−50</text>
<line x1="1229.00" y1="1116.50" x2="1237.33" y2="1116.50" stroke="#000" stroke-width="1.00" stroke-linecap="butt"/>
<line x1="1683.00" y1="1116.50" x2="1674.67" y2="1116.50" stroke="#000" stroke-width="1.00" stroke-linecap="butt"/>
<text x="1219.94" y="1121.00" font-size="17.17" text-anchor="end" textLength="33.76" lengthAdjust="spacingAndGlyphs" fill="#000">−20</text>
<line x1="1229.00" y1="1040.50" x2="1237.33" y2="1040.50" stroke="#000" stroke-width="1.00" stroke-linecap="butt"/>
<line x1="1683.00" y1="1040.50" x2="1674.67" y2="1040.50" stroke="#000" stroke-width="1.00" stroke-linecap="butt"/>
<text x="1219.94" y="1045.33" font-size="17.17" text-anchor="end" textLength="33.76" lengthAdjust="spacingAndGlyphs" fill="#000">−10</text>
<line x1="1229.00" y1="965.50" x2="1237.33" y2="965.50" stroke="#000" stroke-width="1.00" stroke-linecap="butt"/>
<line x1="1683.00" y1="965.50" x2="1674.67" y2="965.50" stroke="#000" stroke-width="1.00" stroke-linecap="butt"/>
<text x="1219.94" y="969.67" font-size="17.17" text-anchor="end" textLength="9.19" lengthAdjust="spacingAndGlyphs" fill="#000">0</text>
<line x1="1229.00" y1="889.50" x2="1237.33" y2="889.50" stroke="#000" stroke-width="1.00" stroke-linecap="butt"/>
<line x1="1683.00" y1="889.50" x2="1674.67" y2="889.50" stroke="#000" stroke-width="1.00" stroke-linecap="butt"/>
<text x="1219.94" y="894.00" font-size="17.17" text-anchor="end" textLength="19.80" lengthAdjust="spacingAndGlyphs" fill="#000">10</text>
<line x1="1229.00" y1="813.50" x2="1237.33" y2="813.50" stroke="#000" stroke-width="1.00" stroke-linecap="butt"/>
<line x1="1683.00" y1="813.50" x2="1674.67" y2="813.50" stroke="#000" stroke-width="1.00" stroke-linecap="butt"/>
<text x="1219.94" y="818.33" font-size="17.17" text-anchor="end" textLength="19.80" lengthAdjust="spacingAndGlyphs" fill="#000">20</text>
<line x1="1229.00" y1="738.50" x2="1237.33" y2="738.50" stroke="#000" stroke-width="1.00" stroke-linecap="butt"/>
<line x1="1683.00" y1="738.50" x2="1674.67" y2="738.50" stroke="#000" stroke-width="1.00" stroke-linecap="butt"/>
<text x="1219.94" y="742.67" font-size="17.17" text-anchor="end" textLength="19.80" lengthAdjust="spacingAndGlyphs" fill="#000">30</text>
<line x1="1229.00" y1="662.50" x2="1237.33" y2="662.50" stroke="#000" stroke-width="1.00" stroke-linecap="butt"/>
<line x1="1683.00" y1="662.50" x2="1674.67" y2="662.50" stroke="#000" stroke-width="1.00" stroke-linecap="butt"/>
<text x="1219.94" y="667.00" font-size="17.17" text-anchor="end" textLength="19.80" lengthAdjust="spacingAndGlyphs" fill="#000">40</text>
<text x="1231.71" y="650.70" font-size="24.00" text-anchor="start" textLength="282.20" lengthAdjust="spacingAndGlyphs" fill="#000">Hodogram (V3_V1 MVAV</text>
<text x="1516.40" y="655.70" class="m" font-size="16.5" textLength="77.0" lengthAdjust="spacing" fill="#000">remaining</text>
<text x="1602.30" y="650.70" font-size="24.00" text-anchor="start" textLength="76.20" lengthAdjust="spacingAndGlyphs" fill="#000">frame)</text>
<text x="1456.10" y="1166.70" font-size="17.17" text-anchor="middle" textLength="73.79" lengthAdjust="spacingAndGlyphs" fill="#000">V3(km/s)</text>
<text x="1170.30" y="890.60" font-size="17.17" text-anchor="middle" textLength="73.79" lengthAdjust="spacingAndGlyphs" fill="#000" transform="rotate(-90 1170.30 890.60)">V1(km/s)</text>
<text x="1262.20" y="1091.80" class="m" font-size="20.0" fill="#000">λ</text>
<text x="1272.50" y="1096.00" class="mr" font-size="13.5" fill="#000">1</text>
<line x1="1280.10" y1="1097.40" x2="1287.90" y2="1078.50" stroke="#000" stroke-width="0.95" stroke-linecap="butt"/>
<text x="1290.10" y="1091.80" class="m" font-size="20.0" fill="#000">λ</text>
<text x="1299.90" y="1096.00" class="mr" font-size="13.5" fill="#000">3</text>
<text x="1312.10" y="1092.30" class="mr" font-size="21.0" fill="#000" textLength="13.2" lengthAdjust="spacingAndGlyphs">≈</text>
<text x="1332.80" y="1091.80" font-size="19.31" text-anchor="start" textLength="52.08" lengthAdjust="spacingAndGlyphs" fill="#000">19.52</text>
<clipPath id="cts0"><rect x="117.00" y="1304.90" width="1566.00" height="221.80"/></clipPath>
<g clip-path="url(#cts0)">
<line x1="117.00" y1="1379.50" x2="1683.00" y2="1379.50" stroke="#000" stroke-width="1.00" stroke-dasharray="12.5 12.5" stroke-linecap="butt"/>
<polyline fill="none" stroke="#ff0000" stroke-width="2.08" stroke-linejoin="round" points="117.0,1420.6 128.3,1422.5 139.5,1425.7 150.8,1418.8 162.1,1403.5 173.3,1409.7 184.6,1426.0 195.9,1423.7 207.1,1422.0 218.4,1420.8 229.7,1422.0 240.9,1422.5 252.2,1428.0 263.5,1431.7 274.7,1431.1 286.0,1433.1 297.3,1434.5 308.5,1431.7 319.8,1435.4 331.1,1438.2 342.3,1440.5 353.6,1440.2 364.9,1439.3 376.1,1437.9 387.4,1433.6 398.7,1430.2 409.9,1422.5 421.2,1422.5 432.5,1420.0 443.7,1421.1 455.0,1420.3 466.3,1418.0 477.5,1419.1 488.8,1410.6 500.1,1408.9 511.3,1412.2 522.6,1411.2 533.8,1409.7 545.1,1408.9 556.4,1410.0 567.6,1409.2 578.9,1425.1 590.2,1403.5 601.4,1400.9 612.7,1398.9 624.0,1396.1 635.2,1387.8 646.5,1378.4 657.8,1379.3 669.0,1387.0 680.3,1395.8 691.6,1400.1 702.8,1393.2 714.1,1402.9 725.4,1397.8 736.6,1395.8 747.9,1387.5 759.2,1402.3 770.4,1403.5 781.7,1398.1 793.0,1410.9 804.2,1410.9 815.5,1416.6 826.8,1414.6 838.0,1411.2 849.3,1415.7 860.6,1419.7 871.8,1418.0 883.1,1429.7 894.4,1437.5 905.6,1425.7 916.9,1424.3 928.2,1422.0 939.4,1425.7 950.7,1426.8 962.0,1428.5 973.2,1428.0 984.5,1431.9 995.8,1434.5 1007.0,1431.9 1018.3,1430.5 1029.6,1434.2 1040.8,1448.7 1052.1,1433.1 1063.4,1432.8 1074.6,1433.9 1085.9,1433.4 1097.2,1437.9 1108.4,1427.7 1119.7,1430.8 1131.0,1429.9 1142.2,1426.2 1153.5,1424.8 1164.8,1424.8 1176.0,1428.5 1187.3,1426.0 1198.6,1424.0 1209.8,1426.8 1221.1,1424.0 1232.4,1424.0 1243.6,1424.5 1254.9,1427.4 1266.2,1427.7 1277.4,1428.0 1288.7,1426.5 1299.9,1424.8 1311.2,1423.4 1322.5,1419.7 1333.7,1421.7 1345.0,1418.6 1356.3,1422.5 1367.5,1427.7 1378.8,1423.1 1390.1,1425.4 1401.3,1427.4 1412.6,1426.8 1423.9,1426.0 1435.1,1426.5 1446.4,1425.1 1457.7,1426.0 1468.9,1425.4 1480.2,1424.8 1491.5,1423.4 1502.7,1421.4 1514.0,1422.8 1525.3,1421.4 1536.5,1423.7 1547.8,1419.1 1559.1,1416.9 1570.3,1419.4 1581.6,1419.7 1592.9,1420.6 1604.1,1420.6 1615.4,1429.7 1626.7,1427.4 1637.9,1429.1 1649.2,1433.4 1660.5,1439.1 1671.7,1438.2 1683.0,1433.6"/>
<polyline fill="none" stroke="#008000" stroke-width="2.08" stroke-linejoin="round" points="117.0,1386.7 128.3,1389.0 139.5,1383.3 150.8,1394.6 162.1,1406.0 173.3,1395.5 184.6,1376.1 195.9,1377.0 207.1,1377.8 218.4,1379.8 229.7,1379.8 240.9,1377.6 252.2,1380.4 263.5,1383.0 274.7,1383.5 286.0,1384.1 297.3,1379.8 308.5,1380.7 319.8,1378.1 331.1,1375.6 342.3,1373.0 353.6,1373.6 364.9,1373.9 376.1,1369.9 387.4,1367.3 398.7,1372.4 409.9,1368.7 421.2,1368.2 432.5,1371.3 443.7,1369.0 455.0,1365.9 466.3,1363.3 477.5,1364.2 488.8,1361.9 500.1,1363.0 511.3,1369.6 522.6,1372.4 533.8,1370.2 545.1,1371.0 556.4,1369.3 567.6,1368.5 578.9,1366.7 590.2,1372.4 601.4,1369.6 612.7,1369.9 624.0,1369.9 635.2,1372.7 646.5,1371.9 657.8,1371.0 669.0,1368.5 680.3,1361.9 691.6,1363.6 702.8,1364.2 714.1,1359.3 725.4,1357.1 736.6,1358.8 747.9,1355.1 759.2,1363.3 770.4,1361.3 781.7,1356.5 793.0,1363.3 804.2,1365.9 815.5,1361.3 826.8,1363.6 838.0,1356.5 849.3,1359.3 860.6,1361.0 871.8,1358.2 883.1,1363.3 894.4,1364.0 905.6,1373.0 916.9,1366.2 928.2,1361.3 939.4,1364.5 950.7,1360.5 962.0,1360.2 973.2,1357.9 984.5,1357.9 995.8,1357.9 1007.0,1357.9 1018.3,1355.1 1029.6,1356.2 1040.8,1361.9 1052.1,1356.8 1063.4,1357.9 1074.6,1358.8 1085.9,1357.1 1097.2,1357.3 1108.4,1361.6 1119.7,1357.6 1131.0,1358.8 1142.2,1354.5 1153.5,1355.1 1164.8,1356.5 1176.0,1359.1 1187.3,1360.8 1198.6,1358.8 1209.8,1362.2 1221.1,1355.6 1232.4,1356.5 1243.6,1355.4 1254.9,1357.9 1266.2,1359.1 1277.4,1362.2 1288.7,1359.9 1299.9,1355.6 1311.2,1360.2 1322.5,1361.6 1333.7,1358.2 1345.0,1356.8 1356.3,1358.2 1367.5,1356.5 1378.8,1352.2 1390.1,1349.7 1401.3,1354.2 1412.6,1356.2 1423.9,1357.1 1435.1,1351.9 1446.4,1357.9 1457.7,1363.3 1468.9,1361.0 1480.2,1364.8 1491.5,1367.6 1502.7,1362.8 1514.0,1357.3 1525.3,1353.1 1536.5,1344.5 1547.8,1340.8 1559.1,1339.1 1570.3,1350.2 1581.6,1346.8 1592.9,1346.8 1604.1,1348.8 1615.4,1349.7 1626.7,1350.8 1637.9,1351.9 1649.2,1355.4 1660.5,1366.2 1671.7,1382.1 1683.0,1396.6"/>
<polyline fill="none" stroke="#0000ff" stroke-width="2.08" stroke-linejoin="round" points="117.0,1497.4 128.3,1496.9 139.5,1495.7 150.8,1497.1 162.1,1500.0 173.3,1498.8 184.6,1500.6 195.9,1501.1 207.1,1502.0 218.4,1501.7 229.7,1501.1 240.9,1500.8 252.2,1499.1 263.5,1497.1 274.7,1497.1 286.0,1496.9 297.3,1496.9 308.5,1498.0 319.8,1496.0 331.1,1494.9 342.3,1492.9 353.6,1493.7 364.9,1494.0 376.1,1494.0 387.4,1498.0 398.7,1500.3 409.9,1501.1 421.2,1500.8 432.5,1502.0 443.7,1501.7 455.0,1502.8 466.3,1503.4 477.5,1502.3 488.8,1504.0 500.1,1505.0 511.3,1503.5 522.6,1505.1 533.8,1506.0 545.1,1506.8 556.4,1506.2 567.6,1506.8 578.9,1502.0 590.2,1507.1 601.4,1506.8 612.7,1507.1 624.0,1507.1 635.2,1508.2 646.5,1508.0 657.8,1508.0 669.0,1508.0 680.3,1507.4 691.6,1506.5 702.8,1507.4 714.1,1505.4 725.4,1506.8 736.6,1506.5 747.9,1506.2 759.2,1505.7 770.4,1506.0 781.7,1506.2 793.0,1504.5 804.2,1504.0 815.5,1502.3 826.8,1502.3 838.0,1505.1 849.3,1504.3 860.6,1503.1 871.8,1502.8 883.1,1498.0 894.4,1495.9 905.6,1501.4 916.9,1500.8 928.2,1502.0 939.4,1500.0 950.7,1498.8 962.0,1497.4 973.2,1497.7 984.5,1496.0 995.8,1495.1 1007.0,1496.6 1018.3,1497.7 1029.6,1496.0 1040.8,1488.3 1052.1,1495.7 1063.4,1497.4 1074.6,1497.4 1085.9,1496.9 1097.2,1493.7 1108.4,1499.4 1119.7,1497.4 1131.0,1498.3 1142.2,1499.1 1153.5,1499.4 1164.8,1499.4 1176.0,1498.8 1187.3,1500.6 1198.6,1501.7 1209.8,1501.1 1221.1,1501.4 1232.4,1502.0 1243.6,1501.4 1254.9,1500.8 1266.2,1500.8 1277.4,1500.8 1288.7,1500.8 1299.9,1501.4 1311.2,1502.0 1322.5,1503.7 1333.7,1502.5 1345.0,1503.4 1356.3,1502.3 1367.5,1499.4 1378.8,1501.1 1390.1,1499.7 1401.3,1499.7 1412.6,1500.3 1423.9,1500.8 1435.1,1499.4 1446.4,1501.1 1457.7,1502.3 1468.9,1502.0 1480.2,1501.7 1491.5,1502.5 1502.7,1502.5 1514.0,1502.0 1525.3,1501.7 1536.5,1498.3 1547.8,1499.4 1559.1,1500.0 1570.3,1501.7 1581.6,1500.6 1592.9,1500.3 1604.1,1500.8 1615.4,1494.3 1626.7,1496.3 1637.9,1496.6 1649.2,1496.0 1660.5,1495.4 1671.7,1496.9 1683.0,1496.0"/>
</g>
<rect x="117" y="1305" width="1566" height="222" fill="none" stroke="#000" stroke-width="2"/>
<line x1="241.50" y1="1527.00" x2="241.50" y2="1518.67" stroke="#000" stroke-width="1.00" stroke-linecap="butt"/>
<line x1="241.50" y1="1305.00" x2="241.50" y2="1313.33" stroke="#000" stroke-width="1.00" stroke-linecap="butt"/>
<text x="240.80" y="1549.20" font-size="17.17" text-anchor="middle" textLength="126.79" lengthAdjust="spacingAndGlyphs" fill="#000">06/25 15:48:09</text>
<line x1="410.50" y1="1527.00" x2="410.50" y2="1518.67" stroke="#000" stroke-width="1.00" stroke-linecap="butt"/>
<line x1="410.50" y1="1305.00" x2="410.50" y2="1313.33" stroke="#000" stroke-width="1.00" stroke-linecap="butt"/>
<text x="409.79" y="1549.20" font-size="17.17" text-anchor="middle" textLength="126.79" lengthAdjust="spacingAndGlyphs" fill="#000">06/25 15:48:24</text>
<line x1="579.50" y1="1527.00" x2="579.50" y2="1518.67" stroke="#000" stroke-width="1.00" stroke-linecap="butt"/>
<line x1="579.50" y1="1305.00" x2="579.50" y2="1313.33" stroke="#000" stroke-width="1.00" stroke-linecap="butt"/>
<text x="578.78" y="1549.20" font-size="17.17" text-anchor="middle" textLength="126.79" lengthAdjust="spacingAndGlyphs" fill="#000">06/25 15:48:39</text>
<line x1="748.50" y1="1527.00" x2="748.50" y2="1518.67" stroke="#000" stroke-width="1.00" stroke-linecap="butt"/>
<line x1="748.50" y1="1305.00" x2="748.50" y2="1313.33" stroke="#000" stroke-width="1.00" stroke-linecap="butt"/>
<text x="747.77" y="1549.20" font-size="17.17" text-anchor="middle" textLength="126.79" lengthAdjust="spacingAndGlyphs" fill="#000">06/25 15:48:54</text>
<line x1="917.50" y1="1527.00" x2="917.50" y2="1518.67" stroke="#000" stroke-width="1.00" stroke-linecap="butt"/>
<line x1="917.50" y1="1305.00" x2="917.50" y2="1313.33" stroke="#000" stroke-width="1.00" stroke-linecap="butt"/>
<text x="916.76" y="1549.20" font-size="17.17" text-anchor="middle" textLength="126.79" lengthAdjust="spacingAndGlyphs" fill="#000">06/25 15:49:09</text>
<line x1="1086.50" y1="1527.00" x2="1086.50" y2="1518.67" stroke="#000" stroke-width="1.00" stroke-linecap="butt"/>
<line x1="1086.50" y1="1305.00" x2="1086.50" y2="1313.33" stroke="#000" stroke-width="1.00" stroke-linecap="butt"/>
<text x="1085.75" y="1549.20" font-size="17.17" text-anchor="middle" textLength="126.79" lengthAdjust="spacingAndGlyphs" fill="#000">06/25 15:49:24</text>
<line x1="1255.50" y1="1527.00" x2="1255.50" y2="1518.67" stroke="#000" stroke-width="1.00" stroke-linecap="butt"/>
<line x1="1255.50" y1="1305.00" x2="1255.50" y2="1313.33" stroke="#000" stroke-width="1.00" stroke-linecap="butt"/>
<text x="1254.74" y="1549.20" font-size="17.17" text-anchor="middle" textLength="126.79" lengthAdjust="spacingAndGlyphs" fill="#000">06/25 15:49:39</text>
<line x1="1424.50" y1="1527.00" x2="1424.50" y2="1518.67" stroke="#000" stroke-width="1.00" stroke-linecap="butt"/>
<line x1="1424.50" y1="1305.00" x2="1424.50" y2="1313.33" stroke="#000" stroke-width="1.00" stroke-linecap="butt"/>
<text x="1423.73" y="1549.20" font-size="17.17" text-anchor="middle" textLength="126.79" lengthAdjust="spacingAndGlyphs" fill="#000">06/25 15:49:54</text>
<line x1="1593.50" y1="1527.00" x2="1593.50" y2="1518.67" stroke="#000" stroke-width="1.00" stroke-linecap="butt"/>
<line x1="1593.50" y1="1305.00" x2="1593.50" y2="1313.33" stroke="#000" stroke-width="1.00" stroke-linecap="butt"/>
<text x="1592.72" y="1549.20" font-size="17.17" text-anchor="middle" textLength="126.79" lengthAdjust="spacingAndGlyphs" fill="#000">06/25 15:50:09</text>
<line x1="117.00" y1="1527.50" x2="125.33" y2="1527.50" stroke="#000" stroke-width="1.00" stroke-linecap="butt"/>
<line x1="1683.00" y1="1527.50" x2="1674.67" y2="1527.50" stroke="#000" stroke-width="1.00" stroke-linecap="butt"/>
<text x="107.84" y="1531.60" font-size="17.17" text-anchor="end" textLength="33.76" lengthAdjust="spacingAndGlyphs" fill="#000">−80</text>
<line x1="117.00" y1="1490.50" x2="125.33" y2="1490.50" stroke="#000" stroke-width="1.00" stroke-linecap="butt"/>
<line x1="1683.00" y1="1490.50" x2="1674.67" y2="1490.50" stroke="#000" stroke-width="1.00" stroke-linecap="butt"/>
<text x="107.84" y="1494.63" font-size="17.17" text-anchor="end" textLength="33.76" lengthAdjust="spacingAndGlyphs" fill="#000">−60</text>
<line x1="117.00" y1="1453.50" x2="125.33" y2="1453.50" stroke="#000" stroke-width="1.00" stroke-linecap="butt"/>
<line x1="1683.00" y1="1453.50" x2="1674.67" y2="1453.50" stroke="#000" stroke-width="1.00" stroke-linecap="butt"/>
<text x="107.84" y="1457.67" font-size="17.17" text-anchor="end" textLength="33.76" lengthAdjust="spacingAndGlyphs" fill="#000">−40</text>
<line x1="117.00" y1="1416.50" x2="125.33" y2="1416.50" stroke="#000" stroke-width="1.00" stroke-linecap="butt"/>
<line x1="1683.00" y1="1416.50" x2="1674.67" y2="1416.50" stroke="#000" stroke-width="1.00" stroke-linecap="butt"/>
<text x="107.84" y="1420.70" font-size="17.17" text-anchor="end" textLength="33.76" lengthAdjust="spacingAndGlyphs" fill="#000">−20</text>
<line x1="117.00" y1="1379.50" x2="125.33" y2="1379.50" stroke="#000" stroke-width="1.00" stroke-linecap="butt"/>
<line x1="1683.00" y1="1379.50" x2="1674.67" y2="1379.50" stroke="#000" stroke-width="1.00" stroke-linecap="butt"/>
<text x="107.84" y="1383.73" font-size="17.17" text-anchor="end" textLength="9.19" lengthAdjust="spacingAndGlyphs" fill="#000">0</text>
<line x1="117.00" y1="1342.50" x2="125.33" y2="1342.50" stroke="#000" stroke-width="1.00" stroke-linecap="butt"/>
<line x1="1683.00" y1="1342.50" x2="1674.67" y2="1342.50" stroke="#000" stroke-width="1.00" stroke-linecap="butt"/>
<text x="107.84" y="1346.77" font-size="17.17" text-anchor="end" textLength="19.80" lengthAdjust="spacingAndGlyphs" fill="#000">20</text>
<line x1="117.00" y1="1305.50" x2="125.33" y2="1305.50" stroke="#000" stroke-width="1.00" stroke-linecap="butt"/>
<line x1="1683.00" y1="1305.50" x2="1674.67" y2="1305.50" stroke="#000" stroke-width="1.00" stroke-linecap="butt"/>
<text x="107.84" y="1309.80" font-size="17.17" text-anchor="end" textLength="19.80" lengthAdjust="spacingAndGlyphs" fill="#000">40</text>
<text x="900.00" y="1294.90" font-size="24.00" text-anchor="middle" textLength="317.65" lengthAdjust="spacingAndGlyphs" fill="#000">Magnetic Field (RTN Frame)</text>
<text x="58.20" y="1417.30" font-size="17.17" text-anchor="middle" textLength="43.77" lengthAdjust="spacingAndGlyphs" fill="#000" transform="rotate(-90 58.20 1417.30)">B(nT)</text>
<rect x="1604" y="1312" width="72" height="72" fill="#fff" stroke="#000" stroke-width="2"/>
<line x1="1613.10" y1="1325.00" x2="1635.90" y2="1325.00" stroke="#ff0000" stroke-width="2.08" stroke-linecap="butt"/>
<text x="1651.60" y="1329.80" font-size="15.80" text-anchor="start" textLength="14.78" lengthAdjust="spacingAndGlyphs" fill="#000">Br</text>
<line x1="1613.10" y1="1347.00" x2="1635.90" y2="1347.00" stroke="#008000" stroke-width="2.08" stroke-linecap="butt"/>
<text x="1651.60" y="1351.80" font-size="15.80" text-anchor="start" textLength="14.50" lengthAdjust="spacingAndGlyphs" fill="#000">Bt</text>
<line x1="1613.10" y1="1369.90" x2="1635.90" y2="1369.90" stroke="#0000ff" stroke-width="2.08" stroke-linecap="butt"/>
<text x="1651.60" y="1374.70" font-size="15.80" text-anchor="start" textLength="18.03" lengthAdjust="spacingAndGlyphs" fill="#000">Bn</text>
<clipPath id="cts1"><rect x="117.00" y="1638.62" width="1566.00" height="221.80"/></clipPath>
<g clip-path="url(#cts1)">
<line x1="117.00" y1="1786.50" x2="1683.00" y2="1786.50" stroke="#000" stroke-width="1.00" stroke-dasharray="12.5 12.5" stroke-linecap="butt"/>
<polyline fill="none" stroke="#ff0000" stroke-width="2.08" stroke-linejoin="round" points="117.0,1694.2 128.3,1693.1 139.5,1689.6 150.8,1696.8 162.1,1710.7 173.3,1703.6 184.6,1685.9 195.9,1687.6 207.1,1688.8 218.4,1690.2 229.7,1689.6 240.9,1688.8 252.2,1685.4 263.5,1683.7 274.7,1684.5 286.0,1683.1 297.3,1680.8 308.5,1683.1 319.8,1680.2 331.1,1678.0 342.3,1676.5 353.6,1676.5 364.9,1677.1 376.1,1678.0 387.4,1679.4 398.7,1682.0 409.9,1687.9 421.2,1687.4 432.5,1689.6 443.7,1688.2 455.0,1687.9 466.3,1689.4 477.5,1688.8 488.8,1694.8 500.1,1696.5 511.3,1695.2 522.6,1695.6 533.8,1696.5 545.1,1697.0 556.4,1695.6 567.6,1696.2 578.9,1684.8 590.2,1701.3 601.4,1703.3 612.7,1704.7 624.0,1707.6 635.2,1714.7 646.5,1722.1 657.8,1721.0 669.0,1714.4 680.3,1706.2 691.6,1703.3 702.8,1708.7 714.1,1701.0 725.4,1704.4 736.6,1706.2 747.9,1713.0 759.2,1701.6 770.4,1700.2 781.7,1703.9 793.0,1695.0 804.2,1695.6 815.5,1690.5 826.8,1692.8 838.0,1693.1 849.3,1690.2 860.6,1687.9 871.8,1689.1 883.1,1682.2 894.4,1676.8 905.6,1685.4 916.9,1685.9 928.2,1686.5 939.4,1684.8 950.7,1683.7 962.0,1682.8 973.2,1682.5 984.5,1680.2 995.8,1678.8 1007.0,1680.2 1018.3,1680.5 1029.6,1678.3 1040.8,1670.6 1052.1,1679.4 1063.4,1678.8 1074.6,1678.3 1085.9,1678.8 1097.2,1676.0 1108.4,1682.8 1119.7,1680.8 1131.0,1681.1 1142.2,1683.4 1153.5,1684.5 1164.8,1684.5 1176.0,1682.0 1187.3,1683.7 1198.6,1684.8 1209.8,1682.8 1221.1,1684.2 1232.4,1683.9 1243.6,1683.7 1254.9,1681.7 1266.2,1681.7 1277.4,1682.0 1288.7,1682.8 1299.9,1683.4 1311.2,1684.8 1322.5,1687.6 1333.7,1685.9 1345.0,1687.9 1356.3,1685.1 1367.5,1681.7 1378.8,1684.2 1390.1,1682.2 1401.3,1681.4 1412.6,1682.0 1423.9,1682.5 1435.1,1682.0 1446.4,1683.4 1457.7,1683.1 1468.9,1683.4 1480.2,1684.5 1491.5,1685.9 1502.7,1687.1 1514.0,1685.1 1525.3,1685.9 1536.5,1684.2 1547.8,1687.1 1559.1,1688.8 1570.3,1687.1 1581.6,1686.8 1592.9,1686.2 1604.1,1685.9 1615.4,1685.9 1626.7,1684.5 1637.9,1683.1 1649.2,1681.7 1660.5,1678.8 1671.7,1677.1 1683.0,1684.5"/>
<polyline fill="none" stroke="#008000" stroke-width="2.08" stroke-linejoin="round" points="117.0,1808.6 128.3,1811.2 139.5,1805.8 150.8,1816.0 162.1,1826.0 173.3,1816.3 184.6,1799.5 195.9,1799.8 207.1,1800.7 218.4,1802.7 229.7,1802.7 240.9,1800.4 252.2,1803.8 263.5,1806.9 274.7,1807.5 286.0,1808.4 297.3,1803.8 308.5,1804.7 319.8,1802.4 331.1,1800.1 342.3,1797.8 353.6,1798.4 364.9,1798.7 376.1,1794.7 387.4,1791.8 398.7,1796.4 409.9,1791.8 421.2,1791.0 432.5,1793.8 443.7,1791.8 455.0,1789.0 466.3,1785.9 477.5,1786.7 488.8,1783.6 500.1,1784.4 511.3,1791.4 522.6,1794.4 533.8,1791.8 545.1,1793.0 556.4,1791.3 567.6,1790.1 578.9,1790.1 590.2,1793.6 601.4,1790.4 612.7,1790.4 624.0,1790.1 635.2,1792.1 646.5,1789.9 657.8,1789.0 669.0,1787.3 680.3,1782.2 691.6,1783.9 702.8,1783.9 714.1,1780.2 725.4,1777.3 736.6,1778.8 747.9,1774.2 759.2,1783.9 770.4,1782.2 781.7,1777.0 793.0,1785.3 804.2,1787.9 815.5,1783.6 826.8,1785.6 838.0,1778.2 849.3,1781.6 860.6,1784.2 871.8,1781.0 883.1,1787.3 894.4,1788.7 905.6,1796.7 916.9,1789.6 928.2,1784.2 939.4,1787.9 950.7,1784.2 962.0,1783.9 973.2,1781.9 984.5,1782.2 995.8,1782.5 1007.0,1781.9 1018.3,1778.8 1029.6,1780.2 1040.8,1787.0 1052.1,1781.0 1063.4,1781.9 1074.6,1783.0 1085.9,1781.6 1097.2,1782.2 1108.4,1785.3 1119.7,1781.9 1131.0,1782.7 1142.2,1777.9 1153.5,1778.2 1164.8,1779.6 1176.0,1782.7 1187.3,1784.2 1198.6,1782.2 1209.8,1785.3 1221.1,1778.8 1232.4,1779.9 1243.6,1778.8 1254.9,1781.9 1266.2,1783.0 1277.4,1786.2 1288.7,1783.0 1299.9,1779.9 1311.2,1783.6 1322.5,1784.4 1333.7,1781.6 1345.0,1779.9 1356.3,1781.3 1367.5,1780.5 1378.8,1775.9 1390.1,1773.6 1401.3,1778.2 1412.6,1779.9 1423.9,1780.5 1435.1,1775.9 1446.4,1781.9 1457.7,1786.7 1468.9,1784.7 1480.2,1788.4 1491.5,1790.7 1502.7,1785.9 1514.0,1780.7 1525.3,1776.5 1536.5,1767.9 1547.8,1763.9 1559.1,1762.0 1570.3,1773.1 1581.6,1769.6 1592.9,1769.6 1604.1,1771.9 1615.4,1760.2 1626.7,1763.9 1637.9,1764.2 1649.2,1777.6 1660.5,1785.3 1671.7,1806.1 1683.0,1822.6"/>
<polyline fill="none" stroke="#0000ff" stroke-width="2.08" stroke-linejoin="round" points="117.0,1704.7 128.3,1706.2 139.5,1709.0 150.8,1704.7 162.1,1693.9 173.3,1698.8 184.6,1705.3 195.9,1703.9 207.1,1702.2 218.4,1701.6 229.7,1702.5 240.9,1703.0 252.2,1707.6 263.5,1711.0 274.7,1710.4 286.0,1711.8 297.3,1712.4 308.5,1710.1 319.8,1713.6 331.1,1716.1 342.3,1719.0 353.6,1718.1 364.9,1717.5 376.1,1716.7 387.4,1711.0 398.7,1707.0 409.9,1702.5 421.2,1703.0 432.5,1700.7 443.7,1701.6 455.0,1699.9 466.3,1698.2 477.5,1700.2 488.8,1694.2 500.1,1692.8 511.3,1695.8 522.6,1694.5 533.8,1692.8 545.1,1691.1 556.4,1692.2 567.6,1691.1 578.9,1703.0 590.2,1687.9 601.4,1686.8 612.7,1685.4 624.0,1684.2 635.2,1679.4 646.5,1674.6 657.8,1675.1 669.0,1679.1 680.3,1683.9 691.6,1687.1 702.8,1682.5 714.1,1689.1 725.4,1685.4 736.6,1684.8 747.9,1680.8 759.2,1688.5 770.4,1689.1 781.7,1686.2 793.0,1694.2 804.2,1694.5 815.5,1698.8 826.8,1697.6 838.0,1693.9 849.3,1696.8 860.6,1699.9 871.8,1698.8 883.1,1709.0 894.4,1715.0 905.6,1704.2 916.9,1703.9 928.2,1701.6 939.4,1705.0 950.7,1706.7 962.0,1709.0 973.2,1708.4 984.5,1711.8 995.8,1713.8 1007.0,1711.6 1018.3,1709.9 1029.6,1713.0 1040.8,1726.9 1052.1,1712.7 1063.4,1711.3 1074.6,1711.6 1085.9,1711.8 1097.2,1716.7 1108.4,1706.4 1119.7,1709.9 1131.0,1709.0 1142.2,1706.2 1153.5,1705.3 1164.8,1705.3 1176.0,1707.9 1187.3,1705.0 1198.6,1703.3 1209.8,1705.0 1221.1,1703.3 1232.4,1702.7 1243.6,1703.3 1254.9,1705.3 1266.2,1705.6 1277.4,1705.6 1288.7,1704.7 1299.9,1703.9 1311.2,1702.7 1322.5,1698.8 1333.7,1700.7 1345.0,1698.5 1356.3,1701.6 1367.5,1706.4 1378.8,1703.0 1390.1,1705.3 1401.3,1706.2 1412.6,1705.3 1423.9,1704.4 1435.1,1705.9 1446.4,1703.9 1457.7,1703.3 1468.9,1703.3 1480.2,1703.3 1491.5,1701.9 1502.7,1701.0 1514.0,1702.2 1525.3,1701.6 1536.5,1705.6 1547.8,1702.2 1559.1,1701.0 1570.3,1701.0 1581.6,1701.9 1592.9,1702.5 1604.1,1701.9 1615.4,1703.0 1626.7,1705.9 1637.9,1708.7 1649.2,1711.6 1660.5,1714.4 1671.7,1714.1 1683.0,1712.4"/>
<polyline fill="none" stroke="#000000" stroke-width="2.08" stroke-linejoin="round" points="117.0,1661.2 128.3,1660.9 139.5,1660.9 150.8,1660.9 162.1,1660.0 173.3,1661.7 184.6,1656.3 195.9,1656.3 207.1,1656.0 218.4,1656.6 229.7,1656.9 240.9,1656.9 252.2,1656.6 263.5,1657.2 274.7,1657.5 286.0,1656.9 297.3,1656.0 308.5,1656.6 319.8,1656.6 331.1,1656.3 342.3,1656.9 353.6,1656.3 364.9,1656.3 376.1,1656.9 387.4,1654.9 398.7,1654.6 409.9,1656.6 421.2,1656.6 432.5,1656.6 443.7,1656.0 455.0,1655.2 466.3,1655.2 477.5,1656.0 488.8,1656.3 500.1,1656.3 511.3,1657.5 522.6,1656.6 533.8,1656.0 545.1,1655.5 556.4,1655.5 567.6,1655.2 578.9,1654.9 590.2,1656.0 601.4,1656.6 612.7,1656.6 624.0,1656.9 635.2,1657.2 646.5,1657.5 657.8,1657.5 669.0,1656.9 680.3,1656.0 691.6,1656.3 702.8,1656.3 714.1,1656.0 725.4,1655.2 736.6,1656.3 747.9,1656.6 759.2,1656.6 770.4,1656.3 781.7,1656.0 793.0,1656.3 804.2,1656.9 815.5,1656.3 826.8,1657.2 838.0,1654.9 849.3,1654.9 860.6,1654.9 871.8,1655.2 883.1,1656.3 894.4,1655.5 905.6,1655.8 916.9,1656.0 928.2,1655.2 939.4,1656.0 950.7,1656.3 962.0,1656.9 973.2,1656.6 984.5,1656.6 995.8,1656.3 1007.0,1656.0 1018.3,1655.2 1029.6,1655.2 1040.8,1655.8 1052.1,1656.0 1063.4,1655.2 1074.6,1654.9 1085.9,1655.5 1097.2,1656.0 1108.4,1656.0 1119.7,1656.0 1131.0,1655.8 1142.2,1655.5 1153.5,1655.8 1164.8,1656.0 1176.0,1655.8 1187.3,1655.2 1198.6,1654.9 1209.8,1654.9 1221.1,1654.6 1232.4,1654.1 1243.6,1654.3 1254.9,1654.1 1266.2,1654.1 1277.4,1654.3 1288.7,1654.3 1299.9,1654.3 1311.2,1654.6 1322.5,1654.6 1333.7,1654.3 1345.0,1654.1 1356.3,1654.3 1367.5,1654.6 1378.8,1654.1 1390.1,1654.1 1401.3,1654.1 1412.6,1654.1 1423.9,1654.3 1435.1,1654.3 1446.4,1654.3 1457.7,1654.1 1468.9,1654.1 1480.2,1654.9 1491.5,1654.9 1502.7,1654.9 1514.0,1654.3 1525.3,1654.1 1536.5,1654.6 1547.8,1654.1 1559.1,1654.1 1570.3,1654.3 1581.6,1654.3 1592.9,1654.3 1604.1,1654.3 1615.4,1654.3 1626.7,1654.3 1637.9,1654.3 1649.2,1654.3 1660.5,1654.3 1671.7,1654.6 1683.0,1656.6"/>
</g>
<rect x="117" y="1639" width="1566" height="221" fill="none" stroke="#000" stroke-width="2"/>
<line x1="241.50" y1="1860.00" x2="241.50" y2="1851.67" stroke="#000" stroke-width="1.00" stroke-linecap="butt"/>
<line x1="241.50" y1="1639.00" x2="241.50" y2="1647.33" stroke="#000" stroke-width="1.00" stroke-linecap="butt"/>
<text x="240.80" y="1882.92" font-size="17.17" text-anchor="middle" textLength="126.79" lengthAdjust="spacingAndGlyphs" fill="#000">06/25 15:48:09</text>
<line x1="410.50" y1="1860.00" x2="410.50" y2="1851.67" stroke="#000" stroke-width="1.00" stroke-linecap="butt"/>
<line x1="410.50" y1="1639.00" x2="410.50" y2="1647.33" stroke="#000" stroke-width="1.00" stroke-linecap="butt"/>
<text x="409.79" y="1882.92" font-size="17.17" text-anchor="middle" textLength="126.79" lengthAdjust="spacingAndGlyphs" fill="#000">06/25 15:48:24</text>
<line x1="579.50" y1="1860.00" x2="579.50" y2="1851.67" stroke="#000" stroke-width="1.00" stroke-linecap="butt"/>
<line x1="579.50" y1="1639.00" x2="579.50" y2="1647.33" stroke="#000" stroke-width="1.00" stroke-linecap="butt"/>
<text x="578.78" y="1882.92" font-size="17.17" text-anchor="middle" textLength="126.79" lengthAdjust="spacingAndGlyphs" fill="#000">06/25 15:48:39</text>
<line x1="748.50" y1="1860.00" x2="748.50" y2="1851.67" stroke="#000" stroke-width="1.00" stroke-linecap="butt"/>
<line x1="748.50" y1="1639.00" x2="748.50" y2="1647.33" stroke="#000" stroke-width="1.00" stroke-linecap="butt"/>
<text x="747.77" y="1882.92" font-size="17.17" text-anchor="middle" textLength="126.79" lengthAdjust="spacingAndGlyphs" fill="#000">06/25 15:48:54</text>
<line x1="917.50" y1="1860.00" x2="917.50" y2="1851.67" stroke="#000" stroke-width="1.00" stroke-linecap="butt"/>
<line x1="917.50" y1="1639.00" x2="917.50" y2="1647.33" stroke="#000" stroke-width="1.00" stroke-linecap="butt"/>
<text x="916.76" y="1882.92" font-size="17.17" text-anchor="middle" textLength="126.79" lengthAdjust="spacingAndGlyphs" fill="#000">06/25 15:49:09</text>
<line x1="1086.50" y1="1860.00" x2="1086.50" y2="1851.67" stroke="#000" stroke-width="1.00" stroke-linecap="butt"/>
<line x1="1086.50" y1="1639.00" x2="1086.50" y2="1647.33" stroke="#000" stroke-width="1.00" stroke-linecap="butt"/>
<text x="1085.75" y="1882.92" font-size="17.17" text-anchor="middle" textLength="126.79" lengthAdjust="spacingAndGlyphs" fill="#000">06/25 15:49:24</text>
<line x1="1255.50" y1="1860.00" x2="1255.50" y2="1851.67" stroke="#000" stroke-width="1.00" stroke-linecap="butt"/>
<line x1="1255.50" y1="1639.00" x2="1255.50" y2="1647.33" stroke="#000" stroke-width="1.00" stroke-linecap="butt"/>
<text x="1254.74" y="1882.92" font-size="17.17" text-anchor="middle" textLength="126.79" lengthAdjust="spacingAndGlyphs" fill="#000">06/25 15:49:39</text>
<line x1="1424.50" y1="1860.00" x2="1424.50" y2="1851.67" stroke="#000" stroke-width="1.00" stroke-linecap="butt"/>
<line x1="1424.50" y1="1639.00" x2="1424.50" y2="1647.33" stroke="#000" stroke-width="1.00" stroke-linecap="butt"/>
<text x="1423.73" y="1882.92" font-size="17.17" text-anchor="middle" textLength="126.79" lengthAdjust="spacingAndGlyphs" fill="#000">06/25 15:49:54</text>
<line x1="1593.50" y1="1860.00" x2="1593.50" y2="1851.67" stroke="#000" stroke-width="1.00" stroke-linecap="butt"/>
<line x1="1593.50" y1="1639.00" x2="1593.50" y2="1647.33" stroke="#000" stroke-width="1.00" stroke-linecap="butt"/>
<text x="1592.72" y="1882.92" font-size="17.17" text-anchor="middle" textLength="126.79" lengthAdjust="spacingAndGlyphs" fill="#000">06/25 15:50:09</text>
<line x1="117.00" y1="1860.50" x2="125.33" y2="1860.50" stroke="#000" stroke-width="1.00" stroke-linecap="butt"/>
<line x1="1683.00" y1="1860.50" x2="1674.67" y2="1860.50" stroke="#000" stroke-width="1.00" stroke-linecap="butt"/>
<text x="107.84" y="1865.32" font-size="17.17" text-anchor="end" textLength="33.76" lengthAdjust="spacingAndGlyphs" fill="#000">−40</text>
<line x1="117.00" y1="1823.50" x2="125.33" y2="1823.50" stroke="#000" stroke-width="1.00" stroke-linecap="butt"/>
<line x1="1683.00" y1="1823.50" x2="1674.67" y2="1823.50" stroke="#000" stroke-width="1.00" stroke-linecap="butt"/>
<text x="107.84" y="1828.35" font-size="17.17" text-anchor="end" textLength="33.76" lengthAdjust="spacingAndGlyphs" fill="#000">−20</text>
<line x1="117.00" y1="1786.50" x2="125.33" y2="1786.50" stroke="#000" stroke-width="1.00" stroke-linecap="butt"/>
<line x1="1683.00" y1="1786.50" x2="1674.67" y2="1786.50" stroke="#000" stroke-width="1.00" stroke-linecap="butt"/>
<text x="107.84" y="1791.39" font-size="17.17" text-anchor="end" textLength="9.19" lengthAdjust="spacingAndGlyphs" fill="#000">0</text>
<line x1="117.00" y1="1750.50" x2="125.33" y2="1750.50" stroke="#000" stroke-width="1.00" stroke-linecap="butt"/>
<line x1="1683.00" y1="1750.50" x2="1674.67" y2="1750.50" stroke="#000" stroke-width="1.00" stroke-linecap="butt"/>
<text x="107.84" y="1754.42" font-size="17.17" text-anchor="end" textLength="19.80" lengthAdjust="spacingAndGlyphs" fill="#000">20</text>
<line x1="117.00" y1="1713.50" x2="125.33" y2="1713.50" stroke="#000" stroke-width="1.00" stroke-linecap="butt"/>
<line x1="1683.00" y1="1713.50" x2="1674.67" y2="1713.50" stroke="#000" stroke-width="1.00" stroke-linecap="butt"/>
<text x="107.84" y="1717.45" font-size="17.17" text-anchor="end" textLength="19.80" lengthAdjust="spacingAndGlyphs" fill="#000">40</text>
<line x1="117.00" y1="1676.50" x2="125.33" y2="1676.50" stroke="#000" stroke-width="1.00" stroke-linecap="butt"/>
<line x1="1683.00" y1="1676.50" x2="1674.67" y2="1676.50" stroke="#000" stroke-width="1.00" stroke-linecap="butt"/>
<text x="107.84" y="1680.49" font-size="17.17" text-anchor="end" textLength="19.80" lengthAdjust="spacingAndGlyphs" fill="#000">60</text>
<line x1="117.00" y1="1639.50" x2="125.33" y2="1639.50" stroke="#000" stroke-width="1.00" stroke-linecap="butt"/>
<line x1="1683.00" y1="1639.50" x2="1674.67" y2="1639.50" stroke="#000" stroke-width="1.00" stroke-linecap="butt"/>
<text x="107.84" y="1643.52" font-size="17.17" text-anchor="end" textLength="19.80" lengthAdjust="spacingAndGlyphs" fill="#000">80</text>
<text x="900.00" y="1628.62" font-size="24.00" text-anchor="middle" textLength="385.85" lengthAdjust="spacingAndGlyphs" fill="#000">Magnetic Field (Flux Rope Frame)</text>
<text x="58.20" y="1751.02" font-size="17.17" text-anchor="middle" textLength="43.77" lengthAdjust="spacingAndGlyphs" fill="#000" transform="rotate(-90 58.20 1751.02)">B(nT)</text>
<rect x="1601" y="1646" width="75" height="94" fill="#fff" stroke="#000" stroke-width="2"/>
<line x1="1610.30" y1="1658.90" x2="1631.60" y2="1658.90" stroke="#ff0000" stroke-width="2.08" stroke-linecap="butt"/>
<text x="1648.70" y="1663.70" font-size="15.80" text-anchor="start" textLength="21.43" lengthAdjust="spacingAndGlyphs" fill="#000">Bx'</text>
<line x1="1610.30" y1="1680.80" x2="1631.60" y2="1680.80" stroke="#008000" stroke-width="2.08" stroke-linecap="butt"/>
<text x="1648.70" y="1685.60" font-size="15.80" text-anchor="start" textLength="21.43" lengthAdjust="spacingAndGlyphs" fill="#000">By'</text>
<line x1="1610.30" y1="1702.80" x2="1631.60" y2="1702.80" stroke="#0000ff" stroke-width="2.08" stroke-linecap="butt"/>
<text x="1648.70" y="1707.60" font-size="15.80" text-anchor="start" textLength="20.45" lengthAdjust="spacingAndGlyphs" fill="#000">Bz'</text>
<line x1="1610.30" y1="1725.00" x2="1631.60" y2="1725.00" stroke="#000000" stroke-width="2.08" stroke-linecap="butt"/>
<text x="1648.70" y="1729.80" font-size="15.80" text-anchor="start" textLength="18.61" lengthAdjust="spacingAndGlyphs" fill="#000">|B|</text>
<clipPath id="cts2"><rect x="117.00" y="1972.34" width="1566.00" height="221.80"/></clipPath>
<g clip-path="url(#cts2)">
<polyline fill="none" stroke="#ff0000" stroke-width="2.08" stroke-linejoin="round" points="117.0,1998.0 128.3,1998.9 139.5,1998.9 150.8,1995.7 162.1,1990.9 173.3,1996.3 184.6,1998.0 195.9,1997.4 207.1,1996.6 218.4,1996.3 229.7,1997.4 240.9,1996.6 252.2,1999.2 263.5,2000.3 274.7,1999.4 286.0,2000.6 297.3,2001.1 308.5,2000.9 319.8,2002.0 331.1,2002.9 342.3,2003.1 353.6,2002.6 364.9,2003.1 376.1,2001.4 387.4,1999.7 398.7,1997.7 409.9,1997.7 421.2,1996.9 432.5,1996.0 443.7,1997.4 455.0,1995.5 466.3,1994.3 477.5,1995.7 488.8,1992.9 500.1,1993.2 511.3,1994.9 522.6,1993.7 533.8,1993.7 545.1,1992.6 556.4,1992.0 567.6,1992.0 578.9,1995.7 590.2,1991.2 601.4,1990.6 612.7,1989.8 624.0,1990.3 635.2,1985.8 646.5,1984.9 657.8,1985.8 669.0,1986.6 680.3,1989.8 691.6,1990.0 702.8,1989.5 714.1,1990.9 725.4,1988.6 736.6,1989.2 747.9,1988.1 759.2,1992.6 770.4,1992.6 781.7,1991.5 793.0,1994.9 804.2,1993.2 815.5,1995.7 826.8,1992.9 838.0,1994.3 849.3,1995.2 860.6,1996.0 871.8,1997.7 883.1,2000.0 894.4,2000.9 905.6,1998.0 916.9,1998.9 928.2,1997.2 939.4,1998.6 950.7,1998.3 962.0,1998.9 973.2,1999.2 984.5,2000.6 995.8,2000.6 1007.0,2000.9 1018.3,1999.2 1029.6,2000.9 1040.8,2005.7 1052.1,1998.9 1063.4,2000.0 1074.6,2000.0 1085.9,2000.9 1097.2,1999.7 1108.4,1998.3 1119.7,1999.2 1131.0,1998.0 1142.2,1997.7 1153.5,1997.7 1164.8,1998.0 1176.0,1997.7 1187.3,1997.2 1198.6,1996.9 1209.8,1997.2 1221.1,1996.6 1232.4,1996.6 1243.6,1997.4 1254.9,1998.3 1266.2,1998.9 1277.4,1998.3 1288.7,1997.4 1299.9,1997.2 1311.2,1997.2 1322.5,1996.0 1333.7,1996.6 1345.0,1994.6 1356.3,1996.6 1367.5,1998.9 1378.8,1994.9 1390.1,1998.0 1401.3,1998.0 1412.6,1997.4 1423.9,1997.4 1435.1,1997.2 1446.4,1997.7 1457.7,1998.0 1468.9,1997.7 1480.2,1997.4 1491.5,1996.6 1502.7,1996.9 1514.0,1996.3 1525.3,1996.0 1536.5,1996.0 1547.8,1995.7 1559.1,1995.5 1570.3,1994.9 1581.6,1995.7 1592.9,1996.3 1604.1,1997.2 1615.4,1997.7 1626.7,1998.3 1637.9,1998.9 1649.2,1999.4 1660.5,2000.0 1671.7,2000.6 1683.0,2001.1"/>
<polyline fill="none" stroke="#008000" stroke-width="2.08" stroke-linejoin="round" points="117.0,2176.2 128.3,2176.0 139.5,2176.5 150.8,2179.9 162.1,2183.4 173.3,2174.8 184.6,2173.1 195.9,2172.3 207.1,2172.5 218.4,2172.8 229.7,2172.5 240.9,2176.8 252.2,2171.7 263.5,2173.1 274.7,2174.0 286.0,2172.5 297.3,2171.1 308.5,2172.0 319.8,2170.0 331.1,2169.4 342.3,2169.4 353.6,2169.4 364.9,2169.7 376.1,2169.1 387.4,2168.3 398.7,2173.1 409.9,2168.8 421.2,2169.4 432.5,2170.3 443.7,2168.8 455.0,2168.3 466.3,2169.4 477.5,2168.0 488.8,2168.3 500.1,2168.3 511.3,2169.8 522.6,2172.0 533.8,2171.7 545.1,2171.4 556.4,2171.1 567.6,2173.4 578.9,2170.0 590.2,2172.3 601.4,2172.8 612.7,2172.0 624.0,2171.4 635.2,2172.5 646.5,2172.5 657.8,2172.3 669.0,2172.0 680.3,2168.6 691.6,2169.7 702.8,2169.4 714.1,2168.6 725.4,2171.1 736.6,2169.7 747.9,2168.8 759.2,2168.6 770.4,2167.4 781.7,2168.0 793.0,2167.7 804.2,2169.1 815.5,2167.7 826.8,2169.1 838.0,2167.1 849.3,2166.3 860.6,2166.8 871.8,2166.3 883.1,2167.7 894.4,2169.8 905.6,2169.1 916.9,2168.3 928.2,2167.4 939.4,2168.8 950.7,2166.8 962.0,2167.4 973.2,2166.8 984.5,2166.3 995.8,2166.3 1007.0,2166.3 1018.3,2166.0 1029.6,2166.3 1040.8,2165.7 1052.1,2168.3 1063.4,2167.1 1074.6,2166.0 1085.9,2167.1 1097.2,2168.8 1108.4,2167.1 1119.7,2166.8 1131.0,2166.3 1142.2,2166.0 1153.5,2166.0 1164.8,2166.8 1176.0,2167.4 1187.3,2168.3 1198.6,2167.1 1209.8,2170.0 1221.1,2166.3 1232.4,2167.1 1243.6,2167.1 1254.9,2168.0 1266.2,2168.3 1277.4,2168.6 1288.7,2166.8 1299.9,2167.1 1311.2,2169.1 1322.5,2168.0 1333.7,2168.8 1345.0,2167.1 1356.3,2168.3 1367.5,2166.8 1378.8,2168.8 1390.1,2164.9 1401.3,2166.3 1412.6,2166.8 1423.9,2167.1 1435.1,2164.9 1446.4,2168.0 1457.7,2167.7 1468.9,2168.0 1480.2,2169.4 1491.5,2169.1 1502.7,2168.3 1514.0,2166.0 1525.3,2165.4 1536.5,2166.6 1547.8,2164.3 1559.1,2164.3 1570.3,2164.9 1581.6,2162.3 1592.9,2164.0 1604.1,2162.9 1615.4,2162.0 1626.7,2158.6 1637.9,2160.6 1649.2,2166.0 1660.5,2166.8 1671.7,2174.5 1683.0,2177.1"/>
<polyline fill="none" stroke="#0000ff" stroke-width="2.08" stroke-linejoin="round" points="117.0,2172.5 128.3,2171.7 139.5,2172.0 150.8,2170.5 162.1,2172.3 173.3,2169.1 184.6,2170.8 195.9,2170.3 207.1,2170.8 218.4,2171.1 229.7,2171.4 240.9,2174.5 252.2,2169.4 263.5,2168.3 274.7,2168.8 286.0,2167.7 297.3,2167.4 308.5,2167.7 319.8,2167.1 331.1,2166.6 342.3,2167.1 353.6,2166.3 364.9,2166.8 376.1,2166.6 387.4,2168.0 398.7,2173.1 409.9,2170.8 421.2,2170.8 432.5,2171.1 443.7,2171.1 455.0,2170.8 466.3,2171.4 477.5,2172.0 488.8,2173.7 500.1,2172.8 511.3,2171.5 522.6,2174.0 533.8,2173.4 545.1,2172.5 556.4,2174.0 567.6,2175.4 578.9,2172.3 590.2,2174.5 601.4,2176.2 612.7,2175.4 624.0,2174.5 635.2,2175.4 646.5,2175.7 657.8,2175.7 669.0,2176.0 680.3,2174.8 691.6,2174.2 702.8,2174.8 714.1,2173.7 725.4,2177.4 736.6,2175.4 747.9,2175.4 759.2,2173.1 770.4,2172.5 781.7,2174.0 793.0,2171.4 804.2,2171.4 815.5,2171.1 826.8,2174.0 838.0,2172.5 849.3,2170.5 860.6,2170.8 871.8,2170.3 883.1,2169.7 894.4,2171.4 905.6,2171.1 916.9,2171.1 928.2,2171.1 939.4,2171.4 950.7,2170.8 962.0,2171.1 973.2,2170.5 984.5,2170.0 995.8,2169.4 1007.0,2170.0 1018.3,2170.5 1029.6,2169.1 1040.8,2166.3 1052.1,2172.8 1063.4,2169.7 1074.6,2169.4 1085.9,2168.6 1097.2,2170.5 1108.4,2171.1 1119.7,2170.8 1131.0,2170.5 1142.2,2172.0 1153.5,2171.7 1164.8,2171.1 1176.0,2171.1 1187.3,2171.7 1198.6,2171.4 1209.8,2173.4 1221.1,2171.4 1232.4,2171.7 1243.6,2171.4 1254.9,2171.1 1266.2,2171.1 1277.4,2170.5 1288.7,2171.1 1299.9,2171.4 1311.2,2171.7 1322.5,2171.4 1333.7,2172.0 1345.0,2172.5 1356.3,2172.0 1367.5,2170.5 1378.8,2174.8 1390.1,2171.7 1401.3,2171.1 1412.6,2170.8 1423.9,2171.1 1435.1,2170.8 1446.4,2170.8 1457.7,2170.5 1468.9,2170.5 1480.2,2171.7 1491.5,2170.5 1502.7,2172.3 1514.0,2171.7 1525.3,2170.8 1536.5,2174.2 1547.8,2170.8 1559.1,2170.5 1570.3,2170.5 1581.6,2169.1 1592.9,2170.3 1604.1,2170.5 1615.4,2170.3 1626.7,2169.7 1637.9,2169.4 1649.2,2168.8 1660.5,2168.3 1671.7,2168.8 1683.0,2169.1"/>
</g>
<rect x="117" y="1972" width="1566" height="222" fill="none" stroke="#000" stroke-width="2"/>
<line x1="241.50" y1="2194.00" x2="241.50" y2="2185.67" stroke="#000" stroke-width="1.00" stroke-linecap="butt"/>
<line x1="241.50" y1="1972.00" x2="241.50" y2="1980.33" stroke="#000" stroke-width="1.00" stroke-linecap="butt"/>
<text x="240.80" y="2216.64" font-size="17.17" text-anchor="middle" textLength="126.79" lengthAdjust="spacingAndGlyphs" fill="#000">06/25 15:48:09</text>
<line x1="410.50" y1="2194.00" x2="410.50" y2="2185.67" stroke="#000" stroke-width="1.00" stroke-linecap="butt"/>
<line x1="410.50" y1="1972.00" x2="410.50" y2="1980.33" stroke="#000" stroke-width="1.00" stroke-linecap="butt"/>
<text x="409.79" y="2216.64" font-size="17.17" text-anchor="middle" textLength="126.79" lengthAdjust="spacingAndGlyphs" fill="#000">06/25 15:48:24</text>
<line x1="579.50" y1="2194.00" x2="579.50" y2="2185.67" stroke="#000" stroke-width="1.00" stroke-linecap="butt"/>
<line x1="579.50" y1="1972.00" x2="579.50" y2="1980.33" stroke="#000" stroke-width="1.00" stroke-linecap="butt"/>
<text x="578.78" y="2216.64" font-size="17.17" text-anchor="middle" textLength="126.79" lengthAdjust="spacingAndGlyphs" fill="#000">06/25 15:48:39</text>
<line x1="748.50" y1="2194.00" x2="748.50" y2="2185.67" stroke="#000" stroke-width="1.00" stroke-linecap="butt"/>
<line x1="748.50" y1="1972.00" x2="748.50" y2="1980.33" stroke="#000" stroke-width="1.00" stroke-linecap="butt"/>
<text x="747.77" y="2216.64" font-size="17.17" text-anchor="middle" textLength="126.79" lengthAdjust="spacingAndGlyphs" fill="#000">06/25 15:48:54</text>
<line x1="917.50" y1="2194.00" x2="917.50" y2="2185.67" stroke="#000" stroke-width="1.00" stroke-linecap="butt"/>
<line x1="917.50" y1="1972.00" x2="917.50" y2="1980.33" stroke="#000" stroke-width="1.00" stroke-linecap="butt"/>
<text x="916.76" y="2216.64" font-size="17.17" text-anchor="middle" textLength="126.79" lengthAdjust="spacingAndGlyphs" fill="#000">06/25 15:49:09</text>
<line x1="1086.50" y1="2194.00" x2="1086.50" y2="2185.67" stroke="#000" stroke-width="1.00" stroke-linecap="butt"/>
<line x1="1086.50" y1="1972.00" x2="1086.50" y2="1980.33" stroke="#000" stroke-width="1.00" stroke-linecap="butt"/>
<text x="1085.75" y="2216.64" font-size="17.17" text-anchor="middle" textLength="126.79" lengthAdjust="spacingAndGlyphs" fill="#000">06/25 15:49:24</text>
<line x1="1255.50" y1="2194.00" x2="1255.50" y2="2185.67" stroke="#000" stroke-width="1.00" stroke-linecap="butt"/>
<line x1="1255.50" y1="1972.00" x2="1255.50" y2="1980.33" stroke="#000" stroke-width="1.00" stroke-linecap="butt"/>
<text x="1254.74" y="2216.64" font-size="17.17" text-anchor="middle" textLength="126.79" lengthAdjust="spacingAndGlyphs" fill="#000">06/25 15:49:39</text>
<line x1="1424.50" y1="2194.00" x2="1424.50" y2="2185.67" stroke="#000" stroke-width="1.00" stroke-linecap="butt"/>
<line x1="1424.50" y1="1972.00" x2="1424.50" y2="1980.33" stroke="#000" stroke-width="1.00" stroke-linecap="butt"/>
<text x="1423.73" y="2216.64" font-size="17.17" text-anchor="middle" textLength="126.79" lengthAdjust="spacingAndGlyphs" fill="#000">06/25 15:49:54</text>
<line x1="1593.50" y1="2194.00" x2="1593.50" y2="2185.67" stroke="#000" stroke-width="1.00" stroke-linecap="butt"/>
<line x1="1593.50" y1="1972.00" x2="1593.50" y2="1980.33" stroke="#000" stroke-width="1.00" stroke-linecap="butt"/>
<text x="1592.72" y="2216.64" font-size="17.17" text-anchor="middle" textLength="126.79" lengthAdjust="spacingAndGlyphs" fill="#000">06/25 15:50:09</text>
<line x1="117.00" y1="2194.50" x2="125.33" y2="2194.50" stroke="#000" stroke-width="1.00" stroke-linecap="butt"/>
<line x1="1683.00" y1="2194.50" x2="1674.67" y2="2194.50" stroke="#000" stroke-width="1.00" stroke-linecap="butt"/>
<text x="107.84" y="2199.04" font-size="17.17" text-anchor="end" textLength="44.37" lengthAdjust="spacingAndGlyphs" fill="#000">−100</text>
<line x1="117.00" y1="2150.50" x2="125.33" y2="2150.50" stroke="#000" stroke-width="1.00" stroke-linecap="butt"/>
<line x1="1683.00" y1="2150.50" x2="1674.67" y2="2150.50" stroke="#000" stroke-width="1.00" stroke-linecap="butt"/>
<text x="107.84" y="2154.68" font-size="17.17" text-anchor="end" textLength="9.19" lengthAdjust="spacingAndGlyphs" fill="#000">0</text>
<line x1="117.00" y1="2105.50" x2="125.33" y2="2105.50" stroke="#000" stroke-width="1.00" stroke-linecap="butt"/>
<line x1="1683.00" y1="2105.50" x2="1674.67" y2="2105.50" stroke="#000" stroke-width="1.00" stroke-linecap="butt"/>
<text x="107.84" y="2110.32" font-size="17.17" text-anchor="end" textLength="30.40" lengthAdjust="spacingAndGlyphs" fill="#000">100</text>
<line x1="117.00" y1="2061.50" x2="125.33" y2="2061.50" stroke="#000" stroke-width="1.00" stroke-linecap="butt"/>
<line x1="1683.00" y1="2061.50" x2="1674.67" y2="2061.50" stroke="#000" stroke-width="1.00" stroke-linecap="butt"/>
<text x="107.84" y="2065.96" font-size="17.17" text-anchor="end" textLength="30.40" lengthAdjust="spacingAndGlyphs" fill="#000">200</text>
<line x1="117.00" y1="2017.50" x2="125.33" y2="2017.50" stroke="#000" stroke-width="1.00" stroke-linecap="butt"/>
<line x1="1683.00" y1="2017.50" x2="1674.67" y2="2017.50" stroke="#000" stroke-width="1.00" stroke-linecap="butt"/>
<text x="107.84" y="2021.60" font-size="17.17" text-anchor="end" textLength="30.40" lengthAdjust="spacingAndGlyphs" fill="#000">300</text>
<line x1="117.00" y1="1972.50" x2="125.33" y2="1972.50" stroke="#000" stroke-width="1.00" stroke-linecap="butt"/>
<line x1="1683.00" y1="1972.50" x2="1674.67" y2="1972.50" stroke="#000" stroke-width="1.00" stroke-linecap="butt"/>
<text x="107.84" y="1977.24" font-size="17.17" text-anchor="end" textLength="30.40" lengthAdjust="spacingAndGlyphs" fill="#000">400</text>
<text x="900.00" y="1962.34" font-size="24.00" text-anchor="middle" textLength="373.92" lengthAdjust="spacingAndGlyphs" fill="#000">Solar Wind Velocity (RTN Frame)</text>
<text x="47.60" y="2084.74" font-size="17.17" text-anchor="middle" textLength="85.51" lengthAdjust="spacingAndGlyphs" fill="#000" transform="rotate(-90 47.60 2084.74)">Vsw(km/s)</text>
<rect x="1604" y="1979" width="72" height="72" fill="#fff" stroke="#000" stroke-width="2"/>
<line x1="1613.10" y1="1992.10" x2="1635.90" y2="1992.10" stroke="#ff0000" stroke-width="2.08" stroke-linecap="butt"/>
<text x="1651.60" y="1996.90" font-size="15.80" text-anchor="start" textLength="14.75" lengthAdjust="spacingAndGlyphs" fill="#000">Vr</text>
<line x1="1613.10" y1="2014.40" x2="1635.90" y2="2014.40" stroke="#008000" stroke-width="2.08" stroke-linecap="butt"/>
<text x="1651.60" y="2019.20" font-size="15.80" text-anchor="start" textLength="14.47" lengthAdjust="spacingAndGlyphs" fill="#000">Vt</text>
<line x1="1613.10" y1="2037.00" x2="1635.90" y2="2037.00" stroke="#0000ff" stroke-width="2.08" stroke-linecap="butt"/>
<text x="1651.60" y="2041.80" font-size="15.80" text-anchor="start" textLength="18.00" lengthAdjust="spacingAndGlyphs" fill="#000">Vn</text>
<clipPath id="cts3"><rect x="117.00" y="2306.06" width="1566.00" height="221.80"/></clipPath>
<g clip-path="url(#cts3)">
<polyline fill="none" stroke="#0000ff" stroke-width="2.08" stroke-linejoin="round" points="117.0,2368.7 128.3,2319.8 139.5,2322.6 150.8,2321.5 162.1,2435.6 173.3,2429.7 184.6,2450.5 195.9,2424.8 207.1,2453.6 218.4,2466.1 229.7,2434.8 240.9,2406.6 252.2,2445.0 263.5,2376.4 274.7,2444.8 286.0,2433.4 297.3,2444.2 308.5,2422.6 319.8,2426.3 331.1,2391.5 342.3,2390.1 353.6,2415.4 364.9,2381.8 376.1,2412.3 387.4,2457.9 398.7,2419.7 409.9,2416.3 421.2,2453.3 432.5,2454.4 443.7,2461.6 455.0,2484.3 466.3,2491.2 477.5,2452.7 488.8,2465.8 500.1,2465.5 511.3,2464.3 522.6,2381.3 533.8,2436.5 545.1,2511.1 556.4,2476.4 567.6,2504.3 578.9,2462.1 590.2,2465.3 601.4,2429.1 612.7,2467.8 624.0,2452.7 635.2,2463.5 646.5,2496.3 657.8,2483.8 669.0,2506.0 680.3,2472.1 691.6,2486.0 702.8,2471.8 714.1,2449.9 725.4,2447.9 736.6,2476.9 747.9,2518.2 759.2,2435.9 770.4,2470.7 781.7,2473.8 793.0,2448.2 804.2,2488.3 815.5,2461.6 826.8,2418.3 838.0,2502.8 849.3,2475.5 860.6,2492.6 871.8,2441.1 883.1,2457.6 894.4,2442.5 905.6,2481.8 916.9,2416.9 928.2,2464.7 939.4,2460.7 950.7,2460.7 962.0,2432.2 973.2,2438.8 984.5,2418.3 995.8,2438.2 1007.0,2396.4 1018.3,2454.7 1029.6,2426.3 1040.8,2419.7 1052.1,2382.1 1063.4,2452.2 1074.6,2468.1 1085.9,2441.1 1097.2,2419.1 1108.4,2456.1 1119.7,2447.0 1131.0,2486.3 1142.2,2466.1 1153.5,2454.2 1164.8,2428.8 1176.0,2477.2 1187.3,2470.7 1198.6,2474.1 1209.8,2441.6 1221.1,2491.4 1232.4,2480.6 1243.6,2480.1 1254.9,2469.5 1266.2,2447.6 1277.4,2467.8 1288.7,2474.9 1299.9,2477.5 1311.2,2443.3 1322.5,2461.3 1333.7,2486.9 1345.0,2486.6 1356.3,2476.4 1367.5,2458.4 1378.8,2454.7 1390.1,2457.9 1401.3,2474.1 1412.6,2483.8 1423.9,2473.5 1435.1,2491.2 1446.4,2463.5 1457.7,2459.8 1468.9,2436.2 1480.2,2441.1 1491.5,2456.4 1502.7,2444.8 1514.0,2483.8 1525.3,2475.5 1536.5,2437.6 1547.8,2492.6 1559.1,2474.9 1570.3,2480.9 1581.6,2480.3 1592.9,2472.7 1604.1,2443.9 1615.4,2447.9 1626.7,2495.7 1637.9,2482.9 1649.2,2478.9 1660.5,2470.7 1671.7,2462.7 1683.0,2435.6"/>
</g>
<rect x="117" y="2306" width="1566" height="222" fill="none" stroke="#000" stroke-width="2"/>
<line x1="241.50" y1="2528.00" x2="241.50" y2="2519.67" stroke="#000" stroke-width="1.00" stroke-linecap="butt"/>
<line x1="241.50" y1="2306.00" x2="241.50" y2="2314.33" stroke="#000" stroke-width="1.00" stroke-linecap="butt"/>
<text x="240.80" y="2550.36" font-size="17.17" text-anchor="middle" textLength="126.79" lengthAdjust="spacingAndGlyphs" fill="#000">06/25 15:48:09</text>
<line x1="410.50" y1="2528.00" x2="410.50" y2="2519.67" stroke="#000" stroke-width="1.00" stroke-linecap="butt"/>
<line x1="410.50" y1="2306.00" x2="410.50" y2="2314.33" stroke="#000" stroke-width="1.00" stroke-linecap="butt"/>
<text x="409.79" y="2550.36" font-size="17.17" text-anchor="middle" textLength="126.79" lengthAdjust="spacingAndGlyphs" fill="#000">06/25 15:48:24</text>
<line x1="579.50" y1="2528.00" x2="579.50" y2="2519.67" stroke="#000" stroke-width="1.00" stroke-linecap="butt"/>
<line x1="579.50" y1="2306.00" x2="579.50" y2="2314.33" stroke="#000" stroke-width="1.00" stroke-linecap="butt"/>
<text x="578.78" y="2550.36" font-size="17.17" text-anchor="middle" textLength="126.79" lengthAdjust="spacingAndGlyphs" fill="#000">06/25 15:48:39</text>
<line x1="748.50" y1="2528.00" x2="748.50" y2="2519.67" stroke="#000" stroke-width="1.00" stroke-linecap="butt"/>
<line x1="748.50" y1="2306.00" x2="748.50" y2="2314.33" stroke="#000" stroke-width="1.00" stroke-linecap="butt"/>
<text x="747.77" y="2550.36" font-size="17.17" text-anchor="middle" textLength="126.79" lengthAdjust="spacingAndGlyphs" fill="#000">06/25 15:48:54</text>
<line x1="917.50" y1="2528.00" x2="917.50" y2="2519.67" stroke="#000" stroke-width="1.00" stroke-linecap="butt"/>
<line x1="917.50" y1="2306.00" x2="917.50" y2="2314.33" stroke="#000" stroke-width="1.00" stroke-linecap="butt"/>
<text x="916.76" y="2550.36" font-size="17.17" text-anchor="middle" textLength="126.79" lengthAdjust="spacingAndGlyphs" fill="#000">06/25 15:49:09</text>
<line x1="1086.50" y1="2528.00" x2="1086.50" y2="2519.67" stroke="#000" stroke-width="1.00" stroke-linecap="butt"/>
<line x1="1086.50" y1="2306.00" x2="1086.50" y2="2314.33" stroke="#000" stroke-width="1.00" stroke-linecap="butt"/>
<text x="1085.75" y="2550.36" font-size="17.17" text-anchor="middle" textLength="126.79" lengthAdjust="spacingAndGlyphs" fill="#000">06/25 15:49:24</text>
<line x1="1255.50" y1="2528.00" x2="1255.50" y2="2519.67" stroke="#000" stroke-width="1.00" stroke-linecap="butt"/>
<line x1="1255.50" y1="2306.00" x2="1255.50" y2="2314.33" stroke="#000" stroke-width="1.00" stroke-linecap="butt"/>
<text x="1254.74" y="2550.36" font-size="17.17" text-anchor="middle" textLength="126.79" lengthAdjust="spacingAndGlyphs" fill="#000">06/25 15:49:39</text>
<line x1="1424.50" y1="2528.00" x2="1424.50" y2="2519.67" stroke="#000" stroke-width="1.00" stroke-linecap="butt"/>
<line x1="1424.50" y1="2306.00" x2="1424.50" y2="2314.33" stroke="#000" stroke-width="1.00" stroke-linecap="butt"/>
<text x="1423.73" y="2550.36" font-size="17.17" text-anchor="middle" textLength="126.79" lengthAdjust="spacingAndGlyphs" fill="#000">06/25 15:49:54</text>
<line x1="1593.50" y1="2528.00" x2="1593.50" y2="2519.67" stroke="#000" stroke-width="1.00" stroke-linecap="butt"/>
<line x1="1593.50" y1="2306.00" x2="1593.50" y2="2314.33" stroke="#000" stroke-width="1.00" stroke-linecap="butt"/>
<text x="1592.72" y="2550.36" font-size="17.17" text-anchor="middle" textLength="126.79" lengthAdjust="spacingAndGlyphs" fill="#000">06/25 15:50:09</text>
<line x1="117.00" y1="2528.50" x2="125.33" y2="2528.50" stroke="#000" stroke-width="1.00" stroke-linecap="butt"/>
<line x1="1683.00" y1="2528.50" x2="1674.67" y2="2528.50" stroke="#000" stroke-width="1.00" stroke-linecap="butt"/>
<text x="107.84" y="2532.76" font-size="17.17" text-anchor="end" textLength="35.70" lengthAdjust="spacingAndGlyphs" fill="#000">0.09</text>
<line x1="117.00" y1="2500.50" x2="125.33" y2="2500.50" stroke="#000" stroke-width="1.00" stroke-linecap="butt"/>
<line x1="1683.00" y1="2500.50" x2="1674.67" y2="2500.50" stroke="#000" stroke-width="1.00" stroke-linecap="butt"/>
<text x="107.84" y="2505.04" font-size="17.17" text-anchor="end" textLength="35.70" lengthAdjust="spacingAndGlyphs" fill="#000">0.10</text>
<line x1="117.00" y1="2472.50" x2="125.33" y2="2472.50" stroke="#000" stroke-width="1.00" stroke-linecap="butt"/>
<line x1="1683.00" y1="2472.50" x2="1674.67" y2="2472.50" stroke="#000" stroke-width="1.00" stroke-linecap="butt"/>
<text x="107.84" y="2477.31" font-size="17.17" text-anchor="end" textLength="35.70" lengthAdjust="spacingAndGlyphs" fill="#000">0.11</text>
<line x1="117.00" y1="2445.50" x2="125.33" y2="2445.50" stroke="#000" stroke-width="1.00" stroke-linecap="butt"/>
<line x1="1683.00" y1="2445.50" x2="1674.67" y2="2445.50" stroke="#000" stroke-width="1.00" stroke-linecap="butt"/>
<text x="107.84" y="2449.59" font-size="17.17" text-anchor="end" textLength="35.70" lengthAdjust="spacingAndGlyphs" fill="#000">0.12</text>
<line x1="117.00" y1="2417.50" x2="125.33" y2="2417.50" stroke="#000" stroke-width="1.00" stroke-linecap="butt"/>
<line x1="1683.00" y1="2417.50" x2="1674.67" y2="2417.50" stroke="#000" stroke-width="1.00" stroke-linecap="butt"/>
<text x="107.84" y="2421.86" font-size="17.17" text-anchor="end" textLength="35.70" lengthAdjust="spacingAndGlyphs" fill="#000">0.13</text>
<line x1="117.00" y1="2389.50" x2="125.33" y2="2389.50" stroke="#000" stroke-width="1.00" stroke-linecap="butt"/>
<line x1="1683.00" y1="2389.50" x2="1674.67" y2="2389.50" stroke="#000" stroke-width="1.00" stroke-linecap="butt"/>
<text x="107.84" y="2394.14" font-size="17.17" text-anchor="end" textLength="35.70" lengthAdjust="spacingAndGlyphs" fill="#000">0.14</text>
<line x1="117.00" y1="2362.50" x2="125.33" y2="2362.50" stroke="#000" stroke-width="1.00" stroke-linecap="butt"/>
<line x1="1683.00" y1="2362.50" x2="1674.67" y2="2362.50" stroke="#000" stroke-width="1.00" stroke-linecap="butt"/>
<text x="107.84" y="2366.41" font-size="17.17" text-anchor="end" textLength="35.70" lengthAdjust="spacingAndGlyphs" fill="#000">0.15</text>
<line x1="117.00" y1="2334.50" x2="125.33" y2="2334.50" stroke="#000" stroke-width="1.00" stroke-linecap="butt"/>
<line x1="1683.00" y1="2334.50" x2="1674.67" y2="2334.50" stroke="#000" stroke-width="1.00" stroke-linecap="butt"/>
<text x="107.84" y="2338.69" font-size="17.17" text-anchor="end" textLength="35.70" lengthAdjust="spacingAndGlyphs" fill="#000">0.16</text>
<line x1="117.00" y1="2306.50" x2="125.33" y2="2306.50" stroke="#000" stroke-width="1.00" stroke-linecap="butt"/>
<line x1="1683.00" y1="2306.50" x2="1674.67" y2="2306.50" stroke="#000" stroke-width="1.00" stroke-linecap="butt"/>
<text x="107.84" y="2310.96" font-size="17.17" text-anchor="end" textLength="35.70" lengthAdjust="spacingAndGlyphs" fill="#000">0.17</text>
<text x="900.00" y="2296.06" font-size="24.00" text-anchor="middle" textLength="143.08" lengthAdjust="spacingAndGlyphs" fill="#000">Plasma Beta</text>
<g transform="rotate(-90 54.00 2416.96)"><text x="54.00" y="2416.96" class="m" font-size="17" text-anchor="middle" fill="#000">β<tspan font-size="12" dy="4">p</tspan></text></g>
<clipPath id="cts4"><rect x="117.00" y="2639.78" width="1566.00" height="221.80"/></clipPath>
<g clip-path="url(#cts4)">
<polyline fill="none" stroke="#0000ff" stroke-width="2.08" stroke-linejoin="round" points="117.0,2679.8 128.3,2659.6 139.5,2649.1 150.8,2683.2 162.1,2755.3 173.3,2745.3 184.6,2735.9 195.9,2735.9 207.1,2750.4 218.4,2747.0 229.7,2722.5 240.9,2663.6 252.2,2731.9 263.5,2679.0 274.7,2708.3 286.0,2706.6 297.3,2710.9 308.5,2699.2 319.8,2701.5 331.1,2676.1 342.3,2667.6 353.6,2681.2 364.9,2665.0 376.1,2688.4 387.4,2735.3 398.7,2676.4 409.9,2723.1 421.2,2739.3 432.5,2742.7 443.7,2740.2 455.0,2770.4 466.3,2778.3 477.5,2743.9 488.8,2768.9 500.1,2775.2 511.3,2767.8 522.6,2721.7 533.8,2744.4 545.1,2792.8 556.4,2780.9 567.6,2735.6 578.9,2745.3 590.2,2779.5 601.4,2759.0 612.7,2791.4 624.0,2781.7 635.2,2807.4 646.5,2837.0 657.8,2824.2 669.0,2823.6 680.3,2802.5 691.6,2799.4 702.8,2796.5 714.1,2771.5 725.4,2720.2 736.6,2799.4 747.9,2816.2 759.2,2769.5 770.4,2782.9 781.7,2789.1 793.0,2772.9 804.2,2786.6 815.5,2751.0 826.8,2745.3 838.0,2784.6 849.3,2779.5 860.6,2778.6 871.8,2769.8 883.1,2724.8 894.4,2693.8 905.6,2755.3 916.9,2717.7 928.2,2747.6 939.4,2735.6 950.7,2730.5 962.0,2706.0 973.2,2712.3 984.5,2696.6 995.8,2697.5 1007.0,2691.8 1018.3,2718.0 1029.6,2710.6 1040.8,2642.0 1052.1,2640.0 1063.4,2722.8 1074.6,2722.8 1085.9,2705.4 1097.2,2689.8 1108.4,2737.0 1119.7,2725.7 1131.0,2755.8 1142.2,2747.3 1153.5,2741.3 1164.8,2735.9 1176.0,2746.2 1187.3,2730.5 1198.6,2751.0 1209.8,2689.8 1221.1,2758.4 1232.4,2751.3 1243.6,2744.2 1254.9,2738.2 1266.2,2723.4 1277.4,2733.1 1288.7,2751.0 1299.9,2746.2 1311.2,2741.3 1322.5,2753.0 1333.7,2753.6 1345.0,2769.2 1356.3,2749.6 1367.5,2735.3 1378.8,2692.6 1390.1,2735.6 1401.3,2736.2 1412.6,2747.0 1423.9,2740.7 1435.1,2761.8 1446.4,2745.9 1457.7,2741.0 1468.9,2745.9 1480.2,2729.6 1491.5,2745.9 1502.7,2737.9 1514.0,2759.8 1525.3,2761.2 1536.5,2671.0 1547.8,2775.5 1559.1,2761.8 1570.3,2776.9 1581.6,2774.1 1592.9,2767.2 1604.1,2749.6 1615.4,2732.2 1626.7,2780.0 1637.9,2743.3 1649.2,2766.1 1660.5,2728.5 1671.7,2706.9 1683.0,2688.9"/>
</g>
<rect x="117" y="2640" width="1566" height="222" fill="none" stroke="#000" stroke-width="2"/>
<line x1="241.50" y1="2862.00" x2="241.50" y2="2853.67" stroke="#000" stroke-width="1.00" stroke-linecap="butt"/>
<line x1="241.50" y1="2640.00" x2="241.50" y2="2648.33" stroke="#000" stroke-width="1.00" stroke-linecap="butt"/>
<text x="240.80" y="2884.08" font-size="17.17" text-anchor="middle" textLength="126.79" lengthAdjust="spacingAndGlyphs" fill="#000">06/25 15:48:09</text>
<line x1="410.50" y1="2862.00" x2="410.50" y2="2853.67" stroke="#000" stroke-width="1.00" stroke-linecap="butt"/>
<line x1="410.50" y1="2640.00" x2="410.50" y2="2648.33" stroke="#000" stroke-width="1.00" stroke-linecap="butt"/>
<text x="409.79" y="2884.08" font-size="17.17" text-anchor="middle" textLength="126.79" lengthAdjust="spacingAndGlyphs" fill="#000">06/25 15:48:24</text>
<line x1="579.50" y1="2862.00" x2="579.50" y2="2853.67" stroke="#000" stroke-width="1.00" stroke-linecap="butt"/>
<line x1="579.50" y1="2640.00" x2="579.50" y2="2648.33" stroke="#000" stroke-width="1.00" stroke-linecap="butt"/>
<text x="578.78" y="2884.08" font-size="17.17" text-anchor="middle" textLength="126.79" lengthAdjust="spacingAndGlyphs" fill="#000">06/25 15:48:39</text>
<line x1="748.50" y1="2862.00" x2="748.50" y2="2853.67" stroke="#000" stroke-width="1.00" stroke-linecap="butt"/>
<line x1="748.50" y1="2640.00" x2="748.50" y2="2648.33" stroke="#000" stroke-width="1.00" stroke-linecap="butt"/>
<text x="747.77" y="2884.08" font-size="17.17" text-anchor="middle" textLength="126.79" lengthAdjust="spacingAndGlyphs" fill="#000">06/25 15:48:54</text>
<line x1="917.50" y1="2862.00" x2="917.50" y2="2853.67" stroke="#000" stroke-width="1.00" stroke-linecap="butt"/>
<line x1="917.50" y1="2640.00" x2="917.50" y2="2648.33" stroke="#000" stroke-width="1.00" stroke-linecap="butt"/>
<text x="916.76" y="2884.08" font-size="17.17" text-anchor="middle" textLength="126.79" lengthAdjust="spacingAndGlyphs" fill="#000">06/25 15:49:09</text>
<line x1="1086.50" y1="2862.00" x2="1086.50" y2="2853.67" stroke="#000" stroke-width="1.00" stroke-linecap="butt"/>
<line x1="1086.50" y1="2640.00" x2="1086.50" y2="2648.33" stroke="#000" stroke-width="1.00" stroke-linecap="butt"/>
<text x="1085.75" y="2884.08" font-size="17.17" text-anchor="middle" textLength="126.79" lengthAdjust="spacingAndGlyphs" fill="#000">06/25 15:49:24</text>
<line x1="1255.50" y1="2862.00" x2="1255.50" y2="2853.67" stroke="#000" stroke-width="1.00" stroke-linecap="butt"/>
<line x1="1255.50" y1="2640.00" x2="1255.50" y2="2648.33" stroke="#000" stroke-width="1.00" stroke-linecap="butt"/>
<text x="1254.74" y="2884.08" font-size="17.17" text-anchor="middle" textLength="126.79" lengthAdjust="spacingAndGlyphs" fill="#000">06/25 15:49:39</text>
<line x1="1424.50" y1="2862.00" x2="1424.50" y2="2853.67" stroke="#000" stroke-width="1.00" stroke-linecap="butt"/>
<line x1="1424.50" y1="2640.00" x2="1424.50" y2="2648.33" stroke="#000" stroke-width="1.00" stroke-linecap="butt"/>
<text x="1423.73" y="2884.08" font-size="17.17" text-anchor="middle" textLength="126.79" lengthAdjust="spacingAndGlyphs" fill="#000">06/25 15:49:54</text>
<line x1="1593.50" y1="2862.00" x2="1593.50" y2="2853.67" stroke="#000" stroke-width="1.00" stroke-linecap="butt"/>
<line x1="1593.50" y1="2640.00" x2="1593.50" y2="2648.33" stroke="#000" stroke-width="1.00" stroke-linecap="butt"/>
<text x="1592.72" y="2884.08" font-size="17.17" text-anchor="middle" textLength="126.79" lengthAdjust="spacingAndGlyphs" fill="#000">06/25 15:50:09</text>
<line x1="117.00" y1="2862.50" x2="125.33" y2="2862.50" stroke="#000" stroke-width="1.00" stroke-linecap="butt"/>
<line x1="1683.00" y1="2862.50" x2="1674.67" y2="2862.50" stroke="#000" stroke-width="1.00" stroke-linecap="butt"/>
<text x="107.84" y="2866.48" font-size="17.17" text-anchor="end" textLength="30.40" lengthAdjust="spacingAndGlyphs" fill="#000">130</text>
<line x1="117.00" y1="2825.50" x2="125.33" y2="2825.50" stroke="#000" stroke-width="1.00" stroke-linecap="butt"/>
<line x1="1683.00" y1="2825.50" x2="1674.67" y2="2825.50" stroke="#000" stroke-width="1.00" stroke-linecap="butt"/>
<text x="107.84" y="2829.51" font-size="17.17" text-anchor="end" textLength="30.40" lengthAdjust="spacingAndGlyphs" fill="#000">140</text>
<line x1="117.00" y1="2788.50" x2="125.33" y2="2788.50" stroke="#000" stroke-width="1.00" stroke-linecap="butt"/>
<line x1="1683.00" y1="2788.50" x2="1674.67" y2="2788.50" stroke="#000" stroke-width="1.00" stroke-linecap="butt"/>
<text x="107.84" y="2792.55" font-size="17.17" text-anchor="end" textLength="30.40" lengthAdjust="spacingAndGlyphs" fill="#000">150</text>
<line x1="117.00" y1="2751.50" x2="125.33" y2="2751.50" stroke="#000" stroke-width="1.00" stroke-linecap="butt"/>
<line x1="1683.00" y1="2751.50" x2="1674.67" y2="2751.50" stroke="#000" stroke-width="1.00" stroke-linecap="butt"/>
<text x="107.84" y="2755.58" font-size="17.17" text-anchor="end" textLength="30.40" lengthAdjust="spacingAndGlyphs" fill="#000">160</text>
<line x1="117.00" y1="2714.50" x2="125.33" y2="2714.50" stroke="#000" stroke-width="1.00" stroke-linecap="butt"/>
<line x1="1683.00" y1="2714.50" x2="1674.67" y2="2714.50" stroke="#000" stroke-width="1.00" stroke-linecap="butt"/>
<text x="107.84" y="2718.61" font-size="17.17" text-anchor="end" textLength="30.40" lengthAdjust="spacingAndGlyphs" fill="#000">170</text>
<line x1="117.00" y1="2677.50" x2="125.33" y2="2677.50" stroke="#000" stroke-width="1.00" stroke-linecap="butt"/>
<line x1="1683.00" y1="2677.50" x2="1674.67" y2="2677.50" stroke="#000" stroke-width="1.00" stroke-linecap="butt"/>
<text x="107.84" y="2681.65" font-size="17.17" text-anchor="end" textLength="30.40" lengthAdjust="spacingAndGlyphs" fill="#000">180</text>
<line x1="117.00" y1="2640.50" x2="125.33" y2="2640.50" stroke="#000" stroke-width="1.00" stroke-linecap="butt"/>
<line x1="1683.00" y1="2640.50" x2="1674.67" y2="2640.50" stroke="#000" stroke-width="1.00" stroke-linecap="butt"/>
<text x="107.84" y="2644.68" font-size="17.17" text-anchor="end" textLength="30.40" lengthAdjust="spacingAndGlyphs" fill="#000">190</text>
<text x="900.00" y="2629.78" font-size="24.00" text-anchor="middle" textLength="270.13" lengthAdjust="spacingAndGlyphs" fill="#000">Proton Number Density</text>
<text x="61.60" y="2752.18" font-size="17.17" text-anchor="middle" textLength="72.56" lengthAdjust="spacingAndGlyphs" fill="#000" transform="rotate(-90 61.60 2752.18)">Np(#/cc)</text>
<clipPath id="cts5"><rect x="117.00" y="2973.50" width="1566.00" height="221.80"/></clipPath>
<g clip-path="url(#cts5)">
<polyline fill="none" stroke="#0000ff" stroke-width="2.08" stroke-linejoin="round" points="117.0,3063.6 128.3,3006.7 139.5,3023.8 150.8,2992.5 162.1,3089.6 173.3,3102.4 184.6,3098.1 195.9,3055.1 207.1,3087.6 218.4,3120.0 229.7,3091.3 240.9,3097.8 252.2,3098.4 263.5,3040.0 274.7,3124.0 286.0,3102.6 297.3,3109.5 308.5,3086.7 319.8,3092.7 331.1,3057.7 342.3,3067.3 353.6,3091.0 364.9,3053.1 376.1,3085.0 387.4,3100.7 398.7,3087.0 409.9,3054.8 421.2,3103.5 432.5,3102.6 443.7,3114.6 455.0,3118.6 466.3,3122.6 477.5,3093.8 488.8,3095.0 500.1,3087.6 511.3,3101.4 522.6,2996.5 533.8,3063.1 545.1,3147.9 556.4,3091.8 567.6,3182.6 578.9,3095.8 590.2,3078.7 601.4,3039.2 612.7,3074.7 624.0,3061.7 635.2,3054.5 646.5,3090.1 657.8,3078.2 669.0,3120.3 680.3,3066.8 691.6,3102.6 702.8,3078.2 714.1,3062.2 725.4,3099.8 736.6,3083.9 747.9,3151.3 759.2,3042.9 770.4,3088.1 781.7,3086.4 793.0,3057.4 804.2,3122.9 815.5,3105.5 826.8,3041.7 838.0,3134.0 849.3,3087.6 860.6,3122.0 871.8,3036.3 883.1,3121.4 894.4,3112.8 905.6,3127.7 916.9,3055.4 928.2,3101.2 939.4,3113.5 950.7,3117.7 962.0,3098.9 973.2,3101.8 984.5,3081.9 995.8,3111.8 1007.0,3046.6 1018.3,3110.9 1029.6,3070.2 1040.8,3124.9 1052.1,3072.2 1063.4,3098.4 1074.6,3124.9 1085.9,3097.2 1097.2,3081.6 1108.4,3100.1 1119.7,3096.7 1131.0,3134.8 1142.2,3104.6 1153.5,3094.1 1164.8,3055.4 1176.0,3128.3 1187.3,3126.3 1198.6,3110.6 1209.8,3108.9 1221.1,3134.0 1232.4,3115.2 1243.6,3122.3 1254.9,3107.8 1266.2,3083.6 1277.4,3111.5 1288.7,3110.3 1299.9,3118.0 1311.2,3063.4 1322.5,3084.4 1333.7,3129.1 1345.0,3114.9 1356.3,3111.8 1367.5,3097.5 1378.8,3122.9 1390.1,3089.8 1401.3,3119.7 1412.6,3127.7 1423.9,3114.3 1435.1,3128.8 1446.4,3093.3 1457.7,3087.8 1468.9,3041.2 1480.2,3074.5 1491.5,3085.3 1502.7,3073.9 1514.0,3118.0 1525.3,3101.2 1536.5,3118.3 1547.8,3117.7 1559.1,3096.4 1570.3,3096.4 1581.6,3098.9 1592.9,3090.1 1604.1,3053.7 1615.4,3073.6 1626.7,3118.6 1637.9,3122.6 1649.2,3108.9 1660.5,3124.6 1671.7,3130.0 1683.0,3114.9"/>
</g>
<rect x="117" y="2974" width="1566" height="221" fill="none" stroke="#000" stroke-width="2"/>
<line x1="241.50" y1="3195.00" x2="241.50" y2="3186.67" stroke="#000" stroke-width="1.00" stroke-linecap="butt"/>
<line x1="241.50" y1="2974.00" x2="241.50" y2="2982.33" stroke="#000" stroke-width="1.00" stroke-linecap="butt"/>
<text x="240.80" y="3217.80" font-size="17.17" text-anchor="middle" textLength="126.79" lengthAdjust="spacingAndGlyphs" fill="#000">06/25 15:48:09</text>
<line x1="410.50" y1="3195.00" x2="410.50" y2="3186.67" stroke="#000" stroke-width="1.00" stroke-linecap="butt"/>
<line x1="410.50" y1="2974.00" x2="410.50" y2="2982.33" stroke="#000" stroke-width="1.00" stroke-linecap="butt"/>
<text x="409.79" y="3217.80" font-size="17.17" text-anchor="middle" textLength="126.79" lengthAdjust="spacingAndGlyphs" fill="#000">06/25 15:48:24</text>
<line x1="579.50" y1="3195.00" x2="579.50" y2="3186.67" stroke="#000" stroke-width="1.00" stroke-linecap="butt"/>
<line x1="579.50" y1="2974.00" x2="579.50" y2="2982.33" stroke="#000" stroke-width="1.00" stroke-linecap="butt"/>
<text x="578.78" y="3217.80" font-size="17.17" text-anchor="middle" textLength="126.79" lengthAdjust="spacingAndGlyphs" fill="#000">06/25 15:48:39</text>
<line x1="748.50" y1="3195.00" x2="748.50" y2="3186.67" stroke="#000" stroke-width="1.00" stroke-linecap="butt"/>
<line x1="748.50" y1="2974.00" x2="748.50" y2="2982.33" stroke="#000" stroke-width="1.00" stroke-linecap="butt"/>
<text x="747.77" y="3217.80" font-size="17.17" text-anchor="middle" textLength="126.79" lengthAdjust="spacingAndGlyphs" fill="#000">06/25 15:48:54</text>
<line x1="917.50" y1="3195.00" x2="917.50" y2="3186.67" stroke="#000" stroke-width="1.00" stroke-linecap="butt"/>
<line x1="917.50" y1="2974.00" x2="917.50" y2="2982.33" stroke="#000" stroke-width="1.00" stroke-linecap="butt"/>
<text x="916.76" y="3217.80" font-size="17.17" text-anchor="middle" textLength="126.79" lengthAdjust="spacingAndGlyphs" fill="#000">06/25 15:49:09</text>
<line x1="1086.50" y1="3195.00" x2="1086.50" y2="3186.67" stroke="#000" stroke-width="1.00" stroke-linecap="butt"/>
<line x1="1086.50" y1="2974.00" x2="1086.50" y2="2982.33" stroke="#000" stroke-width="1.00" stroke-linecap="butt"/>
<text x="1085.75" y="3217.80" font-size="17.17" text-anchor="middle" textLength="126.79" lengthAdjust="spacingAndGlyphs" fill="#000">06/25 15:49:24</text>
<line x1="1255.50" y1="3195.00" x2="1255.50" y2="3186.67" stroke="#000" stroke-width="1.00" stroke-linecap="butt"/>
<line x1="1255.50" y1="2974.00" x2="1255.50" y2="2982.33" stroke="#000" stroke-width="1.00" stroke-linecap="butt"/>
<text x="1254.74" y="3217.80" font-size="17.17" text-anchor="middle" textLength="126.79" lengthAdjust="spacingAndGlyphs" fill="#000">06/25 15:49:39</text>
<line x1="1424.50" y1="3195.00" x2="1424.50" y2="3186.67" stroke="#000" stroke-width="1.00" stroke-linecap="butt"/>
<line x1="1424.50" y1="2974.00" x2="1424.50" y2="2982.33" stroke="#000" stroke-width="1.00" stroke-linecap="butt"/>
<text x="1423.73" y="3217.80" font-size="17.17" text-anchor="middle" textLength="126.79" lengthAdjust="spacingAndGlyphs" fill="#000">06/25 15:49:54</text>
<line x1="1593.50" y1="3195.00" x2="1593.50" y2="3186.67" stroke="#000" stroke-width="1.00" stroke-linecap="butt"/>
<line x1="1593.50" y1="2974.00" x2="1593.50" y2="2982.33" stroke="#000" stroke-width="1.00" stroke-linecap="butt"/>
<text x="1592.72" y="3217.80" font-size="17.17" text-anchor="middle" textLength="126.79" lengthAdjust="spacingAndGlyphs" fill="#000">06/25 15:50:09</text>
<line x1="117.00" y1="3195.50" x2="125.33" y2="3195.50" stroke="#000" stroke-width="1.00" stroke-linecap="butt"/>
<line x1="1683.00" y1="3195.50" x2="1674.67" y2="3195.50" stroke="#000" stroke-width="1.00" stroke-linecap="butt"/>
<text x="107.84" y="3200.20" font-size="17.17" text-anchor="end" textLength="46.31" lengthAdjust="spacingAndGlyphs" fill="#000">0.085</text>
<line x1="117.00" y1="3168.50" x2="125.33" y2="3168.50" stroke="#000" stroke-width="1.00" stroke-linecap="butt"/>
<line x1="1683.00" y1="3168.50" x2="1674.67" y2="3168.50" stroke="#000" stroke-width="1.00" stroke-linecap="butt"/>
<text x="107.84" y="3172.48" font-size="17.17" text-anchor="end" textLength="46.31" lengthAdjust="spacingAndGlyphs" fill="#000">0.090</text>
<line x1="117.00" y1="3140.50" x2="125.33" y2="3140.50" stroke="#000" stroke-width="1.00" stroke-linecap="butt"/>
<line x1="1683.00" y1="3140.50" x2="1674.67" y2="3140.50" stroke="#000" stroke-width="1.00" stroke-linecap="butt"/>
<text x="107.84" y="3144.75" font-size="17.17" text-anchor="end" textLength="46.31" lengthAdjust="spacingAndGlyphs" fill="#000">0.095</text>
<line x1="117.00" y1="3112.50" x2="125.33" y2="3112.50" stroke="#000" stroke-width="1.00" stroke-linecap="butt"/>
<line x1="1683.00" y1="3112.50" x2="1674.67" y2="3112.50" stroke="#000" stroke-width="1.00" stroke-linecap="butt"/>
<text x="107.84" y="3117.03" font-size="17.17" text-anchor="end" textLength="46.31" lengthAdjust="spacingAndGlyphs" fill="#000">0.100</text>
<line x1="117.00" y1="3084.50" x2="125.33" y2="3084.50" stroke="#000" stroke-width="1.00" stroke-linecap="butt"/>
<line x1="1683.00" y1="3084.50" x2="1674.67" y2="3084.50" stroke="#000" stroke-width="1.00" stroke-linecap="butt"/>
<text x="107.84" y="3089.30" font-size="17.17" text-anchor="end" textLength="46.31" lengthAdjust="spacingAndGlyphs" fill="#000">0.105</text>
<line x1="117.00" y1="3057.50" x2="125.33" y2="3057.50" stroke="#000" stroke-width="1.00" stroke-linecap="butt"/>
<line x1="1683.00" y1="3057.50" x2="1674.67" y2="3057.50" stroke="#000" stroke-width="1.00" stroke-linecap="butt"/>
<text x="107.84" y="3061.58" font-size="17.17" text-anchor="end" textLength="46.31" lengthAdjust="spacingAndGlyphs" fill="#000">0.110</text>
<line x1="117.00" y1="3029.50" x2="125.33" y2="3029.50" stroke="#000" stroke-width="1.00" stroke-linecap="butt"/>
<line x1="1683.00" y1="3029.50" x2="1674.67" y2="3029.50" stroke="#000" stroke-width="1.00" stroke-linecap="butt"/>
<text x="107.84" y="3033.85" font-size="17.17" text-anchor="end" textLength="46.31" lengthAdjust="spacingAndGlyphs" fill="#000">0.115</text>
<line x1="117.00" y1="3001.50" x2="125.33" y2="3001.50" stroke="#000" stroke-width="1.00" stroke-linecap="butt"/>
<line x1="1683.00" y1="3001.50" x2="1674.67" y2="3001.50" stroke="#000" stroke-width="1.00" stroke-linecap="butt"/>
<text x="107.84" y="3006.12" font-size="17.17" text-anchor="end" textLength="46.31" lengthAdjust="spacingAndGlyphs" fill="#000">0.120</text>
<line x1="117.00" y1="2974.50" x2="125.33" y2="2974.50" stroke="#000" stroke-width="1.00" stroke-linecap="butt"/>
<line x1="1683.00" y1="2974.50" x2="1674.67" y2="2974.50" stroke="#000" stroke-width="1.00" stroke-linecap="butt"/>
<text x="107.84" y="2978.40" font-size="17.17" text-anchor="end" textLength="46.31" lengthAdjust="spacingAndGlyphs" fill="#000">0.125</text>
<text x="726.61" y="2962.00" font-size="24.00" text-anchor="start" textLength="279.38" lengthAdjust="spacingAndGlyphs" fill="#000">Proton Temperature and</text>
<text x="1016.39" y="2962.00" class="m" font-size="24" textLength="56" lengthAdjust="spacing" fill="#000">T<tspan font-size="17" dy="5">e</tspan><tspan dy="-5" font-style="normal">/</tspan>T<tspan font-size="17" dy="5">p</tspan></text>
<g transform="rotate(-90 43.10 3085.90)">
<text x="10.05" y="3085.90" font-size="17.17" text-anchor="start" textLength="25.85" lengthAdjust="spacingAndGlyphs" fill="#000">Tp(</text>
<text x="37.85" y="3085.90" class="mr" font-size="17.5" fill="#000">10</text>
<text x="55.65" y="3079.40" class="mr" font-size="11.5" fill="#000">6</text>
<text x="60.35" y="3085.90" font-size="17.17" text-anchor="start" textLength="16.02" lengthAdjust="spacingAndGlyphs" fill="#000">K)</text>
</g>
<rect x="124" y="2980" width="71" height="27" fill="#fff" stroke="#000" stroke-width="2"/>
<line x1="134.20" y1="2993.30" x2="156.10" y2="2993.30" stroke="#0000ff" stroke-width="2.08" stroke-linecap="butt"/>
<text x="171.20" y="2998.10" font-size="15.80" text-anchor="start" textLength="16.94" lengthAdjust="spacingAndGlyphs" fill="#000">Tp</text>
</svg></body></html>
